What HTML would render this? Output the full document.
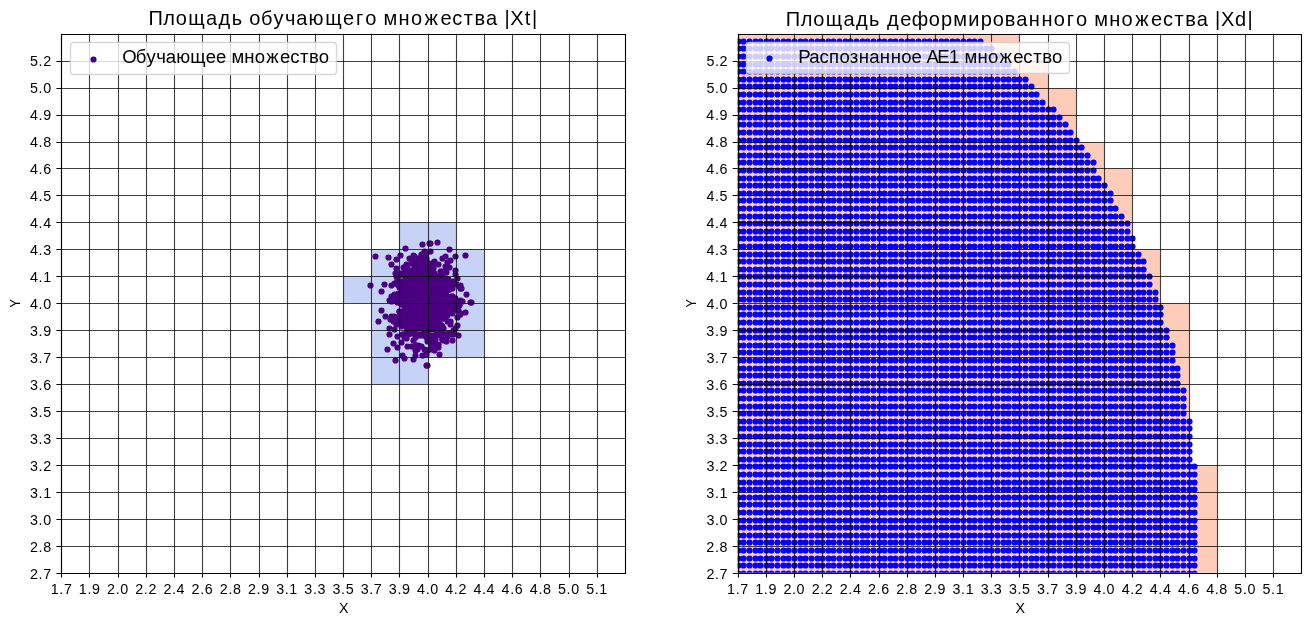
<!DOCTYPE html><html><head><meta charset="utf-8"><style>html,body{margin:0;padding:0;background:#fff;overflow:hidden}svg{display:block;will-change:transform}text{font-family:"Liberation Sans",sans-serif;fill:#000}</style></head><body><svg width="1311" height="626" viewBox="0 0 1311 626"><rect width="1311" height="626" fill="#fff"/><defs><clipPath id="c0"><rect x="61.28" y="33.72" width="563.64" height="539"/></clipPath><clipPath id="c1"><rect x="737.64" y="33.72" width="563.64" height="539"/></clipPath></defs><g clip-path="url(#c0)"><path d="M399 222H428V249H399ZM428 222H456V249H428ZM371 249H399V276H371ZM399 249H428V276H399ZM428 249H456V276H428ZM456 249H484V276H456ZM343 276H371V303H343ZM371 276H399V303H371ZM399 276H428V303H399ZM428 276H456V303H428ZM456 276H484V303H456ZM371 303H399V330H371ZM399 303H428V330H399ZM428 303H456V330H428ZM456 303H484V330H456ZM371 330H399V357H371ZM399 330H428V357H399ZM428 330H456V357H428ZM456 330H484V357H456ZM371 357H399V384H371ZM399 357H428V384H399Z" fill="rgb(198,210,246)"/><g fill="#4b0082"><circle cx="425.5" cy="309.5" r="3.08"/><circle cx="420.5" cy="284.5" r="3.08"/><circle cx="418.5" cy="282.5" r="3.08"/><circle cx="425.5" cy="331.5" r="3.08"/><circle cx="417.5" cy="290.5" r="3.08"/><circle cx="432.5" cy="310.5" r="3.08"/><circle cx="426.5" cy="283.5" r="3.08"/><circle cx="424.5" cy="318.5" r="3.08"/><circle cx="404.5" cy="293.5" r="3.08"/><circle cx="396.5" cy="276.5" r="3.08"/><circle cx="397.5" cy="298.5" r="3.08"/><circle cx="405.5" cy="309.5" r="3.08"/><circle cx="427.5" cy="299.5" r="3.08"/><circle cx="424.5" cy="305.5" r="3.08"/><circle cx="402.5" cy="293.5" r="3.08"/><circle cx="410.5" cy="286.5" r="3.08"/><circle cx="440.5" cy="286.5" r="3.08"/><circle cx="424.5" cy="322.5" r="3.08"/><circle cx="416.5" cy="301.5" r="3.08"/><circle cx="426.5" cy="304.5" r="3.08"/><circle cx="406.5" cy="305.5" r="3.08"/><circle cx="445.5" cy="271.5" r="3.08"/><circle cx="437.5" cy="306.5" r="3.08"/><circle cx="415.5" cy="345.5" r="3.08"/><circle cx="436.5" cy="278.5" r="3.08"/><circle cx="426.5" cy="315.5" r="3.08"/><circle cx="422.5" cy="317.5" r="3.08"/><circle cx="424.5" cy="317.5" r="3.08"/><circle cx="446.5" cy="289.5" r="3.08"/><circle cx="428.5" cy="293.5" r="3.08"/><circle cx="426.5" cy="278.5" r="3.08"/><circle cx="416.5" cy="299.5" r="3.08"/><circle cx="438.5" cy="327.5" r="3.08"/><circle cx="405.5" cy="286.5" r="3.08"/><circle cx="434.5" cy="261.5" r="3.08"/><circle cx="418.5" cy="301.5" r="3.08"/><circle cx="443.5" cy="317.5" r="3.08"/><circle cx="420.5" cy="295.5" r="3.08"/><circle cx="421.5" cy="335.5" r="3.08"/><circle cx="418.5" cy="297.5" r="3.08"/><circle cx="430.5" cy="300.5" r="3.08"/><circle cx="422.5" cy="280.5" r="3.08"/><circle cx="424.5" cy="294.5" r="3.08"/><circle cx="442.5" cy="317.5" r="3.08"/><circle cx="424.5" cy="317.5" r="3.08"/><circle cx="419.5" cy="325.5" r="3.08"/><circle cx="424.5" cy="315.5" r="3.08"/><circle cx="405.5" cy="310.5" r="3.08"/><circle cx="420.5" cy="284.5" r="3.08"/><circle cx="427.5" cy="350.5" r="3.08"/><circle cx="412.5" cy="290.5" r="3.08"/><circle cx="428.5" cy="313.5" r="3.08"/><circle cx="422.5" cy="299.5" r="3.08"/><circle cx="435.5" cy="314.5" r="3.08"/><circle cx="409.5" cy="301.5" r="3.08"/><circle cx="425.5" cy="281.5" r="3.08"/><circle cx="428.5" cy="285.5" r="3.08"/><circle cx="439.5" cy="307.5" r="3.08"/><circle cx="426.5" cy="291.5" r="3.08"/><circle cx="423.5" cy="261.5" r="3.08"/><circle cx="408.5" cy="311.5" r="3.08"/><circle cx="393.5" cy="321.5" r="3.08"/><circle cx="398.5" cy="319.5" r="3.08"/><circle cx="412.5" cy="319.5" r="3.08"/><circle cx="426.5" cy="271.5" r="3.08"/><circle cx="443.5" cy="333.5" r="3.08"/><circle cx="424.5" cy="297.5" r="3.08"/><circle cx="422.5" cy="283.5" r="3.08"/><circle cx="441.5" cy="292.5" r="3.08"/><circle cx="424.5" cy="286.5" r="3.08"/><circle cx="415.5" cy="276.5" r="3.08"/><circle cx="443.5" cy="300.5" r="3.08"/><circle cx="439.5" cy="303.5" r="3.08"/><circle cx="414.5" cy="296.5" r="3.08"/><circle cx="416.5" cy="303.5" r="3.08"/><circle cx="419.5" cy="297.5" r="3.08"/><circle cx="404.5" cy="286.5" r="3.08"/><circle cx="449.5" cy="289.5" r="3.08"/><circle cx="409.5" cy="310.5" r="3.08"/><circle cx="446.5" cy="272.5" r="3.08"/><circle cx="421.5" cy="290.5" r="3.08"/><circle cx="398.5" cy="318.5" r="3.08"/><circle cx="424.5" cy="305.5" r="3.08"/><circle cx="413.5" cy="313.5" r="3.08"/><circle cx="416.5" cy="300.5" r="3.08"/><circle cx="408.5" cy="277.5" r="3.08"/><circle cx="445.5" cy="292.5" r="3.08"/><circle cx="429.5" cy="302.5" r="3.08"/><circle cx="418.5" cy="292.5" r="3.08"/><circle cx="434.5" cy="297.5" r="3.08"/><circle cx="422.5" cy="303.5" r="3.08"/><circle cx="442.5" cy="317.5" r="3.08"/><circle cx="430.5" cy="291.5" r="3.08"/><circle cx="404.5" cy="323.5" r="3.08"/><circle cx="439.5" cy="300.5" r="3.08"/><circle cx="433.5" cy="319.5" r="3.08"/><circle cx="437.5" cy="322.5" r="3.08"/><circle cx="418.5" cy="335.5" r="3.08"/><circle cx="406.5" cy="321.5" r="3.08"/><circle cx="432.5" cy="321.5" r="3.08"/><circle cx="453.5" cy="334.5" r="3.08"/><circle cx="407.5" cy="268.5" r="3.08"/><circle cx="437.5" cy="282.5" r="3.08"/><circle cx="424.5" cy="321.5" r="3.08"/><circle cx="428.5" cy="304.5" r="3.08"/><circle cx="421.5" cy="304.5" r="3.08"/><circle cx="412.5" cy="271.5" r="3.08"/><circle cx="422.5" cy="283.5" r="3.08"/><circle cx="400.5" cy="314.5" r="3.08"/><circle cx="424.5" cy="312.5" r="3.08"/><circle cx="410.5" cy="289.5" r="3.08"/><circle cx="410.5" cy="284.5" r="3.08"/><circle cx="427.5" cy="287.5" r="3.08"/><circle cx="430.5" cy="310.5" r="3.08"/><circle cx="455.5" cy="274.5" r="3.08"/><circle cx="438.5" cy="301.5" r="3.08"/><circle cx="424.5" cy="273.5" r="3.08"/><circle cx="418.5" cy="319.5" r="3.08"/><circle cx="423.5" cy="305.5" r="3.08"/><circle cx="420.5" cy="327.5" r="3.08"/><circle cx="424.5" cy="257.5" r="3.08"/><circle cx="414.5" cy="262.5" r="3.08"/><circle cx="445.5" cy="304.5" r="3.08"/><circle cx="407.5" cy="283.5" r="3.08"/><circle cx="441.5" cy="306.5" r="3.08"/><circle cx="425.5" cy="302.5" r="3.08"/><circle cx="425.5" cy="320.5" r="3.08"/><circle cx="433.5" cy="308.5" r="3.08"/><circle cx="409.5" cy="314.5" r="3.08"/><circle cx="414.5" cy="326.5" r="3.08"/><circle cx="405.5" cy="300.5" r="3.08"/><circle cx="424.5" cy="275.5" r="3.08"/><circle cx="450.5" cy="334.5" r="3.08"/><circle cx="418.5" cy="319.5" r="3.08"/><circle cx="428.5" cy="302.5" r="3.08"/><circle cx="426.5" cy="280.5" r="3.08"/><circle cx="420.5" cy="299.5" r="3.08"/><circle cx="442.5" cy="310.5" r="3.08"/><circle cx="424.5" cy="335.5" r="3.08"/><circle cx="416.5" cy="295.5" r="3.08"/><circle cx="397.5" cy="336.5" r="3.08"/><circle cx="439.5" cy="322.5" r="3.08"/><circle cx="435.5" cy="305.5" r="3.08"/><circle cx="428.5" cy="298.5" r="3.08"/><circle cx="421.5" cy="304.5" r="3.08"/><circle cx="447.5" cy="315.5" r="3.08"/><circle cx="424.5" cy="291.5" r="3.08"/><circle cx="415.5" cy="337.5" r="3.08"/><circle cx="432.5" cy="304.5" r="3.08"/><circle cx="419.5" cy="280.5" r="3.08"/><circle cx="423.5" cy="321.5" r="3.08"/><circle cx="419.5" cy="298.5" r="3.08"/><circle cx="421.5" cy="305.5" r="3.08"/><circle cx="401.5" cy="298.5" r="3.08"/><circle cx="412.5" cy="322.5" r="3.08"/><circle cx="413.5" cy="315.5" r="3.08"/><circle cx="447.5" cy="296.5" r="3.08"/><circle cx="415.5" cy="307.5" r="3.08"/><circle cx="424.5" cy="282.5" r="3.08"/><circle cx="431.5" cy="345.5" r="3.08"/><circle cx="421.5" cy="299.5" r="3.08"/><circle cx="409.5" cy="310.5" r="3.08"/><circle cx="406.5" cy="280.5" r="3.08"/><circle cx="444.5" cy="284.5" r="3.08"/><circle cx="441.5" cy="335.5" r="3.08"/><circle cx="428.5" cy="315.5" r="3.08"/><circle cx="454.5" cy="299.5" r="3.08"/><circle cx="416.5" cy="275.5" r="3.08"/><circle cx="425.5" cy="334.5" r="3.08"/><circle cx="439.5" cy="283.5" r="3.08"/><circle cx="412.5" cy="292.5" r="3.08"/><circle cx="429.5" cy="299.5" r="3.08"/><circle cx="428.5" cy="309.5" r="3.08"/><circle cx="420.5" cy="302.5" r="3.08"/><circle cx="428.5" cy="301.5" r="3.08"/><circle cx="432.5" cy="342.5" r="3.08"/><circle cx="433.5" cy="304.5" r="3.08"/><circle cx="399.5" cy="311.5" r="3.08"/><circle cx="395.5" cy="273.5" r="3.08"/><circle cx="437.5" cy="318.5" r="3.08"/><circle cx="422.5" cy="267.5" r="3.08"/><circle cx="419.5" cy="289.5" r="3.08"/><circle cx="434.5" cy="350.5" r="3.08"/><circle cx="428.5" cy="287.5" r="3.08"/><circle cx="407.5" cy="302.5" r="3.08"/><circle cx="422.5" cy="279.5" r="3.08"/><circle cx="426.5" cy="279.5" r="3.08"/><circle cx="441.5" cy="325.5" r="3.08"/><circle cx="441.5" cy="293.5" r="3.08"/><circle cx="432.5" cy="300.5" r="3.08"/><circle cx="419.5" cy="296.5" r="3.08"/><circle cx="405.5" cy="273.5" r="3.08"/><circle cx="436.5" cy="299.5" r="3.08"/><circle cx="428.5" cy="324.5" r="3.08"/><circle cx="399.5" cy="287.5" r="3.08"/><circle cx="427.5" cy="311.5" r="3.08"/><circle cx="419.5" cy="325.5" r="3.08"/><circle cx="428.5" cy="278.5" r="3.08"/><circle cx="411.5" cy="320.5" r="3.08"/><circle cx="431.5" cy="263.5" r="3.08"/><circle cx="445.5" cy="316.5" r="3.08"/><circle cx="445.5" cy="295.5" r="3.08"/><circle cx="420.5" cy="279.5" r="3.08"/><circle cx="448.5" cy="289.5" r="3.08"/><circle cx="427.5" cy="268.5" r="3.08"/><circle cx="419.5" cy="324.5" r="3.08"/><circle cx="406.5" cy="326.5" r="3.08"/><circle cx="430.5" cy="281.5" r="3.08"/><circle cx="417.5" cy="293.5" r="3.08"/><circle cx="424.5" cy="292.5" r="3.08"/><circle cx="412.5" cy="297.5" r="3.08"/><circle cx="409.5" cy="276.5" r="3.08"/><circle cx="424.5" cy="322.5" r="3.08"/><circle cx="402.5" cy="303.5" r="3.08"/><circle cx="415.5" cy="282.5" r="3.08"/><circle cx="437.5" cy="292.5" r="3.08"/><circle cx="447.5" cy="287.5" r="3.08"/><circle cx="430.5" cy="298.5" r="3.08"/><circle cx="413.5" cy="315.5" r="3.08"/><circle cx="422.5" cy="316.5" r="3.08"/><circle cx="424.5" cy="280.5" r="3.08"/><circle cx="423.5" cy="304.5" r="3.08"/><circle cx="439.5" cy="284.5" r="3.08"/><circle cx="424.5" cy="267.5" r="3.08"/><circle cx="434.5" cy="280.5" r="3.08"/><circle cx="397.5" cy="302.5" r="3.08"/><circle cx="441.5" cy="271.5" r="3.08"/><circle cx="408.5" cy="287.5" r="3.08"/><circle cx="408.5" cy="311.5" r="3.08"/><circle cx="412.5" cy="288.5" r="3.08"/><circle cx="433.5" cy="287.5" r="3.08"/><circle cx="431.5" cy="283.5" r="3.08"/><circle cx="406.5" cy="264.5" r="3.08"/><circle cx="452.5" cy="296.5" r="3.08"/><circle cx="428.5" cy="302.5" r="3.08"/><circle cx="427.5" cy="304.5" r="3.08"/><circle cx="453.5" cy="281.5" r="3.08"/><circle cx="401.5" cy="282.5" r="3.08"/><circle cx="404.5" cy="319.5" r="3.08"/><circle cx="437.5" cy="283.5" r="3.08"/><circle cx="404.5" cy="296.5" r="3.08"/><circle cx="432.5" cy="280.5" r="3.08"/><circle cx="440.5" cy="280.5" r="3.08"/><circle cx="420.5" cy="271.5" r="3.08"/><circle cx="410.5" cy="332.5" r="3.08"/><circle cx="437.5" cy="295.5" r="3.08"/><circle cx="411.5" cy="263.5" r="3.08"/><circle cx="419.5" cy="302.5" r="3.08"/><circle cx="423.5" cy="301.5" r="3.08"/><circle cx="408.5" cy="302.5" r="3.08"/><circle cx="424.5" cy="330.5" r="3.08"/><circle cx="452.5" cy="300.5" r="3.08"/><circle cx="413.5" cy="302.5" r="3.08"/><circle cx="415.5" cy="287.5" r="3.08"/><circle cx="424.5" cy="281.5" r="3.08"/><circle cx="434.5" cy="301.5" r="3.08"/><circle cx="428.5" cy="299.5" r="3.08"/><circle cx="414.5" cy="283.5" r="3.08"/><circle cx="421.5" cy="291.5" r="3.08"/><circle cx="428.5" cy="303.5" r="3.08"/><circle cx="404.5" cy="304.5" r="3.08"/><circle cx="404.5" cy="290.5" r="3.08"/><circle cx="420.5" cy="259.5" r="3.08"/><circle cx="426.5" cy="306.5" r="3.08"/><circle cx="422.5" cy="294.5" r="3.08"/><circle cx="419.5" cy="282.5" r="3.08"/><circle cx="420.5" cy="291.5" r="3.08"/><circle cx="426.5" cy="278.5" r="3.08"/><circle cx="428.5" cy="306.5" r="3.08"/><circle cx="422.5" cy="294.5" r="3.08"/><circle cx="433.5" cy="268.5" r="3.08"/><circle cx="431.5" cy="308.5" r="3.08"/><circle cx="429.5" cy="311.5" r="3.08"/><circle cx="415.5" cy="298.5" r="3.08"/><circle cx="434.5" cy="312.5" r="3.08"/><circle cx="428.5" cy="271.5" r="3.08"/><circle cx="433.5" cy="328.5" r="3.08"/><circle cx="440.5" cy="308.5" r="3.08"/><circle cx="401.5" cy="323.5" r="3.08"/><circle cx="430.5" cy="272.5" r="3.08"/><circle cx="405.5" cy="290.5" r="3.08"/><circle cx="444.5" cy="295.5" r="3.08"/><circle cx="429.5" cy="340.5" r="3.08"/><circle cx="448.5" cy="301.5" r="3.08"/><circle cx="421.5" cy="277.5" r="3.08"/><circle cx="414.5" cy="312.5" r="3.08"/><circle cx="430.5" cy="305.5" r="3.08"/><circle cx="439.5" cy="287.5" r="3.08"/><circle cx="424.5" cy="318.5" r="3.08"/><circle cx="433.5" cy="325.5" r="3.08"/><circle cx="430.5" cy="297.5" r="3.08"/><circle cx="430.5" cy="282.5" r="3.08"/><circle cx="400.5" cy="315.5" r="3.08"/><circle cx="424.5" cy="309.5" r="3.08"/><circle cx="399.5" cy="295.5" r="3.08"/><circle cx="416.5" cy="285.5" r="3.08"/><circle cx="391.5" cy="296.5" r="3.08"/><circle cx="438.5" cy="311.5" r="3.08"/><circle cx="415.5" cy="303.5" r="3.08"/><circle cx="423.5" cy="314.5" r="3.08"/><circle cx="435.5" cy="339.5" r="3.08"/><circle cx="442.5" cy="310.5" r="3.08"/><circle cx="429.5" cy="320.5" r="3.08"/><circle cx="416.5" cy="302.5" r="3.08"/><circle cx="438.5" cy="344.5" r="3.08"/><circle cx="422.5" cy="302.5" r="3.08"/><circle cx="427.5" cy="331.5" r="3.08"/><circle cx="424.5" cy="334.5" r="3.08"/><circle cx="410.5" cy="299.5" r="3.08"/><circle cx="422.5" cy="320.5" r="3.08"/><circle cx="440.5" cy="271.5" r="3.08"/><circle cx="411.5" cy="310.5" r="3.08"/><circle cx="415.5" cy="271.5" r="3.08"/><circle cx="440.5" cy="313.5" r="3.08"/><circle cx="432.5" cy="293.5" r="3.08"/><circle cx="440.5" cy="298.5" r="3.08"/><circle cx="441.5" cy="284.5" r="3.08"/><circle cx="412.5" cy="307.5" r="3.08"/><circle cx="414.5" cy="317.5" r="3.08"/><circle cx="428.5" cy="284.5" r="3.08"/><circle cx="426.5" cy="296.5" r="3.08"/><circle cx="438.5" cy="290.5" r="3.08"/><circle cx="418.5" cy="328.5" r="3.08"/><circle cx="425.5" cy="308.5" r="3.08"/><circle cx="447.5" cy="300.5" r="3.08"/><circle cx="410.5" cy="305.5" r="3.08"/><circle cx="431.5" cy="286.5" r="3.08"/><circle cx="400.5" cy="273.5" r="3.08"/><circle cx="434.5" cy="287.5" r="3.08"/><circle cx="422.5" cy="307.5" r="3.08"/><circle cx="434.5" cy="296.5" r="3.08"/><circle cx="432.5" cy="284.5" r="3.08"/><circle cx="419.5" cy="281.5" r="3.08"/><circle cx="441.5" cy="302.5" r="3.08"/><circle cx="413.5" cy="296.5" r="3.08"/><circle cx="421.5" cy="318.5" r="3.08"/><circle cx="401.5" cy="281.5" r="3.08"/><circle cx="439.5" cy="301.5" r="3.08"/><circle cx="435.5" cy="346.5" r="3.08"/><circle cx="421.5" cy="295.5" r="3.08"/><circle cx="443.5" cy="313.5" r="3.08"/><circle cx="435.5" cy="292.5" r="3.08"/><circle cx="433.5" cy="317.5" r="3.08"/><circle cx="394.5" cy="316.5" r="3.08"/><circle cx="422.5" cy="312.5" r="3.08"/><circle cx="435.5" cy="296.5" r="3.08"/><circle cx="399.5" cy="311.5" r="3.08"/><circle cx="413.5" cy="296.5" r="3.08"/><circle cx="415.5" cy="296.5" r="3.08"/><circle cx="428.5" cy="326.5" r="3.08"/><circle cx="454.5" cy="303.5" r="3.08"/><circle cx="397.5" cy="284.5" r="3.08"/><circle cx="406.5" cy="292.5" r="3.08"/><circle cx="426.5" cy="261.5" r="3.08"/><circle cx="430.5" cy="271.5" r="3.08"/><circle cx="429.5" cy="301.5" r="3.08"/><circle cx="420.5" cy="301.5" r="3.08"/><circle cx="416.5" cy="290.5" r="3.08"/><circle cx="399.5" cy="302.5" r="3.08"/><circle cx="444.5" cy="318.5" r="3.08"/><circle cx="414.5" cy="333.5" r="3.08"/><circle cx="424.5" cy="302.5" r="3.08"/><circle cx="420.5" cy="305.5" r="3.08"/><circle cx="418.5" cy="301.5" r="3.08"/><circle cx="408.5" cy="295.5" r="3.08"/><circle cx="459.5" cy="302.5" r="3.08"/><circle cx="421.5" cy="314.5" r="3.08"/><circle cx="435.5" cy="280.5" r="3.08"/><circle cx="421.5" cy="322.5" r="3.08"/><circle cx="429.5" cy="306.5" r="3.08"/><circle cx="448.5" cy="289.5" r="3.08"/><circle cx="426.5" cy="292.5" r="3.08"/><circle cx="447.5" cy="262.5" r="3.08"/><circle cx="414.5" cy="292.5" r="3.08"/><circle cx="434.5" cy="316.5" r="3.08"/><circle cx="445.5" cy="270.5" r="3.08"/><circle cx="436.5" cy="297.5" r="3.08"/><circle cx="415.5" cy="314.5" r="3.08"/><circle cx="411.5" cy="259.5" r="3.08"/><circle cx="419.5" cy="272.5" r="3.08"/><circle cx="415.5" cy="311.5" r="3.08"/><circle cx="429.5" cy="336.5" r="3.08"/><circle cx="422.5" cy="271.5" r="3.08"/><circle cx="413.5" cy="284.5" r="3.08"/><circle cx="406.5" cy="312.5" r="3.08"/><circle cx="415.5" cy="261.5" r="3.08"/><circle cx="435.5" cy="301.5" r="3.08"/><circle cx="430.5" cy="305.5" r="3.08"/><circle cx="434.5" cy="304.5" r="3.08"/><circle cx="443.5" cy="312.5" r="3.08"/><circle cx="430.5" cy="312.5" r="3.08"/><circle cx="403.5" cy="300.5" r="3.08"/><circle cx="421.5" cy="307.5" r="3.08"/><circle cx="404.5" cy="337.5" r="3.08"/><circle cx="426.5" cy="278.5" r="3.08"/><circle cx="399.5" cy="297.5" r="3.08"/><circle cx="423.5" cy="288.5" r="3.08"/><circle cx="426.5" cy="290.5" r="3.08"/><circle cx="433.5" cy="288.5" r="3.08"/><circle cx="424.5" cy="324.5" r="3.08"/><circle cx="418.5" cy="285.5" r="3.08"/><circle cx="436.5" cy="279.5" r="3.08"/><circle cx="417.5" cy="302.5" r="3.08"/><circle cx="410.5" cy="283.5" r="3.08"/><circle cx="417.5" cy="259.5" r="3.08"/><circle cx="403.5" cy="294.5" r="3.08"/><circle cx="427.5" cy="299.5" r="3.08"/><circle cx="398.5" cy="293.5" r="3.08"/><circle cx="436.5" cy="315.5" r="3.08"/><circle cx="423.5" cy="284.5" r="3.08"/><circle cx="434.5" cy="291.5" r="3.08"/><circle cx="407.5" cy="286.5" r="3.08"/><circle cx="446.5" cy="308.5" r="3.08"/><circle cx="442.5" cy="293.5" r="3.08"/><circle cx="439.5" cy="290.5" r="3.08"/><circle cx="422.5" cy="355.5" r="3.08"/><circle cx="436.5" cy="292.5" r="3.08"/><circle cx="423.5" cy="310.5" r="3.08"/><circle cx="443.5" cy="293.5" r="3.08"/><circle cx="398.5" cy="297.5" r="3.08"/><circle cx="425.5" cy="305.5" r="3.08"/><circle cx="444.5" cy="310.5" r="3.08"/><circle cx="437.5" cy="280.5" r="3.08"/><circle cx="438.5" cy="347.5" r="3.08"/><circle cx="436.5" cy="308.5" r="3.08"/><circle cx="427.5" cy="341.5" r="3.08"/><circle cx="411.5" cy="301.5" r="3.08"/><circle cx="431.5" cy="319.5" r="3.08"/><circle cx="418.5" cy="309.5" r="3.08"/><circle cx="420.5" cy="306.5" r="3.08"/><circle cx="423.5" cy="279.5" r="3.08"/><circle cx="424.5" cy="321.5" r="3.08"/><circle cx="410.5" cy="298.5" r="3.08"/><circle cx="434.5" cy="281.5" r="3.08"/><circle cx="427.5" cy="281.5" r="3.08"/><circle cx="455.5" cy="298.5" r="3.08"/><circle cx="436.5" cy="306.5" r="3.08"/><circle cx="426.5" cy="336.5" r="3.08"/><circle cx="405.5" cy="325.5" r="3.08"/><circle cx="424.5" cy="333.5" r="3.08"/><circle cx="427.5" cy="289.5" r="3.08"/><circle cx="429.5" cy="318.5" r="3.08"/><circle cx="425.5" cy="313.5" r="3.08"/><circle cx="417.5" cy="258.5" r="3.08"/><circle cx="438.5" cy="318.5" r="3.08"/><circle cx="427.5" cy="304.5" r="3.08"/><circle cx="440.5" cy="293.5" r="3.08"/><circle cx="414.5" cy="299.5" r="3.08"/><circle cx="442.5" cy="274.5" r="3.08"/><circle cx="442.5" cy="290.5" r="3.08"/><circle cx="408.5" cy="329.5" r="3.08"/><circle cx="423.5" cy="276.5" r="3.08"/><circle cx="419.5" cy="323.5" r="3.08"/><circle cx="442.5" cy="294.5" r="3.08"/><circle cx="431.5" cy="318.5" r="3.08"/><circle cx="415.5" cy="310.5" r="3.08"/><circle cx="424.5" cy="292.5" r="3.08"/><circle cx="417.5" cy="304.5" r="3.08"/><circle cx="425.5" cy="291.5" r="3.08"/><circle cx="418.5" cy="326.5" r="3.08"/><circle cx="428.5" cy="322.5" r="3.08"/><circle cx="443.5" cy="315.5" r="3.08"/><circle cx="459.5" cy="286.5" r="3.08"/><circle cx="437.5" cy="296.5" r="3.08"/><circle cx="395.5" cy="283.5" r="3.08"/><circle cx="434.5" cy="320.5" r="3.08"/><circle cx="436.5" cy="302.5" r="3.08"/><circle cx="431.5" cy="317.5" r="3.08"/><circle cx="423.5" cy="325.5" r="3.08"/><circle cx="391.5" cy="316.5" r="3.08"/><circle cx="409.5" cy="323.5" r="3.08"/><circle cx="421.5" cy="284.5" r="3.08"/><circle cx="430.5" cy="284.5" r="3.08"/><circle cx="411.5" cy="270.5" r="3.08"/><circle cx="424.5" cy="313.5" r="3.08"/><circle cx="440.5" cy="300.5" r="3.08"/><circle cx="440.5" cy="303.5" r="3.08"/><circle cx="423.5" cy="315.5" r="3.08"/><circle cx="440.5" cy="296.5" r="3.08"/><circle cx="421.5" cy="300.5" r="3.08"/><circle cx="426.5" cy="284.5" r="3.08"/><circle cx="440.5" cy="295.5" r="3.08"/><circle cx="431.5" cy="286.5" r="3.08"/><circle cx="430.5" cy="311.5" r="3.08"/><circle cx="418.5" cy="345.5" r="3.08"/><circle cx="430.5" cy="340.5" r="3.08"/><circle cx="439.5" cy="289.5" r="3.08"/><circle cx="419.5" cy="312.5" r="3.08"/><circle cx="425.5" cy="304.5" r="3.08"/><circle cx="420.5" cy="265.5" r="3.08"/><circle cx="421.5" cy="256.5" r="3.08"/><circle cx="430.5" cy="288.5" r="3.08"/><circle cx="414.5" cy="298.5" r="3.08"/><circle cx="429.5" cy="273.5" r="3.08"/><circle cx="398.5" cy="281.5" r="3.08"/><circle cx="394.5" cy="283.5" r="3.08"/><circle cx="448.5" cy="281.5" r="3.08"/><circle cx="434.5" cy="274.5" r="3.08"/><circle cx="429.5" cy="296.5" r="3.08"/><circle cx="424.5" cy="315.5" r="3.08"/><circle cx="451.5" cy="307.5" r="3.08"/><circle cx="426.5" cy="283.5" r="3.08"/><circle cx="433.5" cy="298.5" r="3.08"/><circle cx="437.5" cy="302.5" r="3.08"/><circle cx="420.5" cy="322.5" r="3.08"/><circle cx="419.5" cy="286.5" r="3.08"/><circle cx="421.5" cy="274.5" r="3.08"/><circle cx="426.5" cy="354.5" r="3.08"/><circle cx="442.5" cy="280.5" r="3.08"/><circle cx="411.5" cy="295.5" r="3.08"/><circle cx="440.5" cy="286.5" r="3.08"/><circle cx="414.5" cy="322.5" r="3.08"/><circle cx="437.5" cy="295.5" r="3.08"/><circle cx="408.5" cy="270.5" r="3.08"/><circle cx="414.5" cy="256.5" r="3.08"/><circle cx="436.5" cy="290.5" r="3.08"/><circle cx="432.5" cy="342.5" r="3.08"/><circle cx="442.5" cy="279.5" r="3.08"/><circle cx="438.5" cy="327.5" r="3.08"/><circle cx="413.5" cy="283.5" r="3.08"/><circle cx="423.5" cy="269.5" r="3.08"/><circle cx="408.5" cy="297.5" r="3.08"/><circle cx="421.5" cy="306.5" r="3.08"/><circle cx="429.5" cy="299.5" r="3.08"/><circle cx="442.5" cy="258.5" r="3.08"/><circle cx="424.5" cy="288.5" r="3.08"/><circle cx="426.5" cy="308.5" r="3.08"/><circle cx="411.5" cy="290.5" r="3.08"/><circle cx="436.5" cy="310.5" r="3.08"/><circle cx="414.5" cy="346.5" r="3.08"/><circle cx="436.5" cy="308.5" r="3.08"/><circle cx="421.5" cy="292.5" r="3.08"/><circle cx="421.5" cy="291.5" r="3.08"/><circle cx="436.5" cy="295.5" r="3.08"/><circle cx="418.5" cy="278.5" r="3.08"/><circle cx="424.5" cy="284.5" r="3.08"/><circle cx="422.5" cy="325.5" r="3.08"/><circle cx="430.5" cy="314.5" r="3.08"/><circle cx="430.5" cy="304.5" r="3.08"/><circle cx="423.5" cy="297.5" r="3.08"/><circle cx="436.5" cy="280.5" r="3.08"/><circle cx="445.5" cy="304.5" r="3.08"/><circle cx="413.5" cy="293.5" r="3.08"/><circle cx="414.5" cy="306.5" r="3.08"/><circle cx="414.5" cy="327.5" r="3.08"/><circle cx="413.5" cy="255.5" r="3.08"/><circle cx="414.5" cy="261.5" r="3.08"/><circle cx="424.5" cy="325.5" r="3.08"/><circle cx="434.5" cy="275.5" r="3.08"/><circle cx="413.5" cy="340.5" r="3.08"/><circle cx="429.5" cy="303.5" r="3.08"/><circle cx="444.5" cy="306.5" r="3.08"/><circle cx="430.5" cy="316.5" r="3.08"/><circle cx="415.5" cy="281.5" r="3.08"/><circle cx="425.5" cy="283.5" r="3.08"/><circle cx="424.5" cy="305.5" r="3.08"/><circle cx="460.5" cy="285.5" r="3.08"/><circle cx="423.5" cy="300.5" r="3.08"/><circle cx="431.5" cy="325.5" r="3.08"/><circle cx="417.5" cy="286.5" r="3.08"/><circle cx="400.5" cy="284.5" r="3.08"/><circle cx="433.5" cy="304.5" r="3.08"/><circle cx="409.5" cy="295.5" r="3.08"/><circle cx="425.5" cy="314.5" r="3.08"/><circle cx="416.5" cy="298.5" r="3.08"/><circle cx="397.5" cy="279.5" r="3.08"/><circle cx="419.5" cy="308.5" r="3.08"/><circle cx="419.5" cy="286.5" r="3.08"/><circle cx="424.5" cy="303.5" r="3.08"/><circle cx="423.5" cy="264.5" r="3.08"/><circle cx="422.5" cy="285.5" r="3.08"/><circle cx="416.5" cy="308.5" r="3.08"/><circle cx="434.5" cy="322.5" r="3.08"/><circle cx="417.5" cy="322.5" r="3.08"/><circle cx="442.5" cy="327.5" r="3.08"/><circle cx="445.5" cy="300.5" r="3.08"/><circle cx="422.5" cy="320.5" r="3.08"/><circle cx="404.5" cy="307.5" r="3.08"/><circle cx="417.5" cy="295.5" r="3.08"/><circle cx="398.5" cy="284.5" r="3.08"/><circle cx="424.5" cy="322.5" r="3.08"/><circle cx="439.5" cy="301.5" r="3.08"/><circle cx="422.5" cy="286.5" r="3.08"/><circle cx="431.5" cy="298.5" r="3.08"/><circle cx="434.5" cy="340.5" r="3.08"/><circle cx="424.5" cy="272.5" r="3.08"/><circle cx="412.5" cy="272.5" r="3.08"/><circle cx="407.5" cy="330.5" r="3.08"/><circle cx="428.5" cy="271.5" r="3.08"/><circle cx="434.5" cy="329.5" r="3.08"/><circle cx="419.5" cy="289.5" r="3.08"/><circle cx="419.5" cy="309.5" r="3.08"/><circle cx="434.5" cy="328.5" r="3.08"/><circle cx="443.5" cy="328.5" r="3.08"/><circle cx="445.5" cy="317.5" r="3.08"/><circle cx="402.5" cy="300.5" r="3.08"/><circle cx="429.5" cy="295.5" r="3.08"/><circle cx="438.5" cy="295.5" r="3.08"/><circle cx="411.5" cy="333.5" r="3.08"/><circle cx="434.5" cy="308.5" r="3.08"/><circle cx="438.5" cy="325.5" r="3.08"/><circle cx="430.5" cy="251.5" r="3.08"/><circle cx="414.5" cy="293.5" r="3.08"/><circle cx="410.5" cy="307.5" r="3.08"/><circle cx="442.5" cy="293.5" r="3.08"/><circle cx="407.5" cy="346.5" r="3.08"/><circle cx="418.5" cy="277.5" r="3.08"/><circle cx="428.5" cy="312.5" r="3.08"/><circle cx="414.5" cy="320.5" r="3.08"/><circle cx="417.5" cy="284.5" r="3.08"/><circle cx="427.5" cy="319.5" r="3.08"/><circle cx="415.5" cy="310.5" r="3.08"/><circle cx="414.5" cy="332.5" r="3.08"/><circle cx="424.5" cy="300.5" r="3.08"/><circle cx="435.5" cy="322.5" r="3.08"/><circle cx="444.5" cy="310.5" r="3.08"/><circle cx="415.5" cy="292.5" r="3.08"/><circle cx="432.5" cy="315.5" r="3.08"/><circle cx="445.5" cy="312.5" r="3.08"/><circle cx="440.5" cy="335.5" r="3.08"/><circle cx="427.5" cy="272.5" r="3.08"/><circle cx="407.5" cy="273.5" r="3.08"/><circle cx="448.5" cy="285.5" r="3.08"/><circle cx="443.5" cy="315.5" r="3.08"/><circle cx="450.5" cy="324.5" r="3.08"/><circle cx="423.5" cy="299.5" r="3.08"/><circle cx="426.5" cy="307.5" r="3.08"/><circle cx="417.5" cy="302.5" r="3.08"/><circle cx="449.5" cy="267.5" r="3.08"/><circle cx="428.5" cy="284.5" r="3.08"/><circle cx="427.5" cy="321.5" r="3.08"/><circle cx="424.5" cy="319.5" r="3.08"/><circle cx="401.5" cy="326.5" r="3.08"/><circle cx="415.5" cy="316.5" r="3.08"/><circle cx="413.5" cy="308.5" r="3.08"/><circle cx="448.5" cy="309.5" r="3.08"/><circle cx="428.5" cy="273.5" r="3.08"/><circle cx="446.5" cy="341.5" r="3.08"/><circle cx="425.5" cy="298.5" r="3.08"/><circle cx="400.5" cy="322.5" r="3.08"/><circle cx="443.5" cy="314.5" r="3.08"/><circle cx="410.5" cy="331.5" r="3.08"/><circle cx="406.5" cy="299.5" r="3.08"/><circle cx="429.5" cy="322.5" r="3.08"/><circle cx="431.5" cy="311.5" r="3.08"/><circle cx="413.5" cy="276.5" r="3.08"/><circle cx="425.5" cy="288.5" r="3.08"/><circle cx="405.5" cy="276.5" r="3.08"/><circle cx="417.5" cy="264.5" r="3.08"/><circle cx="404.5" cy="269.5" r="3.08"/><circle cx="427.5" cy="312.5" r="3.08"/><circle cx="414.5" cy="322.5" r="3.08"/><circle cx="421.5" cy="296.5" r="3.08"/><circle cx="450.5" cy="296.5" r="3.08"/><circle cx="407.5" cy="275.5" r="3.08"/><circle cx="430.5" cy="309.5" r="3.08"/><circle cx="404.5" cy="282.5" r="3.08"/><circle cx="433.5" cy="315.5" r="3.08"/><circle cx="415.5" cy="316.5" r="3.08"/><circle cx="433.5" cy="266.5" r="3.08"/><circle cx="420.5" cy="312.5" r="3.08"/><circle cx="416.5" cy="258.5" r="3.08"/><circle cx="420.5" cy="319.5" r="3.08"/><circle cx="439.5" cy="329.5" r="3.08"/><circle cx="439.5" cy="306.5" r="3.08"/><circle cx="407.5" cy="316.5" r="3.08"/><circle cx="452.5" cy="284.5" r="3.08"/><circle cx="447.5" cy="336.5" r="3.08"/><circle cx="448.5" cy="303.5" r="3.08"/><circle cx="406.5" cy="299.5" r="3.08"/><circle cx="426.5" cy="282.5" r="3.08"/><circle cx="422.5" cy="301.5" r="3.08"/><circle cx="453.5" cy="330.5" r="3.08"/><circle cx="424.5" cy="328.5" r="3.08"/><circle cx="413.5" cy="296.5" r="3.08"/><circle cx="438.5" cy="277.5" r="3.08"/><circle cx="420.5" cy="275.5" r="3.08"/><circle cx="426.5" cy="337.5" r="3.08"/><circle cx="413.5" cy="308.5" r="3.08"/><circle cx="411.5" cy="279.5" r="3.08"/><circle cx="406.5" cy="334.5" r="3.08"/><circle cx="460.5" cy="313.5" r="3.08"/><circle cx="414.5" cy="318.5" r="3.08"/><circle cx="419.5" cy="320.5" r="3.08"/><circle cx="429.5" cy="309.5" r="3.08"/><circle cx="434.5" cy="291.5" r="3.08"/><circle cx="418.5" cy="267.5" r="3.08"/><circle cx="418.5" cy="273.5" r="3.08"/><circle cx="422.5" cy="283.5" r="3.08"/><circle cx="426.5" cy="313.5" r="3.08"/><circle cx="403.5" cy="286.5" r="3.08"/><circle cx="410.5" cy="319.5" r="3.08"/><circle cx="450.5" cy="321.5" r="3.08"/><circle cx="419.5" cy="334.5" r="3.08"/><circle cx="402.5" cy="334.5" r="3.08"/><circle cx="409.5" cy="307.5" r="3.08"/><circle cx="421.5" cy="305.5" r="3.08"/><circle cx="402.5" cy="289.5" r="3.08"/><circle cx="432.5" cy="308.5" r="3.08"/><circle cx="442.5" cy="305.5" r="3.08"/><circle cx="460.5" cy="288.5" r="3.08"/><circle cx="428.5" cy="263.5" r="3.08"/><circle cx="406.5" cy="331.5" r="3.08"/><circle cx="410.5" cy="314.5" r="3.08"/><circle cx="424.5" cy="281.5" r="3.08"/><circle cx="419.5" cy="292.5" r="3.08"/><circle cx="417.5" cy="319.5" r="3.08"/><circle cx="434.5" cy="291.5" r="3.08"/><circle cx="411.5" cy="309.5" r="3.08"/><circle cx="423.5" cy="325.5" r="3.08"/><circle cx="424.5" cy="299.5" r="3.08"/><circle cx="412.5" cy="284.5" r="3.08"/><circle cx="409.5" cy="295.5" r="3.08"/><circle cx="418.5" cy="319.5" r="3.08"/><circle cx="419.5" cy="299.5" r="3.08"/><circle cx="406.5" cy="338.5" r="3.08"/><circle cx="432.5" cy="341.5" r="3.08"/><circle cx="436.5" cy="334.5" r="3.08"/><circle cx="421.5" cy="318.5" r="3.08"/><circle cx="442.5" cy="339.5" r="3.08"/><circle cx="431.5" cy="319.5" r="3.08"/><circle cx="444.5" cy="289.5" r="3.08"/><circle cx="431.5" cy="284.5" r="3.08"/><circle cx="414.5" cy="290.5" r="3.08"/><circle cx="422.5" cy="306.5" r="3.08"/><circle cx="431.5" cy="273.5" r="3.08"/><circle cx="455.5" cy="328.5" r="3.08"/><circle cx="436.5" cy="295.5" r="3.08"/><circle cx="423.5" cy="315.5" r="3.08"/><circle cx="431.5" cy="267.5" r="3.08"/><circle cx="396.5" cy="324.5" r="3.08"/><circle cx="430.5" cy="301.5" r="3.08"/><circle cx="446.5" cy="278.5" r="3.08"/><circle cx="427.5" cy="335.5" r="3.08"/><circle cx="421.5" cy="294.5" r="3.08"/><circle cx="426.5" cy="293.5" r="3.08"/><circle cx="448.5" cy="283.5" r="3.08"/><circle cx="438.5" cy="276.5" r="3.08"/><circle cx="435.5" cy="301.5" r="3.08"/><circle cx="408.5" cy="293.5" r="3.08"/><circle cx="448.5" cy="279.5" r="3.08"/><circle cx="408.5" cy="334.5" r="3.08"/><circle cx="426.5" cy="336.5" r="3.08"/><circle cx="429.5" cy="284.5" r="3.08"/><circle cx="423.5" cy="330.5" r="3.08"/><circle cx="439.5" cy="303.5" r="3.08"/><circle cx="425.5" cy="301.5" r="3.08"/><circle cx="416.5" cy="345.5" r="3.08"/><circle cx="425.5" cy="279.5" r="3.08"/><circle cx="417.5" cy="319.5" r="3.08"/><circle cx="434.5" cy="300.5" r="3.08"/><circle cx="414.5" cy="304.5" r="3.08"/><circle cx="399.5" cy="275.5" r="3.08"/><circle cx="437.5" cy="293.5" r="3.08"/><circle cx="430.5" cy="329.5" r="3.08"/><circle cx="435.5" cy="303.5" r="3.08"/><circle cx="457.5" cy="317.5" r="3.08"/><circle cx="419.5" cy="319.5" r="3.08"/><circle cx="431.5" cy="285.5" r="3.08"/><circle cx="426.5" cy="299.5" r="3.08"/><circle cx="394.5" cy="299.5" r="3.08"/><circle cx="420.5" cy="294.5" r="3.08"/><circle cx="399.5" cy="295.5" r="3.08"/><circle cx="424.5" cy="305.5" r="3.08"/><circle cx="407.5" cy="317.5" r="3.08"/><circle cx="406.5" cy="298.5" r="3.08"/><circle cx="445.5" cy="288.5" r="3.08"/><circle cx="417.5" cy="326.5" r="3.08"/><circle cx="419.5" cy="297.5" r="3.08"/><circle cx="428.5" cy="326.5" r="3.08"/><circle cx="391.5" cy="285.5" r="3.08"/><circle cx="409.5" cy="280.5" r="3.08"/><circle cx="411.5" cy="285.5" r="3.08"/><circle cx="429.5" cy="284.5" r="3.08"/><circle cx="426.5" cy="312.5" r="3.08"/><circle cx="413.5" cy="306.5" r="3.08"/><circle cx="450.5" cy="310.5" r="3.08"/><circle cx="415.5" cy="302.5" r="3.08"/><circle cx="410.5" cy="309.5" r="3.08"/><circle cx="438.5" cy="285.5" r="3.08"/><circle cx="421.5" cy="327.5" r="3.08"/><circle cx="417.5" cy="307.5" r="3.08"/><circle cx="409.5" cy="285.5" r="3.08"/><circle cx="417.5" cy="349.5" r="3.08"/><circle cx="418.5" cy="292.5" r="3.08"/><circle cx="416.5" cy="300.5" r="3.08"/><circle cx="434.5" cy="307.5" r="3.08"/><circle cx="455.5" cy="307.5" r="3.08"/><circle cx="446.5" cy="309.5" r="3.08"/><circle cx="434.5" cy="273.5" r="3.08"/><circle cx="423.5" cy="302.5" r="3.08"/><circle cx="421.5" cy="258.5" r="3.08"/><circle cx="438.5" cy="295.5" r="3.08"/><circle cx="418.5" cy="298.5" r="3.08"/><circle cx="421.5" cy="312.5" r="3.08"/><circle cx="405.5" cy="283.5" r="3.08"/><circle cx="429.5" cy="306.5" r="3.08"/><circle cx="419.5" cy="291.5" r="3.08"/><circle cx="412.5" cy="302.5" r="3.08"/><circle cx="442.5" cy="281.5" r="3.08"/><circle cx="447.5" cy="321.5" r="3.08"/><circle cx="418.5" cy="319.5" r="3.08"/><circle cx="403.5" cy="267.5" r="3.08"/><circle cx="405.5" cy="294.5" r="3.08"/><circle cx="420.5" cy="292.5" r="3.08"/><circle cx="426.5" cy="258.5" r="3.08"/><circle cx="432.5" cy="273.5" r="3.08"/><circle cx="415.5" cy="294.5" r="3.08"/><circle cx="407.5" cy="274.5" r="3.08"/><circle cx="409.5" cy="303.5" r="3.08"/><circle cx="433.5" cy="315.5" r="3.08"/><circle cx="410.5" cy="286.5" r="3.08"/><circle cx="411.5" cy="312.5" r="3.08"/><circle cx="394.5" cy="329.5" r="3.08"/><circle cx="417.5" cy="287.5" r="3.08"/><circle cx="430.5" cy="325.5" r="3.08"/><circle cx="430.5" cy="325.5" r="3.08"/><circle cx="427.5" cy="329.5" r="3.08"/><circle cx="443.5" cy="301.5" r="3.08"/><circle cx="446.5" cy="306.5" r="3.08"/><circle cx="426.5" cy="284.5" r="3.08"/><circle cx="420.5" cy="319.5" r="3.08"/><circle cx="405.5" cy="317.5" r="3.08"/><circle cx="430.5" cy="309.5" r="3.08"/><circle cx="391.5" cy="301.5" r="3.08"/><circle cx="434.5" cy="287.5" r="3.08"/><circle cx="426.5" cy="253.5" r="3.08"/><circle cx="435.5" cy="289.5" r="3.08"/><circle cx="438.5" cy="264.5" r="3.08"/><circle cx="435.5" cy="298.5" r="3.08"/><circle cx="437.5" cy="284.5" r="3.08"/><circle cx="415.5" cy="350.5" r="3.08"/><circle cx="412.5" cy="288.5" r="3.08"/><circle cx="420.5" cy="282.5" r="3.08"/><circle cx="442.5" cy="339.5" r="3.08"/><circle cx="414.5" cy="267.5" r="3.08"/><circle cx="442.5" cy="326.5" r="3.08"/><circle cx="437.5" cy="327.5" r="3.08"/><circle cx="411.5" cy="299.5" r="3.08"/><circle cx="404.5" cy="273.5" r="3.08"/><circle cx="439.5" cy="289.5" r="3.08"/><circle cx="459.5" cy="305.5" r="3.08"/><circle cx="415.5" cy="320.5" r="3.08"/><circle cx="452.5" cy="313.5" r="3.08"/><circle cx="406.5" cy="311.5" r="3.08"/><circle cx="445.5" cy="293.5" r="3.08"/><circle cx="413.5" cy="324.5" r="3.08"/><circle cx="427.5" cy="280.5" r="3.08"/><circle cx="419.5" cy="287.5" r="3.08"/><circle cx="429.5" cy="305.5" r="3.08"/><circle cx="442.5" cy="318.5" r="3.08"/><circle cx="401.5" cy="312.5" r="3.08"/><circle cx="438.5" cy="313.5" r="3.08"/><circle cx="440.5" cy="291.5" r="3.08"/><circle cx="410.5" cy="323.5" r="3.08"/><circle cx="409.5" cy="258.5" r="3.08"/><circle cx="440.5" cy="288.5" r="3.08"/><circle cx="420.5" cy="274.5" r="3.08"/><circle cx="405.5" cy="279.5" r="3.08"/><circle cx="419.5" cy="311.5" r="3.08"/><circle cx="390.5" cy="319.5" r="3.08"/><circle cx="407.5" cy="281.5" r="3.08"/><circle cx="435.5" cy="301.5" r="3.08"/><circle cx="401.5" cy="342.5" r="3.08"/><circle cx="412.5" cy="308.5" r="3.08"/><circle cx="427.5" cy="333.5" r="3.08"/><circle cx="418.5" cy="324.5" r="3.08"/><circle cx="413.5" cy="327.5" r="3.08"/><circle cx="413.5" cy="295.5" r="3.08"/><circle cx="453.5" cy="310.5" r="3.08"/><circle cx="426.5" cy="350.5" r="3.08"/><circle cx="430.5" cy="286.5" r="3.08"/><circle cx="436.5" cy="278.5" r="3.08"/><circle cx="441.5" cy="328.5" r="3.08"/><circle cx="416.5" cy="290.5" r="3.08"/><circle cx="427.5" cy="303.5" r="3.08"/><circle cx="410.5" cy="315.5" r="3.08"/><circle cx="394.5" cy="294.5" r="3.08"/><circle cx="418.5" cy="297.5" r="3.08"/><circle cx="429.5" cy="277.5" r="3.08"/><circle cx="433.5" cy="299.5" r="3.08"/><circle cx="415.5" cy="274.5" r="3.08"/><circle cx="407.5" cy="311.5" r="3.08"/><circle cx="410.5" cy="304.5" r="3.08"/><circle cx="440.5" cy="325.5" r="3.08"/><circle cx="448.5" cy="297.5" r="3.08"/><circle cx="408.5" cy="324.5" r="3.08"/><circle cx="429.5" cy="327.5" r="3.08"/><circle cx="425.5" cy="328.5" r="3.08"/><circle cx="437.5" cy="318.5" r="3.08"/><circle cx="432.5" cy="311.5" r="3.08"/><circle cx="428.5" cy="308.5" r="3.08"/><circle cx="439.5" cy="292.5" r="3.08"/><circle cx="451.5" cy="301.5" r="3.08"/><circle cx="439.5" cy="301.5" r="3.08"/><circle cx="421.5" cy="346.5" r="3.08"/><circle cx="420.5" cy="276.5" r="3.08"/><circle cx="414.5" cy="296.5" r="3.08"/><circle cx="457.5" cy="307.5" r="3.08"/><circle cx="439.5" cy="282.5" r="3.08"/><circle cx="430.5" cy="317.5" r="3.08"/><circle cx="452.5" cy="288.5" r="3.08"/><circle cx="434.5" cy="309.5" r="3.08"/><circle cx="409.5" cy="303.5" r="3.08"/><circle cx="421.5" cy="254.5" r="3.08"/><circle cx="433.5" cy="314.5" r="3.08"/><circle cx="418.5" cy="275.5" r="3.08"/><circle cx="447.5" cy="309.5" r="3.08"/><circle cx="440.5" cy="333.5" r="3.08"/><circle cx="417.5" cy="320.5" r="3.08"/><circle cx="421.5" cy="302.5" r="3.08"/><circle cx="423.5" cy="303.5" r="3.08"/><circle cx="441.5" cy="306.5" r="3.08"/><circle cx="422.5" cy="297.5" r="3.08"/><circle cx="430.5" cy="284.5" r="3.08"/><circle cx="417.5" cy="302.5" r="3.08"/><circle cx="416.5" cy="301.5" r="3.08"/><circle cx="415.5" cy="345.5" r="3.08"/><circle cx="444.5" cy="312.5" r="3.08"/><circle cx="424.5" cy="349.5" r="3.08"/><circle cx="429.5" cy="301.5" r="3.08"/><circle cx="429.5" cy="309.5" r="3.08"/><circle cx="446.5" cy="303.5" r="3.08"/><circle cx="456.5" cy="284.5" r="3.08"/><circle cx="435.5" cy="282.5" r="3.08"/><circle cx="452.5" cy="296.5" r="3.08"/><circle cx="424.5" cy="322.5" r="3.08"/><circle cx="443.5" cy="280.5" r="3.08"/><circle cx="419.5" cy="274.5" r="3.08"/><circle cx="427.5" cy="301.5" r="3.08"/><circle cx="419.5" cy="289.5" r="3.08"/><circle cx="419.5" cy="287.5" r="3.08"/><circle cx="432.5" cy="335.5" r="3.08"/><circle cx="396.5" cy="301.5" r="3.08"/><circle cx="418.5" cy="313.5" r="3.08"/><circle cx="410.5" cy="300.5" r="3.08"/><circle cx="409.5" cy="318.5" r="3.08"/><circle cx="426.5" cy="300.5" r="3.08"/><circle cx="430.5" cy="298.5" r="3.08"/><circle cx="401.5" cy="316.5" r="3.08"/><circle cx="429.5" cy="300.5" r="3.08"/><circle cx="439.5" cy="329.5" r="3.08"/><circle cx="408.5" cy="287.5" r="3.08"/><circle cx="448.5" cy="333.5" r="3.08"/><circle cx="413.5" cy="278.5" r="3.08"/><circle cx="415.5" cy="293.5" r="3.08"/><circle cx="401.5" cy="304.5" r="3.08"/><circle cx="405.5" cy="278.5" r="3.08"/><circle cx="438.5" cy="289.5" r="3.08"/><circle cx="423.5" cy="316.5" r="3.08"/><circle cx="375.5" cy="256.5" r="3.08"/><circle cx="388.5" cy="257.5" r="3.08"/><circle cx="396.5" cy="259.5" r="3.08"/><circle cx="400.5" cy="255.5" r="3.08"/><circle cx="405.5" cy="248.5" r="3.08"/><circle cx="422.5" cy="244.5" r="3.08"/><circle cx="429.5" cy="243.5" r="3.08"/><circle cx="424.5" cy="251.5" r="3.08"/><circle cx="391.5" cy="264.5" r="3.08"/><circle cx="396.5" cy="268.5" r="3.08"/><circle cx="370.5" cy="285.5" r="3.08"/><circle cx="381.5" cy="291.5" r="3.08"/><circle cx="384.5" cy="284.5" r="3.08"/><circle cx="389.5" cy="300.5" r="3.08"/><circle cx="430.5" cy="243.5" r="3.08"/><circle cx="437.5" cy="242.5" r="3.08"/><circle cx="449.5" cy="249.5" r="3.08"/><circle cx="465.5" cy="255.5" r="3.08"/><circle cx="455.5" cy="256.5" r="3.08"/><circle cx="445.5" cy="256.5" r="3.08"/><circle cx="450.5" cy="260.5" r="3.08"/><circle cx="445.5" cy="266.5" r="3.08"/><circle cx="455.5" cy="270.5" r="3.08"/><circle cx="457.5" cy="278.5" r="3.08"/><circle cx="461.5" cy="288.5" r="3.08"/><circle cx="466.5" cy="294.5" r="3.08"/><circle cx="470.5" cy="302.5" r="3.08"/><circle cx="460.5" cy="300.5" r="3.08"/><circle cx="378.5" cy="321.5" r="3.08"/><circle cx="381.5" cy="310.5" r="3.08"/><circle cx="385.5" cy="316.5" r="3.08"/><circle cx="389.5" cy="328.5" r="3.08"/><circle cx="389.5" cy="334.5" r="3.08"/><circle cx="393.5" cy="343.5" r="3.08"/><circle cx="387.5" cy="349.5" r="3.08"/><circle cx="397.5" cy="347.5" r="3.08"/><circle cx="395.5" cy="360.5" r="3.08"/><circle cx="402.5" cy="355.5" r="3.08"/><circle cx="404.5" cy="358.5" r="3.08"/><circle cx="413.5" cy="359.5" r="3.08"/><circle cx="415.5" cy="355.5" r="3.08"/><circle cx="411.5" cy="346.5" r="3.08"/><circle cx="426.5" cy="365.5" r="3.08"/><circle cx="427.5" cy="365.5" r="3.08"/><circle cx="439.5" cy="354.5" r="3.08"/><circle cx="436.5" cy="347.5" r="3.08"/><circle cx="430.5" cy="349.5" r="3.08"/><circle cx="443.5" cy="340.5" r="3.08"/><circle cx="452.5" cy="340.5" r="3.08"/><circle cx="454.5" cy="333.5" r="3.08"/><circle cx="458.5" cy="335.5" r="3.08"/><circle cx="457.5" cy="325.5" r="3.08"/><circle cx="458.5" cy="310.5" r="3.08"/><circle cx="460.5" cy="314.5" r="3.08"/><circle cx="465.5" cy="312.5" r="3.08"/><circle cx="471.5" cy="302.5" r="3.08"/><circle cx="462.5" cy="301.5" r="3.08"/></g></g><path d="M61.5 33.72V572.72M89.5 33.72V572.72M118.5 33.72V572.72M146.5 33.72V572.72M174.5 33.72V572.72M202.5 33.72V572.72M230.5 33.72V572.72M259.5 33.72V572.72M287.5 33.72V572.72M315.5 33.72V572.72M343.5 33.72V572.72M371.5 33.72V572.72M399.5 33.72V572.72M428.5 33.72V572.72M456.5 33.72V572.72M484.5 33.72V572.72M512.5 33.72V572.72M540.5 33.72V572.72M569.5 33.72V572.72M597.5 33.72V572.72" stroke="rgba(0,0,0,0.75)" stroke-width="1.11" fill="none"/><path d="M61.28 573.5H624.91M61.28 546.5H624.91M61.28 519.5H624.91M61.28 492.5H624.91M61.28 465.5H624.91M61.28 438.5H624.91M61.28 411.5H624.91M61.28 384.5H624.91M61.28 357.5H624.91M61.28 330.5H624.91M61.28 303.5H624.91M61.28 276.5H624.91M61.28 249.5H624.91M61.28 222.5H624.91M61.28 195.5H624.91M61.28 168.5H624.91M61.28 142.5H624.91M61.28 115.5H624.91M61.28 88.5H624.91M61.28 61.5H624.91" stroke="rgba(0,0,0,0.75)" stroke-width="1.11" fill="none"/><path d="M61.5 573.5V34.5M625.5 573.5V34.5M61.5 34.5H625.5M61.5 573.5H625.5" stroke="#000" stroke-width="1.11" fill="none" stroke-linecap="square"/><path d="M61.5 572.72V577.58M61.28 573.5H56.42M89.5 572.72V577.58M61.28 546.5H56.42M118.5 572.72V577.58M61.28 519.5H56.42M146.5 572.72V577.58M61.28 492.5H56.42M174.5 572.72V577.58M61.28 465.5H56.42M202.5 572.72V577.58M61.28 438.5H56.42M230.5 572.72V577.58M61.28 411.5H56.42M259.5 572.72V577.58M61.28 384.5H56.42M287.5 572.72V577.58M61.28 357.5H56.42M315.5 572.72V577.58M61.28 330.5H56.42M343.5 572.72V577.58M61.28 303.5H56.42M371.5 572.72V577.58M61.28 276.5H56.42M399.5 572.72V577.58M61.28 249.5H56.42M428.5 572.72V577.58M61.28 222.5H56.42M456.5 572.72V577.58M61.28 195.5H56.42M484.5 572.72V577.58M61.28 168.5H56.42M512.5 572.72V577.58M61.28 142.5H56.42M540.5 572.72V577.58M61.28 115.5H56.42M569.5 572.72V577.58M61.28 88.5H56.42M597.5 572.72V577.58M61.28 61.5H56.42" stroke="#000" stroke-width="1.11" fill="none"/><g clip-path="url(#c1)"><path d="M738 34H766V61H738ZM766 34H794V61H766ZM794 34H822V61H794ZM822 34H850V61H822ZM850 34H879V61H850ZM879 34H907V61H879ZM907 34H935V61H907ZM935 34H963V61H935ZM963 34H991V61H963ZM991 34H1019V61H991ZM738 61H766V88H738ZM766 61H794V88H766ZM794 61H822V88H794ZM822 61H850V88H822ZM850 61H879V88H850ZM879 61H907V88H879ZM907 61H935V88H907ZM935 61H963V88H935ZM963 61H991V88H963ZM991 61H1019V88H991ZM1019 61H1048V88H1019ZM738 88H766V115H738ZM766 88H794V115H766ZM794 88H822V115H794ZM822 88H850V115H822ZM850 88H879V115H850ZM879 88H907V115H879ZM907 88H935V115H907ZM935 88H963V115H935ZM963 88H991V115H963ZM991 88H1019V115H991ZM1019 88H1048V115H1019ZM1048 88H1076V115H1048ZM738 115H766V142H738ZM766 115H794V142H766ZM794 115H822V142H794ZM822 115H850V142H822ZM850 115H879V142H850ZM879 115H907V142H879ZM907 115H935V142H907ZM935 115H963V142H935ZM963 115H991V142H963ZM991 115H1019V142H991ZM1019 115H1048V142H1019ZM1048 115H1076V142H1048ZM738 142H766V168H738ZM766 142H794V168H766ZM794 142H822V168H794ZM822 142H850V168H822ZM850 142H879V168H850ZM879 142H907V168H879ZM907 142H935V168H907ZM935 142H963V168H935ZM963 142H991V168H963ZM991 142H1019V168H991ZM1019 142H1048V168H1019ZM1048 142H1076V168H1048ZM1076 142H1104V168H1076ZM738 168H766V195H738ZM766 168H794V195H766ZM794 168H822V195H794ZM822 168H850V195H822ZM850 168H879V195H850ZM879 168H907V195H879ZM907 168H935V195H907ZM935 168H963V195H935ZM963 168H991V195H963ZM991 168H1019V195H991ZM1019 168H1048V195H1019ZM1048 168H1076V195H1048ZM1076 168H1104V195H1076ZM1104 168H1132V195H1104ZM738 195H766V222H738ZM766 195H794V222H766ZM794 195H822V222H794ZM822 195H850V222H822ZM850 195H879V222H850ZM879 195H907V222H879ZM907 195H935V222H907ZM935 195H963V222H935ZM963 195H991V222H963ZM991 195H1019V222H991ZM1019 195H1048V222H1019ZM1048 195H1076V222H1048ZM1076 195H1104V222H1076ZM1104 195H1132V222H1104ZM738 222H766V249H738ZM766 222H794V249H766ZM794 222H822V249H794ZM822 222H850V249H822ZM850 222H879V249H850ZM879 222H907V249H879ZM907 222H935V249H907ZM935 222H963V249H935ZM963 222H991V249H963ZM991 222H1019V249H991ZM1019 222H1048V249H1019ZM1048 222H1076V249H1048ZM1076 222H1104V249H1076ZM1104 222H1132V249H1104ZM738 249H766V276H738ZM766 249H794V276H766ZM794 249H822V276H794ZM822 249H850V276H822ZM850 249H879V276H850ZM879 249H907V276H879ZM907 249H935V276H907ZM935 249H963V276H935ZM963 249H991V276H963ZM991 249H1019V276H991ZM1019 249H1048V276H1019ZM1048 249H1076V276H1048ZM1076 249H1104V276H1076ZM1104 249H1132V276H1104ZM1132 249H1160V276H1132ZM738 276H766V303H738ZM766 276H794V303H766ZM794 276H822V303H794ZM822 276H850V303H822ZM850 276H879V303H850ZM879 276H907V303H879ZM907 276H935V303H907ZM935 276H963V303H935ZM963 276H991V303H963ZM991 276H1019V303H991ZM1019 276H1048V303H1019ZM1048 276H1076V303H1048ZM1076 276H1104V303H1076ZM1104 276H1132V303H1104ZM1132 276H1160V303H1132ZM738 303H766V330H738ZM766 303H794V330H766ZM794 303H822V330H794ZM822 303H850V330H822ZM850 303H879V330H850ZM879 303H907V330H879ZM907 303H935V330H907ZM935 303H963V330H935ZM963 303H991V330H963ZM991 303H1019V330H991ZM1019 303H1048V330H1019ZM1048 303H1076V330H1048ZM1076 303H1104V330H1076ZM1104 303H1132V330H1104ZM1132 303H1160V330H1132ZM1160 303H1189V330H1160ZM738 330H766V357H738ZM766 330H794V357H766ZM794 330H822V357H794ZM822 330H850V357H822ZM850 330H879V357H850ZM879 330H907V357H879ZM907 330H935V357H907ZM935 330H963V357H935ZM963 330H991V357H963ZM991 330H1019V357H991ZM1019 330H1048V357H1019ZM1048 330H1076V357H1048ZM1076 330H1104V357H1076ZM1104 330H1132V357H1104ZM1132 330H1160V357H1132ZM1160 330H1189V357H1160ZM738 357H766V384H738ZM766 357H794V384H766ZM794 357H822V384H794ZM822 357H850V384H822ZM850 357H879V384H850ZM879 357H907V384H879ZM907 357H935V384H907ZM935 357H963V384H935ZM963 357H991V384H963ZM991 357H1019V384H991ZM1019 357H1048V384H1019ZM1048 357H1076V384H1048ZM1076 357H1104V384H1076ZM1104 357H1132V384H1104ZM1132 357H1160V384H1132ZM1160 357H1189V384H1160ZM738 384H766V411H738ZM766 384H794V411H766ZM794 384H822V411H794ZM822 384H850V411H822ZM850 384H879V411H850ZM879 384H907V411H879ZM907 384H935V411H907ZM935 384H963V411H935ZM963 384H991V411H963ZM991 384H1019V411H991ZM1019 384H1048V411H1019ZM1048 384H1076V411H1048ZM1076 384H1104V411H1076ZM1104 384H1132V411H1104ZM1132 384H1160V411H1132ZM1160 384H1189V411H1160ZM738 411H766V438H738ZM766 411H794V438H766ZM794 411H822V438H794ZM822 411H850V438H822ZM850 411H879V438H850ZM879 411H907V438H879ZM907 411H935V438H907ZM935 411H963V438H935ZM963 411H991V438H963ZM991 411H1019V438H991ZM1019 411H1048V438H1019ZM1048 411H1076V438H1048ZM1076 411H1104V438H1076ZM1104 411H1132V438H1104ZM1132 411H1160V438H1132ZM1160 411H1189V438H1160ZM738 438H766V465H738ZM766 438H794V465H766ZM794 438H822V465H794ZM822 438H850V465H822ZM850 438H879V465H850ZM879 438H907V465H879ZM907 438H935V465H907ZM935 438H963V465H935ZM963 438H991V465H963ZM991 438H1019V465H991ZM1019 438H1048V465H1019ZM1048 438H1076V465H1048ZM1076 438H1104V465H1076ZM1104 438H1132V465H1104ZM1132 438H1160V465H1132ZM1160 438H1189V465H1160ZM738 465H766V492H738ZM766 465H794V492H766ZM794 465H822V492H794ZM822 465H850V492H822ZM850 465H879V492H850ZM879 465H907V492H879ZM907 465H935V492H907ZM935 465H963V492H935ZM963 465H991V492H963ZM991 465H1019V492H991ZM1019 465H1048V492H1019ZM1048 465H1076V492H1048ZM1076 465H1104V492H1076ZM1104 465H1132V492H1104ZM1132 465H1160V492H1132ZM1160 465H1189V492H1160ZM1189 465H1217V492H1189ZM738 492H766V519H738ZM766 492H794V519H766ZM794 492H822V519H794ZM822 492H850V519H822ZM850 492H879V519H850ZM879 492H907V519H879ZM907 492H935V519H907ZM935 492H963V519H935ZM963 492H991V519H963ZM991 492H1019V519H991ZM1019 492H1048V519H1019ZM1048 492H1076V519H1048ZM1076 492H1104V519H1076ZM1104 492H1132V519H1104ZM1132 492H1160V519H1132ZM1160 492H1189V519H1160ZM1189 492H1217V519H1189ZM738 519H766V546H738ZM766 519H794V546H766ZM794 519H822V546H794ZM822 519H850V546H822ZM850 519H879V546H850ZM879 519H907V546H879ZM907 519H935V546H907ZM935 519H963V546H935ZM963 519H991V546H963ZM991 519H1019V546H991ZM1019 519H1048V546H1019ZM1048 519H1076V546H1048ZM1076 519H1104V546H1076ZM1104 519H1132V546H1104ZM1132 519H1160V546H1132ZM1160 519H1189V546H1160ZM1189 519H1217V546H1189ZM738 546H766V573H738ZM766 546H794V573H766ZM794 546H822V573H794ZM822 546H850V573H822ZM850 546H879V573H850ZM879 546H907V573H879ZM907 546H935V573H907ZM935 546H963V573H935ZM963 546H991V573H963ZM991 546H1019V573H991ZM1019 546H1048V573H1019ZM1048 546H1076V573H1048ZM1076 546H1104V573H1076ZM1104 546H1132V573H1104ZM1132 546H1160V573H1132ZM1160 546H1189V573H1160ZM1189 546H1217V573H1189Z" fill="rgb(255,204,185)"/><g fill="#0000ff"><circle cx="738.5" cy="573.5" r="3.08"/><circle cx="743.5" cy="573.5" r="3.08"/><circle cx="749.5" cy="573.5" r="3.08"/><circle cx="755.5" cy="573.5" r="3.08"/><circle cx="760.5" cy="573.5" r="3.08"/><circle cx="766.5" cy="573.5" r="3.08"/><circle cx="771.5" cy="573.5" r="3.08"/><circle cx="777.5" cy="573.5" r="3.08"/><circle cx="783.5" cy="573.5" r="3.08"/><circle cx="788.5" cy="573.5" r="3.08"/><circle cx="794.5" cy="573.5" r="3.08"/><circle cx="800.5" cy="573.5" r="3.08"/><circle cx="805.5" cy="573.5" r="3.08"/><circle cx="811.5" cy="573.5" r="3.08"/><circle cx="817.5" cy="573.5" r="3.08"/><circle cx="822.5" cy="573.5" r="3.08"/><circle cx="828.5" cy="573.5" r="3.08"/><circle cx="833.5" cy="573.5" r="3.08"/><circle cx="839.5" cy="573.5" r="3.08"/><circle cx="845.5" cy="573.5" r="3.08"/><circle cx="850.5" cy="573.5" r="3.08"/><circle cx="856.5" cy="573.5" r="3.08"/><circle cx="862.5" cy="573.5" r="3.08"/><circle cx="867.5" cy="573.5" r="3.08"/><circle cx="873.5" cy="573.5" r="3.08"/><circle cx="879.5" cy="573.5" r="3.08"/><circle cx="884.5" cy="573.5" r="3.08"/><circle cx="890.5" cy="573.5" r="3.08"/><circle cx="895.5" cy="573.5" r="3.08"/><circle cx="901.5" cy="573.5" r="3.08"/><circle cx="907.5" cy="573.5" r="3.08"/><circle cx="912.5" cy="573.5" r="3.08"/><circle cx="918.5" cy="573.5" r="3.08"/><circle cx="924.5" cy="573.5" r="3.08"/><circle cx="929.5" cy="573.5" r="3.08"/><circle cx="935.5" cy="573.5" r="3.08"/><circle cx="941.5" cy="573.5" r="3.08"/><circle cx="946.5" cy="573.5" r="3.08"/><circle cx="952.5" cy="573.5" r="3.08"/><circle cx="957.5" cy="573.5" r="3.08"/><circle cx="963.5" cy="573.5" r="3.08"/><circle cx="969.5" cy="573.5" r="3.08"/><circle cx="974.5" cy="573.5" r="3.08"/><circle cx="980.5" cy="573.5" r="3.08"/><circle cx="986.5" cy="573.5" r="3.08"/><circle cx="991.5" cy="573.5" r="3.08"/><circle cx="997.5" cy="573.5" r="3.08"/><circle cx="1003.5" cy="573.5" r="3.08"/><circle cx="1008.5" cy="573.5" r="3.08"/><circle cx="1014.5" cy="573.5" r="3.08"/><circle cx="1019.5" cy="573.5" r="3.08"/><circle cx="1025.5" cy="573.5" r="3.08"/><circle cx="1031.5" cy="573.5" r="3.08"/><circle cx="1036.5" cy="573.5" r="3.08"/><circle cx="1042.5" cy="573.5" r="3.08"/><circle cx="1048.5" cy="573.5" r="3.08"/><circle cx="1053.5" cy="573.5" r="3.08"/><circle cx="1059.5" cy="573.5" r="3.08"/><circle cx="1065.5" cy="573.5" r="3.08"/><circle cx="1070.5" cy="573.5" r="3.08"/><circle cx="1076.5" cy="573.5" r="3.08"/><circle cx="1081.5" cy="573.5" r="3.08"/><circle cx="1087.5" cy="573.5" r="3.08"/><circle cx="1093.5" cy="573.5" r="3.08"/><circle cx="1098.5" cy="573.5" r="3.08"/><circle cx="1104.5" cy="573.5" r="3.08"/><circle cx="1110.5" cy="573.5" r="3.08"/><circle cx="1115.5" cy="573.5" r="3.08"/><circle cx="1121.5" cy="573.5" r="3.08"/><circle cx="1127.5" cy="573.5" r="3.08"/><circle cx="1132.5" cy="573.5" r="3.08"/><circle cx="1138.5" cy="573.5" r="3.08"/><circle cx="1143.5" cy="573.5" r="3.08"/><circle cx="1149.5" cy="573.5" r="3.08"/><circle cx="1155.5" cy="573.5" r="3.08"/><circle cx="1160.5" cy="573.5" r="3.08"/><circle cx="1166.5" cy="573.5" r="3.08"/><circle cx="1172.5" cy="573.5" r="3.08"/><circle cx="1177.5" cy="573.5" r="3.08"/><circle cx="1183.5" cy="573.5" r="3.08"/><circle cx="1189.5" cy="573.5" r="3.08"/><circle cx="1194.5" cy="573.5" r="3.08"/><circle cx="738.5" cy="565.5" r="3.08"/><circle cx="743.5" cy="565.5" r="3.08"/><circle cx="749.5" cy="565.5" r="3.08"/><circle cx="755.5" cy="565.5" r="3.08"/><circle cx="760.5" cy="565.5" r="3.08"/><circle cx="766.5" cy="565.5" r="3.08"/><circle cx="771.5" cy="565.5" r="3.08"/><circle cx="777.5" cy="565.5" r="3.08"/><circle cx="783.5" cy="565.5" r="3.08"/><circle cx="788.5" cy="565.5" r="3.08"/><circle cx="794.5" cy="565.5" r="3.08"/><circle cx="800.5" cy="565.5" r="3.08"/><circle cx="805.5" cy="565.5" r="3.08"/><circle cx="811.5" cy="565.5" r="3.08"/><circle cx="817.5" cy="565.5" r="3.08"/><circle cx="822.5" cy="565.5" r="3.08"/><circle cx="828.5" cy="565.5" r="3.08"/><circle cx="833.5" cy="565.5" r="3.08"/><circle cx="839.5" cy="565.5" r="3.08"/><circle cx="845.5" cy="565.5" r="3.08"/><circle cx="850.5" cy="565.5" r="3.08"/><circle cx="856.5" cy="565.5" r="3.08"/><circle cx="862.5" cy="565.5" r="3.08"/><circle cx="867.5" cy="565.5" r="3.08"/><circle cx="873.5" cy="565.5" r="3.08"/><circle cx="879.5" cy="565.5" r="3.08"/><circle cx="884.5" cy="565.5" r="3.08"/><circle cx="890.5" cy="565.5" r="3.08"/><circle cx="895.5" cy="565.5" r="3.08"/><circle cx="901.5" cy="565.5" r="3.08"/><circle cx="907.5" cy="565.5" r="3.08"/><circle cx="912.5" cy="565.5" r="3.08"/><circle cx="918.5" cy="565.5" r="3.08"/><circle cx="924.5" cy="565.5" r="3.08"/><circle cx="929.5" cy="565.5" r="3.08"/><circle cx="935.5" cy="565.5" r="3.08"/><circle cx="941.5" cy="565.5" r="3.08"/><circle cx="946.5" cy="565.5" r="3.08"/><circle cx="952.5" cy="565.5" r="3.08"/><circle cx="957.5" cy="565.5" r="3.08"/><circle cx="963.5" cy="565.5" r="3.08"/><circle cx="969.5" cy="565.5" r="3.08"/><circle cx="974.5" cy="565.5" r="3.08"/><circle cx="980.5" cy="565.5" r="3.08"/><circle cx="986.5" cy="565.5" r="3.08"/><circle cx="991.5" cy="565.5" r="3.08"/><circle cx="997.5" cy="565.5" r="3.08"/><circle cx="1003.5" cy="565.5" r="3.08"/><circle cx="1008.5" cy="565.5" r="3.08"/><circle cx="1014.5" cy="565.5" r="3.08"/><circle cx="1019.5" cy="565.5" r="3.08"/><circle cx="1025.5" cy="565.5" r="3.08"/><circle cx="1031.5" cy="565.5" r="3.08"/><circle cx="1036.5" cy="565.5" r="3.08"/><circle cx="1042.5" cy="565.5" r="3.08"/><circle cx="1048.5" cy="565.5" r="3.08"/><circle cx="1053.5" cy="565.5" r="3.08"/><circle cx="1059.5" cy="565.5" r="3.08"/><circle cx="1065.5" cy="565.5" r="3.08"/><circle cx="1070.5" cy="565.5" r="3.08"/><circle cx="1076.5" cy="565.5" r="3.08"/><circle cx="1081.5" cy="565.5" r="3.08"/><circle cx="1087.5" cy="565.5" r="3.08"/><circle cx="1093.5" cy="565.5" r="3.08"/><circle cx="1098.5" cy="565.5" r="3.08"/><circle cx="1104.5" cy="565.5" r="3.08"/><circle cx="1110.5" cy="565.5" r="3.08"/><circle cx="1115.5" cy="565.5" r="3.08"/><circle cx="1121.5" cy="565.5" r="3.08"/><circle cx="1127.5" cy="565.5" r="3.08"/><circle cx="1132.5" cy="565.5" r="3.08"/><circle cx="1138.5" cy="565.5" r="3.08"/><circle cx="1143.5" cy="565.5" r="3.08"/><circle cx="1149.5" cy="565.5" r="3.08"/><circle cx="1155.5" cy="565.5" r="3.08"/><circle cx="1160.5" cy="565.5" r="3.08"/><circle cx="1166.5" cy="565.5" r="3.08"/><circle cx="1172.5" cy="565.5" r="3.08"/><circle cx="1177.5" cy="565.5" r="3.08"/><circle cx="1183.5" cy="565.5" r="3.08"/><circle cx="1189.5" cy="565.5" r="3.08"/><circle cx="1194.5" cy="565.5" r="3.08"/><circle cx="738.5" cy="558.5" r="3.08"/><circle cx="743.5" cy="558.5" r="3.08"/><circle cx="749.5" cy="558.5" r="3.08"/><circle cx="755.5" cy="558.5" r="3.08"/><circle cx="760.5" cy="558.5" r="3.08"/><circle cx="766.5" cy="558.5" r="3.08"/><circle cx="771.5" cy="558.5" r="3.08"/><circle cx="777.5" cy="558.5" r="3.08"/><circle cx="783.5" cy="558.5" r="3.08"/><circle cx="788.5" cy="558.5" r="3.08"/><circle cx="794.5" cy="558.5" r="3.08"/><circle cx="800.5" cy="558.5" r="3.08"/><circle cx="805.5" cy="558.5" r="3.08"/><circle cx="811.5" cy="558.5" r="3.08"/><circle cx="817.5" cy="558.5" r="3.08"/><circle cx="822.5" cy="558.5" r="3.08"/><circle cx="828.5" cy="558.5" r="3.08"/><circle cx="833.5" cy="558.5" r="3.08"/><circle cx="839.5" cy="558.5" r="3.08"/><circle cx="845.5" cy="558.5" r="3.08"/><circle cx="850.5" cy="558.5" r="3.08"/><circle cx="856.5" cy="558.5" r="3.08"/><circle cx="862.5" cy="558.5" r="3.08"/><circle cx="867.5" cy="558.5" r="3.08"/><circle cx="873.5" cy="558.5" r="3.08"/><circle cx="879.5" cy="558.5" r="3.08"/><circle cx="884.5" cy="558.5" r="3.08"/><circle cx="890.5" cy="558.5" r="3.08"/><circle cx="895.5" cy="558.5" r="3.08"/><circle cx="901.5" cy="558.5" r="3.08"/><circle cx="907.5" cy="558.5" r="3.08"/><circle cx="912.5" cy="558.5" r="3.08"/><circle cx="918.5" cy="558.5" r="3.08"/><circle cx="924.5" cy="558.5" r="3.08"/><circle cx="929.5" cy="558.5" r="3.08"/><circle cx="935.5" cy="558.5" r="3.08"/><circle cx="941.5" cy="558.5" r="3.08"/><circle cx="946.5" cy="558.5" r="3.08"/><circle cx="952.5" cy="558.5" r="3.08"/><circle cx="957.5" cy="558.5" r="3.08"/><circle cx="963.5" cy="558.5" r="3.08"/><circle cx="969.5" cy="558.5" r="3.08"/><circle cx="974.5" cy="558.5" r="3.08"/><circle cx="980.5" cy="558.5" r="3.08"/><circle cx="986.5" cy="558.5" r="3.08"/><circle cx="991.5" cy="558.5" r="3.08"/><circle cx="997.5" cy="558.5" r="3.08"/><circle cx="1003.5" cy="558.5" r="3.08"/><circle cx="1008.5" cy="558.5" r="3.08"/><circle cx="1014.5" cy="558.5" r="3.08"/><circle cx="1019.5" cy="558.5" r="3.08"/><circle cx="1025.5" cy="558.5" r="3.08"/><circle cx="1031.5" cy="558.5" r="3.08"/><circle cx="1036.5" cy="558.5" r="3.08"/><circle cx="1042.5" cy="558.5" r="3.08"/><circle cx="1048.5" cy="558.5" r="3.08"/><circle cx="1053.5" cy="558.5" r="3.08"/><circle cx="1059.5" cy="558.5" r="3.08"/><circle cx="1065.5" cy="558.5" r="3.08"/><circle cx="1070.5" cy="558.5" r="3.08"/><circle cx="1076.5" cy="558.5" r="3.08"/><circle cx="1081.5" cy="558.5" r="3.08"/><circle cx="1087.5" cy="558.5" r="3.08"/><circle cx="1093.5" cy="558.5" r="3.08"/><circle cx="1098.5" cy="558.5" r="3.08"/><circle cx="1104.5" cy="558.5" r="3.08"/><circle cx="1110.5" cy="558.5" r="3.08"/><circle cx="1115.5" cy="558.5" r="3.08"/><circle cx="1121.5" cy="558.5" r="3.08"/><circle cx="1127.5" cy="558.5" r="3.08"/><circle cx="1132.5" cy="558.5" r="3.08"/><circle cx="1138.5" cy="558.5" r="3.08"/><circle cx="1143.5" cy="558.5" r="3.08"/><circle cx="1149.5" cy="558.5" r="3.08"/><circle cx="1155.5" cy="558.5" r="3.08"/><circle cx="1160.5" cy="558.5" r="3.08"/><circle cx="1166.5" cy="558.5" r="3.08"/><circle cx="1172.5" cy="558.5" r="3.08"/><circle cx="1177.5" cy="558.5" r="3.08"/><circle cx="1183.5" cy="558.5" r="3.08"/><circle cx="1189.5" cy="558.5" r="3.08"/><circle cx="1194.5" cy="558.5" r="3.08"/><circle cx="738.5" cy="550.5" r="3.08"/><circle cx="743.5" cy="550.5" r="3.08"/><circle cx="749.5" cy="550.5" r="3.08"/><circle cx="755.5" cy="550.5" r="3.08"/><circle cx="760.5" cy="550.5" r="3.08"/><circle cx="766.5" cy="550.5" r="3.08"/><circle cx="771.5" cy="550.5" r="3.08"/><circle cx="777.5" cy="550.5" r="3.08"/><circle cx="783.5" cy="550.5" r="3.08"/><circle cx="788.5" cy="550.5" r="3.08"/><circle cx="794.5" cy="550.5" r="3.08"/><circle cx="800.5" cy="550.5" r="3.08"/><circle cx="805.5" cy="550.5" r="3.08"/><circle cx="811.5" cy="550.5" r="3.08"/><circle cx="817.5" cy="550.5" r="3.08"/><circle cx="822.5" cy="550.5" r="3.08"/><circle cx="828.5" cy="550.5" r="3.08"/><circle cx="833.5" cy="550.5" r="3.08"/><circle cx="839.5" cy="550.5" r="3.08"/><circle cx="845.5" cy="550.5" r="3.08"/><circle cx="850.5" cy="550.5" r="3.08"/><circle cx="856.5" cy="550.5" r="3.08"/><circle cx="862.5" cy="550.5" r="3.08"/><circle cx="867.5" cy="550.5" r="3.08"/><circle cx="873.5" cy="550.5" r="3.08"/><circle cx="879.5" cy="550.5" r="3.08"/><circle cx="884.5" cy="550.5" r="3.08"/><circle cx="890.5" cy="550.5" r="3.08"/><circle cx="895.5" cy="550.5" r="3.08"/><circle cx="901.5" cy="550.5" r="3.08"/><circle cx="907.5" cy="550.5" r="3.08"/><circle cx="912.5" cy="550.5" r="3.08"/><circle cx="918.5" cy="550.5" r="3.08"/><circle cx="924.5" cy="550.5" r="3.08"/><circle cx="929.5" cy="550.5" r="3.08"/><circle cx="935.5" cy="550.5" r="3.08"/><circle cx="941.5" cy="550.5" r="3.08"/><circle cx="946.5" cy="550.5" r="3.08"/><circle cx="952.5" cy="550.5" r="3.08"/><circle cx="957.5" cy="550.5" r="3.08"/><circle cx="963.5" cy="550.5" r="3.08"/><circle cx="969.5" cy="550.5" r="3.08"/><circle cx="974.5" cy="550.5" r="3.08"/><circle cx="980.5" cy="550.5" r="3.08"/><circle cx="986.5" cy="550.5" r="3.08"/><circle cx="991.5" cy="550.5" r="3.08"/><circle cx="997.5" cy="550.5" r="3.08"/><circle cx="1003.5" cy="550.5" r="3.08"/><circle cx="1008.5" cy="550.5" r="3.08"/><circle cx="1014.5" cy="550.5" r="3.08"/><circle cx="1019.5" cy="550.5" r="3.08"/><circle cx="1025.5" cy="550.5" r="3.08"/><circle cx="1031.5" cy="550.5" r="3.08"/><circle cx="1036.5" cy="550.5" r="3.08"/><circle cx="1042.5" cy="550.5" r="3.08"/><circle cx="1048.5" cy="550.5" r="3.08"/><circle cx="1053.5" cy="550.5" r="3.08"/><circle cx="1059.5" cy="550.5" r="3.08"/><circle cx="1065.5" cy="550.5" r="3.08"/><circle cx="1070.5" cy="550.5" r="3.08"/><circle cx="1076.5" cy="550.5" r="3.08"/><circle cx="1081.5" cy="550.5" r="3.08"/><circle cx="1087.5" cy="550.5" r="3.08"/><circle cx="1093.5" cy="550.5" r="3.08"/><circle cx="1098.5" cy="550.5" r="3.08"/><circle cx="1104.5" cy="550.5" r="3.08"/><circle cx="1110.5" cy="550.5" r="3.08"/><circle cx="1115.5" cy="550.5" r="3.08"/><circle cx="1121.5" cy="550.5" r="3.08"/><circle cx="1127.5" cy="550.5" r="3.08"/><circle cx="1132.5" cy="550.5" r="3.08"/><circle cx="1138.5" cy="550.5" r="3.08"/><circle cx="1143.5" cy="550.5" r="3.08"/><circle cx="1149.5" cy="550.5" r="3.08"/><circle cx="1155.5" cy="550.5" r="3.08"/><circle cx="1160.5" cy="550.5" r="3.08"/><circle cx="1166.5" cy="550.5" r="3.08"/><circle cx="1172.5" cy="550.5" r="3.08"/><circle cx="1177.5" cy="550.5" r="3.08"/><circle cx="1183.5" cy="550.5" r="3.08"/><circle cx="1189.5" cy="550.5" r="3.08"/><circle cx="1194.5" cy="550.5" r="3.08"/><circle cx="738.5" cy="542.5" r="3.08"/><circle cx="743.5" cy="542.5" r="3.08"/><circle cx="749.5" cy="542.5" r="3.08"/><circle cx="755.5" cy="542.5" r="3.08"/><circle cx="760.5" cy="542.5" r="3.08"/><circle cx="766.5" cy="542.5" r="3.08"/><circle cx="771.5" cy="542.5" r="3.08"/><circle cx="777.5" cy="542.5" r="3.08"/><circle cx="783.5" cy="542.5" r="3.08"/><circle cx="788.5" cy="542.5" r="3.08"/><circle cx="794.5" cy="542.5" r="3.08"/><circle cx="800.5" cy="542.5" r="3.08"/><circle cx="805.5" cy="542.5" r="3.08"/><circle cx="811.5" cy="542.5" r="3.08"/><circle cx="817.5" cy="542.5" r="3.08"/><circle cx="822.5" cy="542.5" r="3.08"/><circle cx="828.5" cy="542.5" r="3.08"/><circle cx="833.5" cy="542.5" r="3.08"/><circle cx="839.5" cy="542.5" r="3.08"/><circle cx="845.5" cy="542.5" r="3.08"/><circle cx="850.5" cy="542.5" r="3.08"/><circle cx="856.5" cy="542.5" r="3.08"/><circle cx="862.5" cy="542.5" r="3.08"/><circle cx="867.5" cy="542.5" r="3.08"/><circle cx="873.5" cy="542.5" r="3.08"/><circle cx="879.5" cy="542.5" r="3.08"/><circle cx="884.5" cy="542.5" r="3.08"/><circle cx="890.5" cy="542.5" r="3.08"/><circle cx="895.5" cy="542.5" r="3.08"/><circle cx="901.5" cy="542.5" r="3.08"/><circle cx="907.5" cy="542.5" r="3.08"/><circle cx="912.5" cy="542.5" r="3.08"/><circle cx="918.5" cy="542.5" r="3.08"/><circle cx="924.5" cy="542.5" r="3.08"/><circle cx="929.5" cy="542.5" r="3.08"/><circle cx="935.5" cy="542.5" r="3.08"/><circle cx="941.5" cy="542.5" r="3.08"/><circle cx="946.5" cy="542.5" r="3.08"/><circle cx="952.5" cy="542.5" r="3.08"/><circle cx="957.5" cy="542.5" r="3.08"/><circle cx="963.5" cy="542.5" r="3.08"/><circle cx="969.5" cy="542.5" r="3.08"/><circle cx="974.5" cy="542.5" r="3.08"/><circle cx="980.5" cy="542.5" r="3.08"/><circle cx="986.5" cy="542.5" r="3.08"/><circle cx="991.5" cy="542.5" r="3.08"/><circle cx="997.5" cy="542.5" r="3.08"/><circle cx="1003.5" cy="542.5" r="3.08"/><circle cx="1008.5" cy="542.5" r="3.08"/><circle cx="1014.5" cy="542.5" r="3.08"/><circle cx="1019.5" cy="542.5" r="3.08"/><circle cx="1025.5" cy="542.5" r="3.08"/><circle cx="1031.5" cy="542.5" r="3.08"/><circle cx="1036.5" cy="542.5" r="3.08"/><circle cx="1042.5" cy="542.5" r="3.08"/><circle cx="1048.5" cy="542.5" r="3.08"/><circle cx="1053.5" cy="542.5" r="3.08"/><circle cx="1059.5" cy="542.5" r="3.08"/><circle cx="1065.5" cy="542.5" r="3.08"/><circle cx="1070.5" cy="542.5" r="3.08"/><circle cx="1076.5" cy="542.5" r="3.08"/><circle cx="1081.5" cy="542.5" r="3.08"/><circle cx="1087.5" cy="542.5" r="3.08"/><circle cx="1093.5" cy="542.5" r="3.08"/><circle cx="1098.5" cy="542.5" r="3.08"/><circle cx="1104.5" cy="542.5" r="3.08"/><circle cx="1110.5" cy="542.5" r="3.08"/><circle cx="1115.5" cy="542.5" r="3.08"/><circle cx="1121.5" cy="542.5" r="3.08"/><circle cx="1127.5" cy="542.5" r="3.08"/><circle cx="1132.5" cy="542.5" r="3.08"/><circle cx="1138.5" cy="542.5" r="3.08"/><circle cx="1143.5" cy="542.5" r="3.08"/><circle cx="1149.5" cy="542.5" r="3.08"/><circle cx="1155.5" cy="542.5" r="3.08"/><circle cx="1160.5" cy="542.5" r="3.08"/><circle cx="1166.5" cy="542.5" r="3.08"/><circle cx="1172.5" cy="542.5" r="3.08"/><circle cx="1177.5" cy="542.5" r="3.08"/><circle cx="1183.5" cy="542.5" r="3.08"/><circle cx="1189.5" cy="542.5" r="3.08"/><circle cx="1194.5" cy="542.5" r="3.08"/><circle cx="738.5" cy="535.5" r="3.08"/><circle cx="743.5" cy="535.5" r="3.08"/><circle cx="749.5" cy="535.5" r="3.08"/><circle cx="755.5" cy="535.5" r="3.08"/><circle cx="760.5" cy="535.5" r="3.08"/><circle cx="766.5" cy="535.5" r="3.08"/><circle cx="771.5" cy="535.5" r="3.08"/><circle cx="777.5" cy="535.5" r="3.08"/><circle cx="783.5" cy="535.5" r="3.08"/><circle cx="788.5" cy="535.5" r="3.08"/><circle cx="794.5" cy="535.5" r="3.08"/><circle cx="800.5" cy="535.5" r="3.08"/><circle cx="805.5" cy="535.5" r="3.08"/><circle cx="811.5" cy="535.5" r="3.08"/><circle cx="817.5" cy="535.5" r="3.08"/><circle cx="822.5" cy="535.5" r="3.08"/><circle cx="828.5" cy="535.5" r="3.08"/><circle cx="833.5" cy="535.5" r="3.08"/><circle cx="839.5" cy="535.5" r="3.08"/><circle cx="845.5" cy="535.5" r="3.08"/><circle cx="850.5" cy="535.5" r="3.08"/><circle cx="856.5" cy="535.5" r="3.08"/><circle cx="862.5" cy="535.5" r="3.08"/><circle cx="867.5" cy="535.5" r="3.08"/><circle cx="873.5" cy="535.5" r="3.08"/><circle cx="879.5" cy="535.5" r="3.08"/><circle cx="884.5" cy="535.5" r="3.08"/><circle cx="890.5" cy="535.5" r="3.08"/><circle cx="895.5" cy="535.5" r="3.08"/><circle cx="901.5" cy="535.5" r="3.08"/><circle cx="907.5" cy="535.5" r="3.08"/><circle cx="912.5" cy="535.5" r="3.08"/><circle cx="918.5" cy="535.5" r="3.08"/><circle cx="924.5" cy="535.5" r="3.08"/><circle cx="929.5" cy="535.5" r="3.08"/><circle cx="935.5" cy="535.5" r="3.08"/><circle cx="941.5" cy="535.5" r="3.08"/><circle cx="946.5" cy="535.5" r="3.08"/><circle cx="952.5" cy="535.5" r="3.08"/><circle cx="957.5" cy="535.5" r="3.08"/><circle cx="963.5" cy="535.5" r="3.08"/><circle cx="969.5" cy="535.5" r="3.08"/><circle cx="974.5" cy="535.5" r="3.08"/><circle cx="980.5" cy="535.5" r="3.08"/><circle cx="986.5" cy="535.5" r="3.08"/><circle cx="991.5" cy="535.5" r="3.08"/><circle cx="997.5" cy="535.5" r="3.08"/><circle cx="1003.5" cy="535.5" r="3.08"/><circle cx="1008.5" cy="535.5" r="3.08"/><circle cx="1014.5" cy="535.5" r="3.08"/><circle cx="1019.5" cy="535.5" r="3.08"/><circle cx="1025.5" cy="535.5" r="3.08"/><circle cx="1031.5" cy="535.5" r="3.08"/><circle cx="1036.5" cy="535.5" r="3.08"/><circle cx="1042.5" cy="535.5" r="3.08"/><circle cx="1048.5" cy="535.5" r="3.08"/><circle cx="1053.5" cy="535.5" r="3.08"/><circle cx="1059.5" cy="535.5" r="3.08"/><circle cx="1065.5" cy="535.5" r="3.08"/><circle cx="1070.5" cy="535.5" r="3.08"/><circle cx="1076.5" cy="535.5" r="3.08"/><circle cx="1081.5" cy="535.5" r="3.08"/><circle cx="1087.5" cy="535.5" r="3.08"/><circle cx="1093.5" cy="535.5" r="3.08"/><circle cx="1098.5" cy="535.5" r="3.08"/><circle cx="1104.5" cy="535.5" r="3.08"/><circle cx="1110.5" cy="535.5" r="3.08"/><circle cx="1115.5" cy="535.5" r="3.08"/><circle cx="1121.5" cy="535.5" r="3.08"/><circle cx="1127.5" cy="535.5" r="3.08"/><circle cx="1132.5" cy="535.5" r="3.08"/><circle cx="1138.5" cy="535.5" r="3.08"/><circle cx="1143.5" cy="535.5" r="3.08"/><circle cx="1149.5" cy="535.5" r="3.08"/><circle cx="1155.5" cy="535.5" r="3.08"/><circle cx="1160.5" cy="535.5" r="3.08"/><circle cx="1166.5" cy="535.5" r="3.08"/><circle cx="1172.5" cy="535.5" r="3.08"/><circle cx="1177.5" cy="535.5" r="3.08"/><circle cx="1183.5" cy="535.5" r="3.08"/><circle cx="1189.5" cy="535.5" r="3.08"/><circle cx="1194.5" cy="535.5" r="3.08"/><circle cx="738.5" cy="527.5" r="3.08"/><circle cx="743.5" cy="527.5" r="3.08"/><circle cx="749.5" cy="527.5" r="3.08"/><circle cx="755.5" cy="527.5" r="3.08"/><circle cx="760.5" cy="527.5" r="3.08"/><circle cx="766.5" cy="527.5" r="3.08"/><circle cx="771.5" cy="527.5" r="3.08"/><circle cx="777.5" cy="527.5" r="3.08"/><circle cx="783.5" cy="527.5" r="3.08"/><circle cx="788.5" cy="527.5" r="3.08"/><circle cx="794.5" cy="527.5" r="3.08"/><circle cx="800.5" cy="527.5" r="3.08"/><circle cx="805.5" cy="527.5" r="3.08"/><circle cx="811.5" cy="527.5" r="3.08"/><circle cx="817.5" cy="527.5" r="3.08"/><circle cx="822.5" cy="527.5" r="3.08"/><circle cx="828.5" cy="527.5" r="3.08"/><circle cx="833.5" cy="527.5" r="3.08"/><circle cx="839.5" cy="527.5" r="3.08"/><circle cx="845.5" cy="527.5" r="3.08"/><circle cx="850.5" cy="527.5" r="3.08"/><circle cx="856.5" cy="527.5" r="3.08"/><circle cx="862.5" cy="527.5" r="3.08"/><circle cx="867.5" cy="527.5" r="3.08"/><circle cx="873.5" cy="527.5" r="3.08"/><circle cx="879.5" cy="527.5" r="3.08"/><circle cx="884.5" cy="527.5" r="3.08"/><circle cx="890.5" cy="527.5" r="3.08"/><circle cx="895.5" cy="527.5" r="3.08"/><circle cx="901.5" cy="527.5" r="3.08"/><circle cx="907.5" cy="527.5" r="3.08"/><circle cx="912.5" cy="527.5" r="3.08"/><circle cx="918.5" cy="527.5" r="3.08"/><circle cx="924.5" cy="527.5" r="3.08"/><circle cx="929.5" cy="527.5" r="3.08"/><circle cx="935.5" cy="527.5" r="3.08"/><circle cx="941.5" cy="527.5" r="3.08"/><circle cx="946.5" cy="527.5" r="3.08"/><circle cx="952.5" cy="527.5" r="3.08"/><circle cx="957.5" cy="527.5" r="3.08"/><circle cx="963.5" cy="527.5" r="3.08"/><circle cx="969.5" cy="527.5" r="3.08"/><circle cx="974.5" cy="527.5" r="3.08"/><circle cx="980.5" cy="527.5" r="3.08"/><circle cx="986.5" cy="527.5" r="3.08"/><circle cx="991.5" cy="527.5" r="3.08"/><circle cx="997.5" cy="527.5" r="3.08"/><circle cx="1003.5" cy="527.5" r="3.08"/><circle cx="1008.5" cy="527.5" r="3.08"/><circle cx="1014.5" cy="527.5" r="3.08"/><circle cx="1019.5" cy="527.5" r="3.08"/><circle cx="1025.5" cy="527.5" r="3.08"/><circle cx="1031.5" cy="527.5" r="3.08"/><circle cx="1036.5" cy="527.5" r="3.08"/><circle cx="1042.5" cy="527.5" r="3.08"/><circle cx="1048.5" cy="527.5" r="3.08"/><circle cx="1053.5" cy="527.5" r="3.08"/><circle cx="1059.5" cy="527.5" r="3.08"/><circle cx="1065.5" cy="527.5" r="3.08"/><circle cx="1070.5" cy="527.5" r="3.08"/><circle cx="1076.5" cy="527.5" r="3.08"/><circle cx="1081.5" cy="527.5" r="3.08"/><circle cx="1087.5" cy="527.5" r="3.08"/><circle cx="1093.5" cy="527.5" r="3.08"/><circle cx="1098.5" cy="527.5" r="3.08"/><circle cx="1104.5" cy="527.5" r="3.08"/><circle cx="1110.5" cy="527.5" r="3.08"/><circle cx="1115.5" cy="527.5" r="3.08"/><circle cx="1121.5" cy="527.5" r="3.08"/><circle cx="1127.5" cy="527.5" r="3.08"/><circle cx="1132.5" cy="527.5" r="3.08"/><circle cx="1138.5" cy="527.5" r="3.08"/><circle cx="1143.5" cy="527.5" r="3.08"/><circle cx="1149.5" cy="527.5" r="3.08"/><circle cx="1155.5" cy="527.5" r="3.08"/><circle cx="1160.5" cy="527.5" r="3.08"/><circle cx="1166.5" cy="527.5" r="3.08"/><circle cx="1172.5" cy="527.5" r="3.08"/><circle cx="1177.5" cy="527.5" r="3.08"/><circle cx="1183.5" cy="527.5" r="3.08"/><circle cx="1189.5" cy="527.5" r="3.08"/><circle cx="1194.5" cy="527.5" r="3.08"/><circle cx="738.5" cy="520.5" r="3.08"/><circle cx="743.5" cy="520.5" r="3.08"/><circle cx="749.5" cy="520.5" r="3.08"/><circle cx="755.5" cy="520.5" r="3.08"/><circle cx="760.5" cy="520.5" r="3.08"/><circle cx="766.5" cy="520.5" r="3.08"/><circle cx="771.5" cy="520.5" r="3.08"/><circle cx="777.5" cy="520.5" r="3.08"/><circle cx="783.5" cy="520.5" r="3.08"/><circle cx="788.5" cy="520.5" r="3.08"/><circle cx="794.5" cy="520.5" r="3.08"/><circle cx="800.5" cy="520.5" r="3.08"/><circle cx="805.5" cy="520.5" r="3.08"/><circle cx="811.5" cy="520.5" r="3.08"/><circle cx="817.5" cy="520.5" r="3.08"/><circle cx="822.5" cy="520.5" r="3.08"/><circle cx="828.5" cy="520.5" r="3.08"/><circle cx="833.5" cy="520.5" r="3.08"/><circle cx="839.5" cy="520.5" r="3.08"/><circle cx="845.5" cy="520.5" r="3.08"/><circle cx="850.5" cy="520.5" r="3.08"/><circle cx="856.5" cy="520.5" r="3.08"/><circle cx="862.5" cy="520.5" r="3.08"/><circle cx="867.5" cy="520.5" r="3.08"/><circle cx="873.5" cy="520.5" r="3.08"/><circle cx="879.5" cy="520.5" r="3.08"/><circle cx="884.5" cy="520.5" r="3.08"/><circle cx="890.5" cy="520.5" r="3.08"/><circle cx="895.5" cy="520.5" r="3.08"/><circle cx="901.5" cy="520.5" r="3.08"/><circle cx="907.5" cy="520.5" r="3.08"/><circle cx="912.5" cy="520.5" r="3.08"/><circle cx="918.5" cy="520.5" r="3.08"/><circle cx="924.5" cy="520.5" r="3.08"/><circle cx="929.5" cy="520.5" r="3.08"/><circle cx="935.5" cy="520.5" r="3.08"/><circle cx="941.5" cy="520.5" r="3.08"/><circle cx="946.5" cy="520.5" r="3.08"/><circle cx="952.5" cy="520.5" r="3.08"/><circle cx="957.5" cy="520.5" r="3.08"/><circle cx="963.5" cy="520.5" r="3.08"/><circle cx="969.5" cy="520.5" r="3.08"/><circle cx="974.5" cy="520.5" r="3.08"/><circle cx="980.5" cy="520.5" r="3.08"/><circle cx="986.5" cy="520.5" r="3.08"/><circle cx="991.5" cy="520.5" r="3.08"/><circle cx="997.5" cy="520.5" r="3.08"/><circle cx="1003.5" cy="520.5" r="3.08"/><circle cx="1008.5" cy="520.5" r="3.08"/><circle cx="1014.5" cy="520.5" r="3.08"/><circle cx="1019.5" cy="520.5" r="3.08"/><circle cx="1025.5" cy="520.5" r="3.08"/><circle cx="1031.5" cy="520.5" r="3.08"/><circle cx="1036.5" cy="520.5" r="3.08"/><circle cx="1042.5" cy="520.5" r="3.08"/><circle cx="1048.5" cy="520.5" r="3.08"/><circle cx="1053.5" cy="520.5" r="3.08"/><circle cx="1059.5" cy="520.5" r="3.08"/><circle cx="1065.5" cy="520.5" r="3.08"/><circle cx="1070.5" cy="520.5" r="3.08"/><circle cx="1076.5" cy="520.5" r="3.08"/><circle cx="1081.5" cy="520.5" r="3.08"/><circle cx="1087.5" cy="520.5" r="3.08"/><circle cx="1093.5" cy="520.5" r="3.08"/><circle cx="1098.5" cy="520.5" r="3.08"/><circle cx="1104.5" cy="520.5" r="3.08"/><circle cx="1110.5" cy="520.5" r="3.08"/><circle cx="1115.5" cy="520.5" r="3.08"/><circle cx="1121.5" cy="520.5" r="3.08"/><circle cx="1127.5" cy="520.5" r="3.08"/><circle cx="1132.5" cy="520.5" r="3.08"/><circle cx="1138.5" cy="520.5" r="3.08"/><circle cx="1143.5" cy="520.5" r="3.08"/><circle cx="1149.5" cy="520.5" r="3.08"/><circle cx="1155.5" cy="520.5" r="3.08"/><circle cx="1160.5" cy="520.5" r="3.08"/><circle cx="1166.5" cy="520.5" r="3.08"/><circle cx="1172.5" cy="520.5" r="3.08"/><circle cx="1177.5" cy="520.5" r="3.08"/><circle cx="1183.5" cy="520.5" r="3.08"/><circle cx="1189.5" cy="520.5" r="3.08"/><circle cx="1194.5" cy="520.5" r="3.08"/><circle cx="738.5" cy="512.5" r="3.08"/><circle cx="743.5" cy="512.5" r="3.08"/><circle cx="749.5" cy="512.5" r="3.08"/><circle cx="755.5" cy="512.5" r="3.08"/><circle cx="760.5" cy="512.5" r="3.08"/><circle cx="766.5" cy="512.5" r="3.08"/><circle cx="771.5" cy="512.5" r="3.08"/><circle cx="777.5" cy="512.5" r="3.08"/><circle cx="783.5" cy="512.5" r="3.08"/><circle cx="788.5" cy="512.5" r="3.08"/><circle cx="794.5" cy="512.5" r="3.08"/><circle cx="800.5" cy="512.5" r="3.08"/><circle cx="805.5" cy="512.5" r="3.08"/><circle cx="811.5" cy="512.5" r="3.08"/><circle cx="817.5" cy="512.5" r="3.08"/><circle cx="822.5" cy="512.5" r="3.08"/><circle cx="828.5" cy="512.5" r="3.08"/><circle cx="833.5" cy="512.5" r="3.08"/><circle cx="839.5" cy="512.5" r="3.08"/><circle cx="845.5" cy="512.5" r="3.08"/><circle cx="850.5" cy="512.5" r="3.08"/><circle cx="856.5" cy="512.5" r="3.08"/><circle cx="862.5" cy="512.5" r="3.08"/><circle cx="867.5" cy="512.5" r="3.08"/><circle cx="873.5" cy="512.5" r="3.08"/><circle cx="879.5" cy="512.5" r="3.08"/><circle cx="884.5" cy="512.5" r="3.08"/><circle cx="890.5" cy="512.5" r="3.08"/><circle cx="895.5" cy="512.5" r="3.08"/><circle cx="901.5" cy="512.5" r="3.08"/><circle cx="907.5" cy="512.5" r="3.08"/><circle cx="912.5" cy="512.5" r="3.08"/><circle cx="918.5" cy="512.5" r="3.08"/><circle cx="924.5" cy="512.5" r="3.08"/><circle cx="929.5" cy="512.5" r="3.08"/><circle cx="935.5" cy="512.5" r="3.08"/><circle cx="941.5" cy="512.5" r="3.08"/><circle cx="946.5" cy="512.5" r="3.08"/><circle cx="952.5" cy="512.5" r="3.08"/><circle cx="957.5" cy="512.5" r="3.08"/><circle cx="963.5" cy="512.5" r="3.08"/><circle cx="969.5" cy="512.5" r="3.08"/><circle cx="974.5" cy="512.5" r="3.08"/><circle cx="980.5" cy="512.5" r="3.08"/><circle cx="986.5" cy="512.5" r="3.08"/><circle cx="991.5" cy="512.5" r="3.08"/><circle cx="997.5" cy="512.5" r="3.08"/><circle cx="1003.5" cy="512.5" r="3.08"/><circle cx="1008.5" cy="512.5" r="3.08"/><circle cx="1014.5" cy="512.5" r="3.08"/><circle cx="1019.5" cy="512.5" r="3.08"/><circle cx="1025.5" cy="512.5" r="3.08"/><circle cx="1031.5" cy="512.5" r="3.08"/><circle cx="1036.5" cy="512.5" r="3.08"/><circle cx="1042.5" cy="512.5" r="3.08"/><circle cx="1048.5" cy="512.5" r="3.08"/><circle cx="1053.5" cy="512.5" r="3.08"/><circle cx="1059.5" cy="512.5" r="3.08"/><circle cx="1065.5" cy="512.5" r="3.08"/><circle cx="1070.5" cy="512.5" r="3.08"/><circle cx="1076.5" cy="512.5" r="3.08"/><circle cx="1081.5" cy="512.5" r="3.08"/><circle cx="1087.5" cy="512.5" r="3.08"/><circle cx="1093.5" cy="512.5" r="3.08"/><circle cx="1098.5" cy="512.5" r="3.08"/><circle cx="1104.5" cy="512.5" r="3.08"/><circle cx="1110.5" cy="512.5" r="3.08"/><circle cx="1115.5" cy="512.5" r="3.08"/><circle cx="1121.5" cy="512.5" r="3.08"/><circle cx="1127.5" cy="512.5" r="3.08"/><circle cx="1132.5" cy="512.5" r="3.08"/><circle cx="1138.5" cy="512.5" r="3.08"/><circle cx="1143.5" cy="512.5" r="3.08"/><circle cx="1149.5" cy="512.5" r="3.08"/><circle cx="1155.5" cy="512.5" r="3.08"/><circle cx="1160.5" cy="512.5" r="3.08"/><circle cx="1166.5" cy="512.5" r="3.08"/><circle cx="1172.5" cy="512.5" r="3.08"/><circle cx="1177.5" cy="512.5" r="3.08"/><circle cx="1183.5" cy="512.5" r="3.08"/><circle cx="1189.5" cy="512.5" r="3.08"/><circle cx="1194.5" cy="512.5" r="3.08"/><circle cx="738.5" cy="504.5" r="3.08"/><circle cx="743.5" cy="504.5" r="3.08"/><circle cx="749.5" cy="504.5" r="3.08"/><circle cx="755.5" cy="504.5" r="3.08"/><circle cx="760.5" cy="504.5" r="3.08"/><circle cx="766.5" cy="504.5" r="3.08"/><circle cx="771.5" cy="504.5" r="3.08"/><circle cx="777.5" cy="504.5" r="3.08"/><circle cx="783.5" cy="504.5" r="3.08"/><circle cx="788.5" cy="504.5" r="3.08"/><circle cx="794.5" cy="504.5" r="3.08"/><circle cx="800.5" cy="504.5" r="3.08"/><circle cx="805.5" cy="504.5" r="3.08"/><circle cx="811.5" cy="504.5" r="3.08"/><circle cx="817.5" cy="504.5" r="3.08"/><circle cx="822.5" cy="504.5" r="3.08"/><circle cx="828.5" cy="504.5" r="3.08"/><circle cx="833.5" cy="504.5" r="3.08"/><circle cx="839.5" cy="504.5" r="3.08"/><circle cx="845.5" cy="504.5" r="3.08"/><circle cx="850.5" cy="504.5" r="3.08"/><circle cx="856.5" cy="504.5" r="3.08"/><circle cx="862.5" cy="504.5" r="3.08"/><circle cx="867.5" cy="504.5" r="3.08"/><circle cx="873.5" cy="504.5" r="3.08"/><circle cx="879.5" cy="504.5" r="3.08"/><circle cx="884.5" cy="504.5" r="3.08"/><circle cx="890.5" cy="504.5" r="3.08"/><circle cx="895.5" cy="504.5" r="3.08"/><circle cx="901.5" cy="504.5" r="3.08"/><circle cx="907.5" cy="504.5" r="3.08"/><circle cx="912.5" cy="504.5" r="3.08"/><circle cx="918.5" cy="504.5" r="3.08"/><circle cx="924.5" cy="504.5" r="3.08"/><circle cx="929.5" cy="504.5" r="3.08"/><circle cx="935.5" cy="504.5" r="3.08"/><circle cx="941.5" cy="504.5" r="3.08"/><circle cx="946.5" cy="504.5" r="3.08"/><circle cx="952.5" cy="504.5" r="3.08"/><circle cx="957.5" cy="504.5" r="3.08"/><circle cx="963.5" cy="504.5" r="3.08"/><circle cx="969.5" cy="504.5" r="3.08"/><circle cx="974.5" cy="504.5" r="3.08"/><circle cx="980.5" cy="504.5" r="3.08"/><circle cx="986.5" cy="504.5" r="3.08"/><circle cx="991.5" cy="504.5" r="3.08"/><circle cx="997.5" cy="504.5" r="3.08"/><circle cx="1003.5" cy="504.5" r="3.08"/><circle cx="1008.5" cy="504.5" r="3.08"/><circle cx="1014.5" cy="504.5" r="3.08"/><circle cx="1019.5" cy="504.5" r="3.08"/><circle cx="1025.5" cy="504.5" r="3.08"/><circle cx="1031.5" cy="504.5" r="3.08"/><circle cx="1036.5" cy="504.5" r="3.08"/><circle cx="1042.5" cy="504.5" r="3.08"/><circle cx="1048.5" cy="504.5" r="3.08"/><circle cx="1053.5" cy="504.5" r="3.08"/><circle cx="1059.5" cy="504.5" r="3.08"/><circle cx="1065.5" cy="504.5" r="3.08"/><circle cx="1070.5" cy="504.5" r="3.08"/><circle cx="1076.5" cy="504.5" r="3.08"/><circle cx="1081.5" cy="504.5" r="3.08"/><circle cx="1087.5" cy="504.5" r="3.08"/><circle cx="1093.5" cy="504.5" r="3.08"/><circle cx="1098.5" cy="504.5" r="3.08"/><circle cx="1104.5" cy="504.5" r="3.08"/><circle cx="1110.5" cy="504.5" r="3.08"/><circle cx="1115.5" cy="504.5" r="3.08"/><circle cx="1121.5" cy="504.5" r="3.08"/><circle cx="1127.5" cy="504.5" r="3.08"/><circle cx="1132.5" cy="504.5" r="3.08"/><circle cx="1138.5" cy="504.5" r="3.08"/><circle cx="1143.5" cy="504.5" r="3.08"/><circle cx="1149.5" cy="504.5" r="3.08"/><circle cx="1155.5" cy="504.5" r="3.08"/><circle cx="1160.5" cy="504.5" r="3.08"/><circle cx="1166.5" cy="504.5" r="3.08"/><circle cx="1172.5" cy="504.5" r="3.08"/><circle cx="1177.5" cy="504.5" r="3.08"/><circle cx="1183.5" cy="504.5" r="3.08"/><circle cx="1189.5" cy="504.5" r="3.08"/><circle cx="1194.5" cy="504.5" r="3.08"/><circle cx="738.5" cy="497.5" r="3.08"/><circle cx="743.5" cy="497.5" r="3.08"/><circle cx="749.5" cy="497.5" r="3.08"/><circle cx="755.5" cy="497.5" r="3.08"/><circle cx="760.5" cy="497.5" r="3.08"/><circle cx="766.5" cy="497.5" r="3.08"/><circle cx="771.5" cy="497.5" r="3.08"/><circle cx="777.5" cy="497.5" r="3.08"/><circle cx="783.5" cy="497.5" r="3.08"/><circle cx="788.5" cy="497.5" r="3.08"/><circle cx="794.5" cy="497.5" r="3.08"/><circle cx="800.5" cy="497.5" r="3.08"/><circle cx="805.5" cy="497.5" r="3.08"/><circle cx="811.5" cy="497.5" r="3.08"/><circle cx="817.5" cy="497.5" r="3.08"/><circle cx="822.5" cy="497.5" r="3.08"/><circle cx="828.5" cy="497.5" r="3.08"/><circle cx="833.5" cy="497.5" r="3.08"/><circle cx="839.5" cy="497.5" r="3.08"/><circle cx="845.5" cy="497.5" r="3.08"/><circle cx="850.5" cy="497.5" r="3.08"/><circle cx="856.5" cy="497.5" r="3.08"/><circle cx="862.5" cy="497.5" r="3.08"/><circle cx="867.5" cy="497.5" r="3.08"/><circle cx="873.5" cy="497.5" r="3.08"/><circle cx="879.5" cy="497.5" r="3.08"/><circle cx="884.5" cy="497.5" r="3.08"/><circle cx="890.5" cy="497.5" r="3.08"/><circle cx="895.5" cy="497.5" r="3.08"/><circle cx="901.5" cy="497.5" r="3.08"/><circle cx="907.5" cy="497.5" r="3.08"/><circle cx="912.5" cy="497.5" r="3.08"/><circle cx="918.5" cy="497.5" r="3.08"/><circle cx="924.5" cy="497.5" r="3.08"/><circle cx="929.5" cy="497.5" r="3.08"/><circle cx="935.5" cy="497.5" r="3.08"/><circle cx="941.5" cy="497.5" r="3.08"/><circle cx="946.5" cy="497.5" r="3.08"/><circle cx="952.5" cy="497.5" r="3.08"/><circle cx="957.5" cy="497.5" r="3.08"/><circle cx="963.5" cy="497.5" r="3.08"/><circle cx="969.5" cy="497.5" r="3.08"/><circle cx="974.5" cy="497.5" r="3.08"/><circle cx="980.5" cy="497.5" r="3.08"/><circle cx="986.5" cy="497.5" r="3.08"/><circle cx="991.5" cy="497.5" r="3.08"/><circle cx="997.5" cy="497.5" r="3.08"/><circle cx="1003.5" cy="497.5" r="3.08"/><circle cx="1008.5" cy="497.5" r="3.08"/><circle cx="1014.5" cy="497.5" r="3.08"/><circle cx="1019.5" cy="497.5" r="3.08"/><circle cx="1025.5" cy="497.5" r="3.08"/><circle cx="1031.5" cy="497.5" r="3.08"/><circle cx="1036.5" cy="497.5" r="3.08"/><circle cx="1042.5" cy="497.5" r="3.08"/><circle cx="1048.5" cy="497.5" r="3.08"/><circle cx="1053.5" cy="497.5" r="3.08"/><circle cx="1059.5" cy="497.5" r="3.08"/><circle cx="1065.5" cy="497.5" r="3.08"/><circle cx="1070.5" cy="497.5" r="3.08"/><circle cx="1076.5" cy="497.5" r="3.08"/><circle cx="1081.5" cy="497.5" r="3.08"/><circle cx="1087.5" cy="497.5" r="3.08"/><circle cx="1093.5" cy="497.5" r="3.08"/><circle cx="1098.5" cy="497.5" r="3.08"/><circle cx="1104.5" cy="497.5" r="3.08"/><circle cx="1110.5" cy="497.5" r="3.08"/><circle cx="1115.5" cy="497.5" r="3.08"/><circle cx="1121.5" cy="497.5" r="3.08"/><circle cx="1127.5" cy="497.5" r="3.08"/><circle cx="1132.5" cy="497.5" r="3.08"/><circle cx="1138.5" cy="497.5" r="3.08"/><circle cx="1143.5" cy="497.5" r="3.08"/><circle cx="1149.5" cy="497.5" r="3.08"/><circle cx="1155.5" cy="497.5" r="3.08"/><circle cx="1160.5" cy="497.5" r="3.08"/><circle cx="1166.5" cy="497.5" r="3.08"/><circle cx="1172.5" cy="497.5" r="3.08"/><circle cx="1177.5" cy="497.5" r="3.08"/><circle cx="1183.5" cy="497.5" r="3.08"/><circle cx="1189.5" cy="497.5" r="3.08"/><circle cx="1194.5" cy="497.5" r="3.08"/><circle cx="738.5" cy="489.5" r="3.08"/><circle cx="743.5" cy="489.5" r="3.08"/><circle cx="749.5" cy="489.5" r="3.08"/><circle cx="755.5" cy="489.5" r="3.08"/><circle cx="760.5" cy="489.5" r="3.08"/><circle cx="766.5" cy="489.5" r="3.08"/><circle cx="771.5" cy="489.5" r="3.08"/><circle cx="777.5" cy="489.5" r="3.08"/><circle cx="783.5" cy="489.5" r="3.08"/><circle cx="788.5" cy="489.5" r="3.08"/><circle cx="794.5" cy="489.5" r="3.08"/><circle cx="800.5" cy="489.5" r="3.08"/><circle cx="805.5" cy="489.5" r="3.08"/><circle cx="811.5" cy="489.5" r="3.08"/><circle cx="817.5" cy="489.5" r="3.08"/><circle cx="822.5" cy="489.5" r="3.08"/><circle cx="828.5" cy="489.5" r="3.08"/><circle cx="833.5" cy="489.5" r="3.08"/><circle cx="839.5" cy="489.5" r="3.08"/><circle cx="845.5" cy="489.5" r="3.08"/><circle cx="850.5" cy="489.5" r="3.08"/><circle cx="856.5" cy="489.5" r="3.08"/><circle cx="862.5" cy="489.5" r="3.08"/><circle cx="867.5" cy="489.5" r="3.08"/><circle cx="873.5" cy="489.5" r="3.08"/><circle cx="879.5" cy="489.5" r="3.08"/><circle cx="884.5" cy="489.5" r="3.08"/><circle cx="890.5" cy="489.5" r="3.08"/><circle cx="895.5" cy="489.5" r="3.08"/><circle cx="901.5" cy="489.5" r="3.08"/><circle cx="907.5" cy="489.5" r="3.08"/><circle cx="912.5" cy="489.5" r="3.08"/><circle cx="918.5" cy="489.5" r="3.08"/><circle cx="924.5" cy="489.5" r="3.08"/><circle cx="929.5" cy="489.5" r="3.08"/><circle cx="935.5" cy="489.5" r="3.08"/><circle cx="941.5" cy="489.5" r="3.08"/><circle cx="946.5" cy="489.5" r="3.08"/><circle cx="952.5" cy="489.5" r="3.08"/><circle cx="957.5" cy="489.5" r="3.08"/><circle cx="963.5" cy="489.5" r="3.08"/><circle cx="969.5" cy="489.5" r="3.08"/><circle cx="974.5" cy="489.5" r="3.08"/><circle cx="980.5" cy="489.5" r="3.08"/><circle cx="986.5" cy="489.5" r="3.08"/><circle cx="991.5" cy="489.5" r="3.08"/><circle cx="997.5" cy="489.5" r="3.08"/><circle cx="1003.5" cy="489.5" r="3.08"/><circle cx="1008.5" cy="489.5" r="3.08"/><circle cx="1014.5" cy="489.5" r="3.08"/><circle cx="1019.5" cy="489.5" r="3.08"/><circle cx="1025.5" cy="489.5" r="3.08"/><circle cx="1031.5" cy="489.5" r="3.08"/><circle cx="1036.5" cy="489.5" r="3.08"/><circle cx="1042.5" cy="489.5" r="3.08"/><circle cx="1048.5" cy="489.5" r="3.08"/><circle cx="1053.5" cy="489.5" r="3.08"/><circle cx="1059.5" cy="489.5" r="3.08"/><circle cx="1065.5" cy="489.5" r="3.08"/><circle cx="1070.5" cy="489.5" r="3.08"/><circle cx="1076.5" cy="489.5" r="3.08"/><circle cx="1081.5" cy="489.5" r="3.08"/><circle cx="1087.5" cy="489.5" r="3.08"/><circle cx="1093.5" cy="489.5" r="3.08"/><circle cx="1098.5" cy="489.5" r="3.08"/><circle cx="1104.5" cy="489.5" r="3.08"/><circle cx="1110.5" cy="489.5" r="3.08"/><circle cx="1115.5" cy="489.5" r="3.08"/><circle cx="1121.5" cy="489.5" r="3.08"/><circle cx="1127.5" cy="489.5" r="3.08"/><circle cx="1132.5" cy="489.5" r="3.08"/><circle cx="1138.5" cy="489.5" r="3.08"/><circle cx="1143.5" cy="489.5" r="3.08"/><circle cx="1149.5" cy="489.5" r="3.08"/><circle cx="1155.5" cy="489.5" r="3.08"/><circle cx="1160.5" cy="489.5" r="3.08"/><circle cx="1166.5" cy="489.5" r="3.08"/><circle cx="1172.5" cy="489.5" r="3.08"/><circle cx="1177.5" cy="489.5" r="3.08"/><circle cx="1183.5" cy="489.5" r="3.08"/><circle cx="1189.5" cy="489.5" r="3.08"/><circle cx="1194.5" cy="489.5" r="3.08"/><circle cx="738.5" cy="482.5" r="3.08"/><circle cx="743.5" cy="482.5" r="3.08"/><circle cx="749.5" cy="482.5" r="3.08"/><circle cx="755.5" cy="482.5" r="3.08"/><circle cx="760.5" cy="482.5" r="3.08"/><circle cx="766.5" cy="482.5" r="3.08"/><circle cx="771.5" cy="482.5" r="3.08"/><circle cx="777.5" cy="482.5" r="3.08"/><circle cx="783.5" cy="482.5" r="3.08"/><circle cx="788.5" cy="482.5" r="3.08"/><circle cx="794.5" cy="482.5" r="3.08"/><circle cx="800.5" cy="482.5" r="3.08"/><circle cx="805.5" cy="482.5" r="3.08"/><circle cx="811.5" cy="482.5" r="3.08"/><circle cx="817.5" cy="482.5" r="3.08"/><circle cx="822.5" cy="482.5" r="3.08"/><circle cx="828.5" cy="482.5" r="3.08"/><circle cx="833.5" cy="482.5" r="3.08"/><circle cx="839.5" cy="482.5" r="3.08"/><circle cx="845.5" cy="482.5" r="3.08"/><circle cx="850.5" cy="482.5" r="3.08"/><circle cx="856.5" cy="482.5" r="3.08"/><circle cx="862.5" cy="482.5" r="3.08"/><circle cx="867.5" cy="482.5" r="3.08"/><circle cx="873.5" cy="482.5" r="3.08"/><circle cx="879.5" cy="482.5" r="3.08"/><circle cx="884.5" cy="482.5" r="3.08"/><circle cx="890.5" cy="482.5" r="3.08"/><circle cx="895.5" cy="482.5" r="3.08"/><circle cx="901.5" cy="482.5" r="3.08"/><circle cx="907.5" cy="482.5" r="3.08"/><circle cx="912.5" cy="482.5" r="3.08"/><circle cx="918.5" cy="482.5" r="3.08"/><circle cx="924.5" cy="482.5" r="3.08"/><circle cx="929.5" cy="482.5" r="3.08"/><circle cx="935.5" cy="482.5" r="3.08"/><circle cx="941.5" cy="482.5" r="3.08"/><circle cx="946.5" cy="482.5" r="3.08"/><circle cx="952.5" cy="482.5" r="3.08"/><circle cx="957.5" cy="482.5" r="3.08"/><circle cx="963.5" cy="482.5" r="3.08"/><circle cx="969.5" cy="482.5" r="3.08"/><circle cx="974.5" cy="482.5" r="3.08"/><circle cx="980.5" cy="482.5" r="3.08"/><circle cx="986.5" cy="482.5" r="3.08"/><circle cx="991.5" cy="482.5" r="3.08"/><circle cx="997.5" cy="482.5" r="3.08"/><circle cx="1003.5" cy="482.5" r="3.08"/><circle cx="1008.5" cy="482.5" r="3.08"/><circle cx="1014.5" cy="482.5" r="3.08"/><circle cx="1019.5" cy="482.5" r="3.08"/><circle cx="1025.5" cy="482.5" r="3.08"/><circle cx="1031.5" cy="482.5" r="3.08"/><circle cx="1036.5" cy="482.5" r="3.08"/><circle cx="1042.5" cy="482.5" r="3.08"/><circle cx="1048.5" cy="482.5" r="3.08"/><circle cx="1053.5" cy="482.5" r="3.08"/><circle cx="1059.5" cy="482.5" r="3.08"/><circle cx="1065.5" cy="482.5" r="3.08"/><circle cx="1070.5" cy="482.5" r="3.08"/><circle cx="1076.5" cy="482.5" r="3.08"/><circle cx="1081.5" cy="482.5" r="3.08"/><circle cx="1087.5" cy="482.5" r="3.08"/><circle cx="1093.5" cy="482.5" r="3.08"/><circle cx="1098.5" cy="482.5" r="3.08"/><circle cx="1104.5" cy="482.5" r="3.08"/><circle cx="1110.5" cy="482.5" r="3.08"/><circle cx="1115.5" cy="482.5" r="3.08"/><circle cx="1121.5" cy="482.5" r="3.08"/><circle cx="1127.5" cy="482.5" r="3.08"/><circle cx="1132.5" cy="482.5" r="3.08"/><circle cx="1138.5" cy="482.5" r="3.08"/><circle cx="1143.5" cy="482.5" r="3.08"/><circle cx="1149.5" cy="482.5" r="3.08"/><circle cx="1155.5" cy="482.5" r="3.08"/><circle cx="1160.5" cy="482.5" r="3.08"/><circle cx="1166.5" cy="482.5" r="3.08"/><circle cx="1172.5" cy="482.5" r="3.08"/><circle cx="1177.5" cy="482.5" r="3.08"/><circle cx="1183.5" cy="482.5" r="3.08"/><circle cx="1189.5" cy="482.5" r="3.08"/><circle cx="1194.5" cy="482.5" r="3.08"/><circle cx="738.5" cy="474.5" r="3.08"/><circle cx="743.5" cy="474.5" r="3.08"/><circle cx="749.5" cy="474.5" r="3.08"/><circle cx="755.5" cy="474.5" r="3.08"/><circle cx="760.5" cy="474.5" r="3.08"/><circle cx="766.5" cy="474.5" r="3.08"/><circle cx="771.5" cy="474.5" r="3.08"/><circle cx="777.5" cy="474.5" r="3.08"/><circle cx="783.5" cy="474.5" r="3.08"/><circle cx="788.5" cy="474.5" r="3.08"/><circle cx="794.5" cy="474.5" r="3.08"/><circle cx="800.5" cy="474.5" r="3.08"/><circle cx="805.5" cy="474.5" r="3.08"/><circle cx="811.5" cy="474.5" r="3.08"/><circle cx="817.5" cy="474.5" r="3.08"/><circle cx="822.5" cy="474.5" r="3.08"/><circle cx="828.5" cy="474.5" r="3.08"/><circle cx="833.5" cy="474.5" r="3.08"/><circle cx="839.5" cy="474.5" r="3.08"/><circle cx="845.5" cy="474.5" r="3.08"/><circle cx="850.5" cy="474.5" r="3.08"/><circle cx="856.5" cy="474.5" r="3.08"/><circle cx="862.5" cy="474.5" r="3.08"/><circle cx="867.5" cy="474.5" r="3.08"/><circle cx="873.5" cy="474.5" r="3.08"/><circle cx="879.5" cy="474.5" r="3.08"/><circle cx="884.5" cy="474.5" r="3.08"/><circle cx="890.5" cy="474.5" r="3.08"/><circle cx="895.5" cy="474.5" r="3.08"/><circle cx="901.5" cy="474.5" r="3.08"/><circle cx="907.5" cy="474.5" r="3.08"/><circle cx="912.5" cy="474.5" r="3.08"/><circle cx="918.5" cy="474.5" r="3.08"/><circle cx="924.5" cy="474.5" r="3.08"/><circle cx="929.5" cy="474.5" r="3.08"/><circle cx="935.5" cy="474.5" r="3.08"/><circle cx="941.5" cy="474.5" r="3.08"/><circle cx="946.5" cy="474.5" r="3.08"/><circle cx="952.5" cy="474.5" r="3.08"/><circle cx="957.5" cy="474.5" r="3.08"/><circle cx="963.5" cy="474.5" r="3.08"/><circle cx="969.5" cy="474.5" r="3.08"/><circle cx="974.5" cy="474.5" r="3.08"/><circle cx="980.5" cy="474.5" r="3.08"/><circle cx="986.5" cy="474.5" r="3.08"/><circle cx="991.5" cy="474.5" r="3.08"/><circle cx="997.5" cy="474.5" r="3.08"/><circle cx="1003.5" cy="474.5" r="3.08"/><circle cx="1008.5" cy="474.5" r="3.08"/><circle cx="1014.5" cy="474.5" r="3.08"/><circle cx="1019.5" cy="474.5" r="3.08"/><circle cx="1025.5" cy="474.5" r="3.08"/><circle cx="1031.5" cy="474.5" r="3.08"/><circle cx="1036.5" cy="474.5" r="3.08"/><circle cx="1042.5" cy="474.5" r="3.08"/><circle cx="1048.5" cy="474.5" r="3.08"/><circle cx="1053.5" cy="474.5" r="3.08"/><circle cx="1059.5" cy="474.5" r="3.08"/><circle cx="1065.5" cy="474.5" r="3.08"/><circle cx="1070.5" cy="474.5" r="3.08"/><circle cx="1076.5" cy="474.5" r="3.08"/><circle cx="1081.5" cy="474.5" r="3.08"/><circle cx="1087.5" cy="474.5" r="3.08"/><circle cx="1093.5" cy="474.5" r="3.08"/><circle cx="1098.5" cy="474.5" r="3.08"/><circle cx="1104.5" cy="474.5" r="3.08"/><circle cx="1110.5" cy="474.5" r="3.08"/><circle cx="1115.5" cy="474.5" r="3.08"/><circle cx="1121.5" cy="474.5" r="3.08"/><circle cx="1127.5" cy="474.5" r="3.08"/><circle cx="1132.5" cy="474.5" r="3.08"/><circle cx="1138.5" cy="474.5" r="3.08"/><circle cx="1143.5" cy="474.5" r="3.08"/><circle cx="1149.5" cy="474.5" r="3.08"/><circle cx="1155.5" cy="474.5" r="3.08"/><circle cx="1160.5" cy="474.5" r="3.08"/><circle cx="1166.5" cy="474.5" r="3.08"/><circle cx="1172.5" cy="474.5" r="3.08"/><circle cx="1177.5" cy="474.5" r="3.08"/><circle cx="1183.5" cy="474.5" r="3.08"/><circle cx="1189.5" cy="474.5" r="3.08"/><circle cx="1194.5" cy="474.5" r="3.08"/><circle cx="738.5" cy="466.5" r="3.08"/><circle cx="743.5" cy="466.5" r="3.08"/><circle cx="749.5" cy="466.5" r="3.08"/><circle cx="755.5" cy="466.5" r="3.08"/><circle cx="760.5" cy="466.5" r="3.08"/><circle cx="766.5" cy="466.5" r="3.08"/><circle cx="771.5" cy="466.5" r="3.08"/><circle cx="777.5" cy="466.5" r="3.08"/><circle cx="783.5" cy="466.5" r="3.08"/><circle cx="788.5" cy="466.5" r="3.08"/><circle cx="794.5" cy="466.5" r="3.08"/><circle cx="800.5" cy="466.5" r="3.08"/><circle cx="805.5" cy="466.5" r="3.08"/><circle cx="811.5" cy="466.5" r="3.08"/><circle cx="817.5" cy="466.5" r="3.08"/><circle cx="822.5" cy="466.5" r="3.08"/><circle cx="828.5" cy="466.5" r="3.08"/><circle cx="833.5" cy="466.5" r="3.08"/><circle cx="839.5" cy="466.5" r="3.08"/><circle cx="845.5" cy="466.5" r="3.08"/><circle cx="850.5" cy="466.5" r="3.08"/><circle cx="856.5" cy="466.5" r="3.08"/><circle cx="862.5" cy="466.5" r="3.08"/><circle cx="867.5" cy="466.5" r="3.08"/><circle cx="873.5" cy="466.5" r="3.08"/><circle cx="879.5" cy="466.5" r="3.08"/><circle cx="884.5" cy="466.5" r="3.08"/><circle cx="890.5" cy="466.5" r="3.08"/><circle cx="895.5" cy="466.5" r="3.08"/><circle cx="901.5" cy="466.5" r="3.08"/><circle cx="907.5" cy="466.5" r="3.08"/><circle cx="912.5" cy="466.5" r="3.08"/><circle cx="918.5" cy="466.5" r="3.08"/><circle cx="924.5" cy="466.5" r="3.08"/><circle cx="929.5" cy="466.5" r="3.08"/><circle cx="935.5" cy="466.5" r="3.08"/><circle cx="941.5" cy="466.5" r="3.08"/><circle cx="946.5" cy="466.5" r="3.08"/><circle cx="952.5" cy="466.5" r="3.08"/><circle cx="957.5" cy="466.5" r="3.08"/><circle cx="963.5" cy="466.5" r="3.08"/><circle cx="969.5" cy="466.5" r="3.08"/><circle cx="974.5" cy="466.5" r="3.08"/><circle cx="980.5" cy="466.5" r="3.08"/><circle cx="986.5" cy="466.5" r="3.08"/><circle cx="991.5" cy="466.5" r="3.08"/><circle cx="997.5" cy="466.5" r="3.08"/><circle cx="1003.5" cy="466.5" r="3.08"/><circle cx="1008.5" cy="466.5" r="3.08"/><circle cx="1014.5" cy="466.5" r="3.08"/><circle cx="1019.5" cy="466.5" r="3.08"/><circle cx="1025.5" cy="466.5" r="3.08"/><circle cx="1031.5" cy="466.5" r="3.08"/><circle cx="1036.5" cy="466.5" r="3.08"/><circle cx="1042.5" cy="466.5" r="3.08"/><circle cx="1048.5" cy="466.5" r="3.08"/><circle cx="1053.5" cy="466.5" r="3.08"/><circle cx="1059.5" cy="466.5" r="3.08"/><circle cx="1065.5" cy="466.5" r="3.08"/><circle cx="1070.5" cy="466.5" r="3.08"/><circle cx="1076.5" cy="466.5" r="3.08"/><circle cx="1081.5" cy="466.5" r="3.08"/><circle cx="1087.5" cy="466.5" r="3.08"/><circle cx="1093.5" cy="466.5" r="3.08"/><circle cx="1098.5" cy="466.5" r="3.08"/><circle cx="1104.5" cy="466.5" r="3.08"/><circle cx="1110.5" cy="466.5" r="3.08"/><circle cx="1115.5" cy="466.5" r="3.08"/><circle cx="1121.5" cy="466.5" r="3.08"/><circle cx="1127.5" cy="466.5" r="3.08"/><circle cx="1132.5" cy="466.5" r="3.08"/><circle cx="1138.5" cy="466.5" r="3.08"/><circle cx="1143.5" cy="466.5" r="3.08"/><circle cx="1149.5" cy="466.5" r="3.08"/><circle cx="1155.5" cy="466.5" r="3.08"/><circle cx="1160.5" cy="466.5" r="3.08"/><circle cx="1166.5" cy="466.5" r="3.08"/><circle cx="1172.5" cy="466.5" r="3.08"/><circle cx="1177.5" cy="466.5" r="3.08"/><circle cx="1183.5" cy="466.5" r="3.08"/><circle cx="1189.5" cy="466.5" r="3.08"/><circle cx="1194.5" cy="466.5" r="3.08"/><circle cx="738.5" cy="459.5" r="3.08"/><circle cx="743.5" cy="459.5" r="3.08"/><circle cx="749.5" cy="459.5" r="3.08"/><circle cx="755.5" cy="459.5" r="3.08"/><circle cx="760.5" cy="459.5" r="3.08"/><circle cx="766.5" cy="459.5" r="3.08"/><circle cx="771.5" cy="459.5" r="3.08"/><circle cx="777.5" cy="459.5" r="3.08"/><circle cx="783.5" cy="459.5" r="3.08"/><circle cx="788.5" cy="459.5" r="3.08"/><circle cx="794.5" cy="459.5" r="3.08"/><circle cx="800.5" cy="459.5" r="3.08"/><circle cx="805.5" cy="459.5" r="3.08"/><circle cx="811.5" cy="459.5" r="3.08"/><circle cx="817.5" cy="459.5" r="3.08"/><circle cx="822.5" cy="459.5" r="3.08"/><circle cx="828.5" cy="459.5" r="3.08"/><circle cx="833.5" cy="459.5" r="3.08"/><circle cx="839.5" cy="459.5" r="3.08"/><circle cx="845.5" cy="459.5" r="3.08"/><circle cx="850.5" cy="459.5" r="3.08"/><circle cx="856.5" cy="459.5" r="3.08"/><circle cx="862.5" cy="459.5" r="3.08"/><circle cx="867.5" cy="459.5" r="3.08"/><circle cx="873.5" cy="459.5" r="3.08"/><circle cx="879.5" cy="459.5" r="3.08"/><circle cx="884.5" cy="459.5" r="3.08"/><circle cx="890.5" cy="459.5" r="3.08"/><circle cx="895.5" cy="459.5" r="3.08"/><circle cx="901.5" cy="459.5" r="3.08"/><circle cx="907.5" cy="459.5" r="3.08"/><circle cx="912.5" cy="459.5" r="3.08"/><circle cx="918.5" cy="459.5" r="3.08"/><circle cx="924.5" cy="459.5" r="3.08"/><circle cx="929.5" cy="459.5" r="3.08"/><circle cx="935.5" cy="459.5" r="3.08"/><circle cx="941.5" cy="459.5" r="3.08"/><circle cx="946.5" cy="459.5" r="3.08"/><circle cx="952.5" cy="459.5" r="3.08"/><circle cx="957.5" cy="459.5" r="3.08"/><circle cx="963.5" cy="459.5" r="3.08"/><circle cx="969.5" cy="459.5" r="3.08"/><circle cx="974.5" cy="459.5" r="3.08"/><circle cx="980.5" cy="459.5" r="3.08"/><circle cx="986.5" cy="459.5" r="3.08"/><circle cx="991.5" cy="459.5" r="3.08"/><circle cx="997.5" cy="459.5" r="3.08"/><circle cx="1003.5" cy="459.5" r="3.08"/><circle cx="1008.5" cy="459.5" r="3.08"/><circle cx="1014.5" cy="459.5" r="3.08"/><circle cx="1019.5" cy="459.5" r="3.08"/><circle cx="1025.5" cy="459.5" r="3.08"/><circle cx="1031.5" cy="459.5" r="3.08"/><circle cx="1036.5" cy="459.5" r="3.08"/><circle cx="1042.5" cy="459.5" r="3.08"/><circle cx="1048.5" cy="459.5" r="3.08"/><circle cx="1053.5" cy="459.5" r="3.08"/><circle cx="1059.5" cy="459.5" r="3.08"/><circle cx="1065.5" cy="459.5" r="3.08"/><circle cx="1070.5" cy="459.5" r="3.08"/><circle cx="1076.5" cy="459.5" r="3.08"/><circle cx="1081.5" cy="459.5" r="3.08"/><circle cx="1087.5" cy="459.5" r="3.08"/><circle cx="1093.5" cy="459.5" r="3.08"/><circle cx="1098.5" cy="459.5" r="3.08"/><circle cx="1104.5" cy="459.5" r="3.08"/><circle cx="1110.5" cy="459.5" r="3.08"/><circle cx="1115.5" cy="459.5" r="3.08"/><circle cx="1121.5" cy="459.5" r="3.08"/><circle cx="1127.5" cy="459.5" r="3.08"/><circle cx="1132.5" cy="459.5" r="3.08"/><circle cx="1138.5" cy="459.5" r="3.08"/><circle cx="1143.5" cy="459.5" r="3.08"/><circle cx="1149.5" cy="459.5" r="3.08"/><circle cx="1155.5" cy="459.5" r="3.08"/><circle cx="1160.5" cy="459.5" r="3.08"/><circle cx="1166.5" cy="459.5" r="3.08"/><circle cx="1172.5" cy="459.5" r="3.08"/><circle cx="1177.5" cy="459.5" r="3.08"/><circle cx="1183.5" cy="459.5" r="3.08"/><circle cx="1189.5" cy="459.5" r="3.08"/><circle cx="738.5" cy="451.5" r="3.08"/><circle cx="743.5" cy="451.5" r="3.08"/><circle cx="749.5" cy="451.5" r="3.08"/><circle cx="755.5" cy="451.5" r="3.08"/><circle cx="760.5" cy="451.5" r="3.08"/><circle cx="766.5" cy="451.5" r="3.08"/><circle cx="771.5" cy="451.5" r="3.08"/><circle cx="777.5" cy="451.5" r="3.08"/><circle cx="783.5" cy="451.5" r="3.08"/><circle cx="788.5" cy="451.5" r="3.08"/><circle cx="794.5" cy="451.5" r="3.08"/><circle cx="800.5" cy="451.5" r="3.08"/><circle cx="805.5" cy="451.5" r="3.08"/><circle cx="811.5" cy="451.5" r="3.08"/><circle cx="817.5" cy="451.5" r="3.08"/><circle cx="822.5" cy="451.5" r="3.08"/><circle cx="828.5" cy="451.5" r="3.08"/><circle cx="833.5" cy="451.5" r="3.08"/><circle cx="839.5" cy="451.5" r="3.08"/><circle cx="845.5" cy="451.5" r="3.08"/><circle cx="850.5" cy="451.5" r="3.08"/><circle cx="856.5" cy="451.5" r="3.08"/><circle cx="862.5" cy="451.5" r="3.08"/><circle cx="867.5" cy="451.5" r="3.08"/><circle cx="873.5" cy="451.5" r="3.08"/><circle cx="879.5" cy="451.5" r="3.08"/><circle cx="884.5" cy="451.5" r="3.08"/><circle cx="890.5" cy="451.5" r="3.08"/><circle cx="895.5" cy="451.5" r="3.08"/><circle cx="901.5" cy="451.5" r="3.08"/><circle cx="907.5" cy="451.5" r="3.08"/><circle cx="912.5" cy="451.5" r="3.08"/><circle cx="918.5" cy="451.5" r="3.08"/><circle cx="924.5" cy="451.5" r="3.08"/><circle cx="929.5" cy="451.5" r="3.08"/><circle cx="935.5" cy="451.5" r="3.08"/><circle cx="941.5" cy="451.5" r="3.08"/><circle cx="946.5" cy="451.5" r="3.08"/><circle cx="952.5" cy="451.5" r="3.08"/><circle cx="957.5" cy="451.5" r="3.08"/><circle cx="963.5" cy="451.5" r="3.08"/><circle cx="969.5" cy="451.5" r="3.08"/><circle cx="974.5" cy="451.5" r="3.08"/><circle cx="980.5" cy="451.5" r="3.08"/><circle cx="986.5" cy="451.5" r="3.08"/><circle cx="991.5" cy="451.5" r="3.08"/><circle cx="997.5" cy="451.5" r="3.08"/><circle cx="1003.5" cy="451.5" r="3.08"/><circle cx="1008.5" cy="451.5" r="3.08"/><circle cx="1014.5" cy="451.5" r="3.08"/><circle cx="1019.5" cy="451.5" r="3.08"/><circle cx="1025.5" cy="451.5" r="3.08"/><circle cx="1031.5" cy="451.5" r="3.08"/><circle cx="1036.5" cy="451.5" r="3.08"/><circle cx="1042.5" cy="451.5" r="3.08"/><circle cx="1048.5" cy="451.5" r="3.08"/><circle cx="1053.5" cy="451.5" r="3.08"/><circle cx="1059.5" cy="451.5" r="3.08"/><circle cx="1065.5" cy="451.5" r="3.08"/><circle cx="1070.5" cy="451.5" r="3.08"/><circle cx="1076.5" cy="451.5" r="3.08"/><circle cx="1081.5" cy="451.5" r="3.08"/><circle cx="1087.5" cy="451.5" r="3.08"/><circle cx="1093.5" cy="451.5" r="3.08"/><circle cx="1098.5" cy="451.5" r="3.08"/><circle cx="1104.5" cy="451.5" r="3.08"/><circle cx="1110.5" cy="451.5" r="3.08"/><circle cx="1115.5" cy="451.5" r="3.08"/><circle cx="1121.5" cy="451.5" r="3.08"/><circle cx="1127.5" cy="451.5" r="3.08"/><circle cx="1132.5" cy="451.5" r="3.08"/><circle cx="1138.5" cy="451.5" r="3.08"/><circle cx="1143.5" cy="451.5" r="3.08"/><circle cx="1149.5" cy="451.5" r="3.08"/><circle cx="1155.5" cy="451.5" r="3.08"/><circle cx="1160.5" cy="451.5" r="3.08"/><circle cx="1166.5" cy="451.5" r="3.08"/><circle cx="1172.5" cy="451.5" r="3.08"/><circle cx="1177.5" cy="451.5" r="3.08"/><circle cx="1183.5" cy="451.5" r="3.08"/><circle cx="1189.5" cy="451.5" r="3.08"/><circle cx="738.5" cy="444.5" r="3.08"/><circle cx="743.5" cy="444.5" r="3.08"/><circle cx="749.5" cy="444.5" r="3.08"/><circle cx="755.5" cy="444.5" r="3.08"/><circle cx="760.5" cy="444.5" r="3.08"/><circle cx="766.5" cy="444.5" r="3.08"/><circle cx="771.5" cy="444.5" r="3.08"/><circle cx="777.5" cy="444.5" r="3.08"/><circle cx="783.5" cy="444.5" r="3.08"/><circle cx="788.5" cy="444.5" r="3.08"/><circle cx="794.5" cy="444.5" r="3.08"/><circle cx="800.5" cy="444.5" r="3.08"/><circle cx="805.5" cy="444.5" r="3.08"/><circle cx="811.5" cy="444.5" r="3.08"/><circle cx="817.5" cy="444.5" r="3.08"/><circle cx="822.5" cy="444.5" r="3.08"/><circle cx="828.5" cy="444.5" r="3.08"/><circle cx="833.5" cy="444.5" r="3.08"/><circle cx="839.5" cy="444.5" r="3.08"/><circle cx="845.5" cy="444.5" r="3.08"/><circle cx="850.5" cy="444.5" r="3.08"/><circle cx="856.5" cy="444.5" r="3.08"/><circle cx="862.5" cy="444.5" r="3.08"/><circle cx="867.5" cy="444.5" r="3.08"/><circle cx="873.5" cy="444.5" r="3.08"/><circle cx="879.5" cy="444.5" r="3.08"/><circle cx="884.5" cy="444.5" r="3.08"/><circle cx="890.5" cy="444.5" r="3.08"/><circle cx="895.5" cy="444.5" r="3.08"/><circle cx="901.5" cy="444.5" r="3.08"/><circle cx="907.5" cy="444.5" r="3.08"/><circle cx="912.5" cy="444.5" r="3.08"/><circle cx="918.5" cy="444.5" r="3.08"/><circle cx="924.5" cy="444.5" r="3.08"/><circle cx="929.5" cy="444.5" r="3.08"/><circle cx="935.5" cy="444.5" r="3.08"/><circle cx="941.5" cy="444.5" r="3.08"/><circle cx="946.5" cy="444.5" r="3.08"/><circle cx="952.5" cy="444.5" r="3.08"/><circle cx="957.5" cy="444.5" r="3.08"/><circle cx="963.5" cy="444.5" r="3.08"/><circle cx="969.5" cy="444.5" r="3.08"/><circle cx="974.5" cy="444.5" r="3.08"/><circle cx="980.5" cy="444.5" r="3.08"/><circle cx="986.5" cy="444.5" r="3.08"/><circle cx="991.5" cy="444.5" r="3.08"/><circle cx="997.5" cy="444.5" r="3.08"/><circle cx="1003.5" cy="444.5" r="3.08"/><circle cx="1008.5" cy="444.5" r="3.08"/><circle cx="1014.5" cy="444.5" r="3.08"/><circle cx="1019.5" cy="444.5" r="3.08"/><circle cx="1025.5" cy="444.5" r="3.08"/><circle cx="1031.5" cy="444.5" r="3.08"/><circle cx="1036.5" cy="444.5" r="3.08"/><circle cx="1042.5" cy="444.5" r="3.08"/><circle cx="1048.5" cy="444.5" r="3.08"/><circle cx="1053.5" cy="444.5" r="3.08"/><circle cx="1059.5" cy="444.5" r="3.08"/><circle cx="1065.5" cy="444.5" r="3.08"/><circle cx="1070.5" cy="444.5" r="3.08"/><circle cx="1076.5" cy="444.5" r="3.08"/><circle cx="1081.5" cy="444.5" r="3.08"/><circle cx="1087.5" cy="444.5" r="3.08"/><circle cx="1093.5" cy="444.5" r="3.08"/><circle cx="1098.5" cy="444.5" r="3.08"/><circle cx="1104.5" cy="444.5" r="3.08"/><circle cx="1110.5" cy="444.5" r="3.08"/><circle cx="1115.5" cy="444.5" r="3.08"/><circle cx="1121.5" cy="444.5" r="3.08"/><circle cx="1127.5" cy="444.5" r="3.08"/><circle cx="1132.5" cy="444.5" r="3.08"/><circle cx="1138.5" cy="444.5" r="3.08"/><circle cx="1143.5" cy="444.5" r="3.08"/><circle cx="1149.5" cy="444.5" r="3.08"/><circle cx="1155.5" cy="444.5" r="3.08"/><circle cx="1160.5" cy="444.5" r="3.08"/><circle cx="1166.5" cy="444.5" r="3.08"/><circle cx="1172.5" cy="444.5" r="3.08"/><circle cx="1177.5" cy="444.5" r="3.08"/><circle cx="1183.5" cy="444.5" r="3.08"/><circle cx="1189.5" cy="444.5" r="3.08"/><circle cx="738.5" cy="436.5" r="3.08"/><circle cx="743.5" cy="436.5" r="3.08"/><circle cx="749.5" cy="436.5" r="3.08"/><circle cx="755.5" cy="436.5" r="3.08"/><circle cx="760.5" cy="436.5" r="3.08"/><circle cx="766.5" cy="436.5" r="3.08"/><circle cx="771.5" cy="436.5" r="3.08"/><circle cx="777.5" cy="436.5" r="3.08"/><circle cx="783.5" cy="436.5" r="3.08"/><circle cx="788.5" cy="436.5" r="3.08"/><circle cx="794.5" cy="436.5" r="3.08"/><circle cx="800.5" cy="436.5" r="3.08"/><circle cx="805.5" cy="436.5" r="3.08"/><circle cx="811.5" cy="436.5" r="3.08"/><circle cx="817.5" cy="436.5" r="3.08"/><circle cx="822.5" cy="436.5" r="3.08"/><circle cx="828.5" cy="436.5" r="3.08"/><circle cx="833.5" cy="436.5" r="3.08"/><circle cx="839.5" cy="436.5" r="3.08"/><circle cx="845.5" cy="436.5" r="3.08"/><circle cx="850.5" cy="436.5" r="3.08"/><circle cx="856.5" cy="436.5" r="3.08"/><circle cx="862.5" cy="436.5" r="3.08"/><circle cx="867.5" cy="436.5" r="3.08"/><circle cx="873.5" cy="436.5" r="3.08"/><circle cx="879.5" cy="436.5" r="3.08"/><circle cx="884.5" cy="436.5" r="3.08"/><circle cx="890.5" cy="436.5" r="3.08"/><circle cx="895.5" cy="436.5" r="3.08"/><circle cx="901.5" cy="436.5" r="3.08"/><circle cx="907.5" cy="436.5" r="3.08"/><circle cx="912.5" cy="436.5" r="3.08"/><circle cx="918.5" cy="436.5" r="3.08"/><circle cx="924.5" cy="436.5" r="3.08"/><circle cx="929.5" cy="436.5" r="3.08"/><circle cx="935.5" cy="436.5" r="3.08"/><circle cx="941.5" cy="436.5" r="3.08"/><circle cx="946.5" cy="436.5" r="3.08"/><circle cx="952.5" cy="436.5" r="3.08"/><circle cx="957.5" cy="436.5" r="3.08"/><circle cx="963.5" cy="436.5" r="3.08"/><circle cx="969.5" cy="436.5" r="3.08"/><circle cx="974.5" cy="436.5" r="3.08"/><circle cx="980.5" cy="436.5" r="3.08"/><circle cx="986.5" cy="436.5" r="3.08"/><circle cx="991.5" cy="436.5" r="3.08"/><circle cx="997.5" cy="436.5" r="3.08"/><circle cx="1003.5" cy="436.5" r="3.08"/><circle cx="1008.5" cy="436.5" r="3.08"/><circle cx="1014.5" cy="436.5" r="3.08"/><circle cx="1019.5" cy="436.5" r="3.08"/><circle cx="1025.5" cy="436.5" r="3.08"/><circle cx="1031.5" cy="436.5" r="3.08"/><circle cx="1036.5" cy="436.5" r="3.08"/><circle cx="1042.5" cy="436.5" r="3.08"/><circle cx="1048.5" cy="436.5" r="3.08"/><circle cx="1053.5" cy="436.5" r="3.08"/><circle cx="1059.5" cy="436.5" r="3.08"/><circle cx="1065.5" cy="436.5" r="3.08"/><circle cx="1070.5" cy="436.5" r="3.08"/><circle cx="1076.5" cy="436.5" r="3.08"/><circle cx="1081.5" cy="436.5" r="3.08"/><circle cx="1087.5" cy="436.5" r="3.08"/><circle cx="1093.5" cy="436.5" r="3.08"/><circle cx="1098.5" cy="436.5" r="3.08"/><circle cx="1104.5" cy="436.5" r="3.08"/><circle cx="1110.5" cy="436.5" r="3.08"/><circle cx="1115.5" cy="436.5" r="3.08"/><circle cx="1121.5" cy="436.5" r="3.08"/><circle cx="1127.5" cy="436.5" r="3.08"/><circle cx="1132.5" cy="436.5" r="3.08"/><circle cx="1138.5" cy="436.5" r="3.08"/><circle cx="1143.5" cy="436.5" r="3.08"/><circle cx="1149.5" cy="436.5" r="3.08"/><circle cx="1155.5" cy="436.5" r="3.08"/><circle cx="1160.5" cy="436.5" r="3.08"/><circle cx="1166.5" cy="436.5" r="3.08"/><circle cx="1172.5" cy="436.5" r="3.08"/><circle cx="1177.5" cy="436.5" r="3.08"/><circle cx="1183.5" cy="436.5" r="3.08"/><circle cx="1189.5" cy="436.5" r="3.08"/><circle cx="738.5" cy="428.5" r="3.08"/><circle cx="743.5" cy="428.5" r="3.08"/><circle cx="749.5" cy="428.5" r="3.08"/><circle cx="755.5" cy="428.5" r="3.08"/><circle cx="760.5" cy="428.5" r="3.08"/><circle cx="766.5" cy="428.5" r="3.08"/><circle cx="771.5" cy="428.5" r="3.08"/><circle cx="777.5" cy="428.5" r="3.08"/><circle cx="783.5" cy="428.5" r="3.08"/><circle cx="788.5" cy="428.5" r="3.08"/><circle cx="794.5" cy="428.5" r="3.08"/><circle cx="800.5" cy="428.5" r="3.08"/><circle cx="805.5" cy="428.5" r="3.08"/><circle cx="811.5" cy="428.5" r="3.08"/><circle cx="817.5" cy="428.5" r="3.08"/><circle cx="822.5" cy="428.5" r="3.08"/><circle cx="828.5" cy="428.5" r="3.08"/><circle cx="833.5" cy="428.5" r="3.08"/><circle cx="839.5" cy="428.5" r="3.08"/><circle cx="845.5" cy="428.5" r="3.08"/><circle cx="850.5" cy="428.5" r="3.08"/><circle cx="856.5" cy="428.5" r="3.08"/><circle cx="862.5" cy="428.5" r="3.08"/><circle cx="867.5" cy="428.5" r="3.08"/><circle cx="873.5" cy="428.5" r="3.08"/><circle cx="879.5" cy="428.5" r="3.08"/><circle cx="884.5" cy="428.5" r="3.08"/><circle cx="890.5" cy="428.5" r="3.08"/><circle cx="895.5" cy="428.5" r="3.08"/><circle cx="901.5" cy="428.5" r="3.08"/><circle cx="907.5" cy="428.5" r="3.08"/><circle cx="912.5" cy="428.5" r="3.08"/><circle cx="918.5" cy="428.5" r="3.08"/><circle cx="924.5" cy="428.5" r="3.08"/><circle cx="929.5" cy="428.5" r="3.08"/><circle cx="935.5" cy="428.5" r="3.08"/><circle cx="941.5" cy="428.5" r="3.08"/><circle cx="946.5" cy="428.5" r="3.08"/><circle cx="952.5" cy="428.5" r="3.08"/><circle cx="957.5" cy="428.5" r="3.08"/><circle cx="963.5" cy="428.5" r="3.08"/><circle cx="969.5" cy="428.5" r="3.08"/><circle cx="974.5" cy="428.5" r="3.08"/><circle cx="980.5" cy="428.5" r="3.08"/><circle cx="986.5" cy="428.5" r="3.08"/><circle cx="991.5" cy="428.5" r="3.08"/><circle cx="997.5" cy="428.5" r="3.08"/><circle cx="1003.5" cy="428.5" r="3.08"/><circle cx="1008.5" cy="428.5" r="3.08"/><circle cx="1014.5" cy="428.5" r="3.08"/><circle cx="1019.5" cy="428.5" r="3.08"/><circle cx="1025.5" cy="428.5" r="3.08"/><circle cx="1031.5" cy="428.5" r="3.08"/><circle cx="1036.5" cy="428.5" r="3.08"/><circle cx="1042.5" cy="428.5" r="3.08"/><circle cx="1048.5" cy="428.5" r="3.08"/><circle cx="1053.5" cy="428.5" r="3.08"/><circle cx="1059.5" cy="428.5" r="3.08"/><circle cx="1065.5" cy="428.5" r="3.08"/><circle cx="1070.5" cy="428.5" r="3.08"/><circle cx="1076.5" cy="428.5" r="3.08"/><circle cx="1081.5" cy="428.5" r="3.08"/><circle cx="1087.5" cy="428.5" r="3.08"/><circle cx="1093.5" cy="428.5" r="3.08"/><circle cx="1098.5" cy="428.5" r="3.08"/><circle cx="1104.5" cy="428.5" r="3.08"/><circle cx="1110.5" cy="428.5" r="3.08"/><circle cx="1115.5" cy="428.5" r="3.08"/><circle cx="1121.5" cy="428.5" r="3.08"/><circle cx="1127.5" cy="428.5" r="3.08"/><circle cx="1132.5" cy="428.5" r="3.08"/><circle cx="1138.5" cy="428.5" r="3.08"/><circle cx="1143.5" cy="428.5" r="3.08"/><circle cx="1149.5" cy="428.5" r="3.08"/><circle cx="1155.5" cy="428.5" r="3.08"/><circle cx="1160.5" cy="428.5" r="3.08"/><circle cx="1166.5" cy="428.5" r="3.08"/><circle cx="1172.5" cy="428.5" r="3.08"/><circle cx="1177.5" cy="428.5" r="3.08"/><circle cx="1183.5" cy="428.5" r="3.08"/><circle cx="1189.5" cy="428.5" r="3.08"/><circle cx="738.5" cy="421.5" r="3.08"/><circle cx="743.5" cy="421.5" r="3.08"/><circle cx="749.5" cy="421.5" r="3.08"/><circle cx="755.5" cy="421.5" r="3.08"/><circle cx="760.5" cy="421.5" r="3.08"/><circle cx="766.5" cy="421.5" r="3.08"/><circle cx="771.5" cy="421.5" r="3.08"/><circle cx="777.5" cy="421.5" r="3.08"/><circle cx="783.5" cy="421.5" r="3.08"/><circle cx="788.5" cy="421.5" r="3.08"/><circle cx="794.5" cy="421.5" r="3.08"/><circle cx="800.5" cy="421.5" r="3.08"/><circle cx="805.5" cy="421.5" r="3.08"/><circle cx="811.5" cy="421.5" r="3.08"/><circle cx="817.5" cy="421.5" r="3.08"/><circle cx="822.5" cy="421.5" r="3.08"/><circle cx="828.5" cy="421.5" r="3.08"/><circle cx="833.5" cy="421.5" r="3.08"/><circle cx="839.5" cy="421.5" r="3.08"/><circle cx="845.5" cy="421.5" r="3.08"/><circle cx="850.5" cy="421.5" r="3.08"/><circle cx="856.5" cy="421.5" r="3.08"/><circle cx="862.5" cy="421.5" r="3.08"/><circle cx="867.5" cy="421.5" r="3.08"/><circle cx="873.5" cy="421.5" r="3.08"/><circle cx="879.5" cy="421.5" r="3.08"/><circle cx="884.5" cy="421.5" r="3.08"/><circle cx="890.5" cy="421.5" r="3.08"/><circle cx="895.5" cy="421.5" r="3.08"/><circle cx="901.5" cy="421.5" r="3.08"/><circle cx="907.5" cy="421.5" r="3.08"/><circle cx="912.5" cy="421.5" r="3.08"/><circle cx="918.5" cy="421.5" r="3.08"/><circle cx="924.5" cy="421.5" r="3.08"/><circle cx="929.5" cy="421.5" r="3.08"/><circle cx="935.5" cy="421.5" r="3.08"/><circle cx="941.5" cy="421.5" r="3.08"/><circle cx="946.5" cy="421.5" r="3.08"/><circle cx="952.5" cy="421.5" r="3.08"/><circle cx="957.5" cy="421.5" r="3.08"/><circle cx="963.5" cy="421.5" r="3.08"/><circle cx="969.5" cy="421.5" r="3.08"/><circle cx="974.5" cy="421.5" r="3.08"/><circle cx="980.5" cy="421.5" r="3.08"/><circle cx="986.5" cy="421.5" r="3.08"/><circle cx="991.5" cy="421.5" r="3.08"/><circle cx="997.5" cy="421.5" r="3.08"/><circle cx="1003.5" cy="421.5" r="3.08"/><circle cx="1008.5" cy="421.5" r="3.08"/><circle cx="1014.5" cy="421.5" r="3.08"/><circle cx="1019.5" cy="421.5" r="3.08"/><circle cx="1025.5" cy="421.5" r="3.08"/><circle cx="1031.5" cy="421.5" r="3.08"/><circle cx="1036.5" cy="421.5" r="3.08"/><circle cx="1042.5" cy="421.5" r="3.08"/><circle cx="1048.5" cy="421.5" r="3.08"/><circle cx="1053.5" cy="421.5" r="3.08"/><circle cx="1059.5" cy="421.5" r="3.08"/><circle cx="1065.5" cy="421.5" r="3.08"/><circle cx="1070.5" cy="421.5" r="3.08"/><circle cx="1076.5" cy="421.5" r="3.08"/><circle cx="1081.5" cy="421.5" r="3.08"/><circle cx="1087.5" cy="421.5" r="3.08"/><circle cx="1093.5" cy="421.5" r="3.08"/><circle cx="1098.5" cy="421.5" r="3.08"/><circle cx="1104.5" cy="421.5" r="3.08"/><circle cx="1110.5" cy="421.5" r="3.08"/><circle cx="1115.5" cy="421.5" r="3.08"/><circle cx="1121.5" cy="421.5" r="3.08"/><circle cx="1127.5" cy="421.5" r="3.08"/><circle cx="1132.5" cy="421.5" r="3.08"/><circle cx="1138.5" cy="421.5" r="3.08"/><circle cx="1143.5" cy="421.5" r="3.08"/><circle cx="1149.5" cy="421.5" r="3.08"/><circle cx="1155.5" cy="421.5" r="3.08"/><circle cx="1160.5" cy="421.5" r="3.08"/><circle cx="1166.5" cy="421.5" r="3.08"/><circle cx="1172.5" cy="421.5" r="3.08"/><circle cx="1177.5" cy="421.5" r="3.08"/><circle cx="1183.5" cy="421.5" r="3.08"/><circle cx="1189.5" cy="421.5" r="3.08"/><circle cx="738.5" cy="413.5" r="3.08"/><circle cx="743.5" cy="413.5" r="3.08"/><circle cx="749.5" cy="413.5" r="3.08"/><circle cx="755.5" cy="413.5" r="3.08"/><circle cx="760.5" cy="413.5" r="3.08"/><circle cx="766.5" cy="413.5" r="3.08"/><circle cx="771.5" cy="413.5" r="3.08"/><circle cx="777.5" cy="413.5" r="3.08"/><circle cx="783.5" cy="413.5" r="3.08"/><circle cx="788.5" cy="413.5" r="3.08"/><circle cx="794.5" cy="413.5" r="3.08"/><circle cx="800.5" cy="413.5" r="3.08"/><circle cx="805.5" cy="413.5" r="3.08"/><circle cx="811.5" cy="413.5" r="3.08"/><circle cx="817.5" cy="413.5" r="3.08"/><circle cx="822.5" cy="413.5" r="3.08"/><circle cx="828.5" cy="413.5" r="3.08"/><circle cx="833.5" cy="413.5" r="3.08"/><circle cx="839.5" cy="413.5" r="3.08"/><circle cx="845.5" cy="413.5" r="3.08"/><circle cx="850.5" cy="413.5" r="3.08"/><circle cx="856.5" cy="413.5" r="3.08"/><circle cx="862.5" cy="413.5" r="3.08"/><circle cx="867.5" cy="413.5" r="3.08"/><circle cx="873.5" cy="413.5" r="3.08"/><circle cx="879.5" cy="413.5" r="3.08"/><circle cx="884.5" cy="413.5" r="3.08"/><circle cx="890.5" cy="413.5" r="3.08"/><circle cx="895.5" cy="413.5" r="3.08"/><circle cx="901.5" cy="413.5" r="3.08"/><circle cx="907.5" cy="413.5" r="3.08"/><circle cx="912.5" cy="413.5" r="3.08"/><circle cx="918.5" cy="413.5" r="3.08"/><circle cx="924.5" cy="413.5" r="3.08"/><circle cx="929.5" cy="413.5" r="3.08"/><circle cx="935.5" cy="413.5" r="3.08"/><circle cx="941.5" cy="413.5" r="3.08"/><circle cx="946.5" cy="413.5" r="3.08"/><circle cx="952.5" cy="413.5" r="3.08"/><circle cx="957.5" cy="413.5" r="3.08"/><circle cx="963.5" cy="413.5" r="3.08"/><circle cx="969.5" cy="413.5" r="3.08"/><circle cx="974.5" cy="413.5" r="3.08"/><circle cx="980.5" cy="413.5" r="3.08"/><circle cx="986.5" cy="413.5" r="3.08"/><circle cx="991.5" cy="413.5" r="3.08"/><circle cx="997.5" cy="413.5" r="3.08"/><circle cx="1003.5" cy="413.5" r="3.08"/><circle cx="1008.5" cy="413.5" r="3.08"/><circle cx="1014.5" cy="413.5" r="3.08"/><circle cx="1019.5" cy="413.5" r="3.08"/><circle cx="1025.5" cy="413.5" r="3.08"/><circle cx="1031.5" cy="413.5" r="3.08"/><circle cx="1036.5" cy="413.5" r="3.08"/><circle cx="1042.5" cy="413.5" r="3.08"/><circle cx="1048.5" cy="413.5" r="3.08"/><circle cx="1053.5" cy="413.5" r="3.08"/><circle cx="1059.5" cy="413.5" r="3.08"/><circle cx="1065.5" cy="413.5" r="3.08"/><circle cx="1070.5" cy="413.5" r="3.08"/><circle cx="1076.5" cy="413.5" r="3.08"/><circle cx="1081.5" cy="413.5" r="3.08"/><circle cx="1087.5" cy="413.5" r="3.08"/><circle cx="1093.5" cy="413.5" r="3.08"/><circle cx="1098.5" cy="413.5" r="3.08"/><circle cx="1104.5" cy="413.5" r="3.08"/><circle cx="1110.5" cy="413.5" r="3.08"/><circle cx="1115.5" cy="413.5" r="3.08"/><circle cx="1121.5" cy="413.5" r="3.08"/><circle cx="1127.5" cy="413.5" r="3.08"/><circle cx="1132.5" cy="413.5" r="3.08"/><circle cx="1138.5" cy="413.5" r="3.08"/><circle cx="1143.5" cy="413.5" r="3.08"/><circle cx="1149.5" cy="413.5" r="3.08"/><circle cx="1155.5" cy="413.5" r="3.08"/><circle cx="1160.5" cy="413.5" r="3.08"/><circle cx="1166.5" cy="413.5" r="3.08"/><circle cx="1172.5" cy="413.5" r="3.08"/><circle cx="1177.5" cy="413.5" r="3.08"/><circle cx="1183.5" cy="413.5" r="3.08"/><circle cx="738.5" cy="406.5" r="3.08"/><circle cx="743.5" cy="406.5" r="3.08"/><circle cx="749.5" cy="406.5" r="3.08"/><circle cx="755.5" cy="406.5" r="3.08"/><circle cx="760.5" cy="406.5" r="3.08"/><circle cx="766.5" cy="406.5" r="3.08"/><circle cx="771.5" cy="406.5" r="3.08"/><circle cx="777.5" cy="406.5" r="3.08"/><circle cx="783.5" cy="406.5" r="3.08"/><circle cx="788.5" cy="406.5" r="3.08"/><circle cx="794.5" cy="406.5" r="3.08"/><circle cx="800.5" cy="406.5" r="3.08"/><circle cx="805.5" cy="406.5" r="3.08"/><circle cx="811.5" cy="406.5" r="3.08"/><circle cx="817.5" cy="406.5" r="3.08"/><circle cx="822.5" cy="406.5" r="3.08"/><circle cx="828.5" cy="406.5" r="3.08"/><circle cx="833.5" cy="406.5" r="3.08"/><circle cx="839.5" cy="406.5" r="3.08"/><circle cx="845.5" cy="406.5" r="3.08"/><circle cx="850.5" cy="406.5" r="3.08"/><circle cx="856.5" cy="406.5" r="3.08"/><circle cx="862.5" cy="406.5" r="3.08"/><circle cx="867.5" cy="406.5" r="3.08"/><circle cx="873.5" cy="406.5" r="3.08"/><circle cx="879.5" cy="406.5" r="3.08"/><circle cx="884.5" cy="406.5" r="3.08"/><circle cx="890.5" cy="406.5" r="3.08"/><circle cx="895.5" cy="406.5" r="3.08"/><circle cx="901.5" cy="406.5" r="3.08"/><circle cx="907.5" cy="406.5" r="3.08"/><circle cx="912.5" cy="406.5" r="3.08"/><circle cx="918.5" cy="406.5" r="3.08"/><circle cx="924.5" cy="406.5" r="3.08"/><circle cx="929.5" cy="406.5" r="3.08"/><circle cx="935.5" cy="406.5" r="3.08"/><circle cx="941.5" cy="406.5" r="3.08"/><circle cx="946.5" cy="406.5" r="3.08"/><circle cx="952.5" cy="406.5" r="3.08"/><circle cx="957.5" cy="406.5" r="3.08"/><circle cx="963.5" cy="406.5" r="3.08"/><circle cx="969.5" cy="406.5" r="3.08"/><circle cx="974.5" cy="406.5" r="3.08"/><circle cx="980.5" cy="406.5" r="3.08"/><circle cx="986.5" cy="406.5" r="3.08"/><circle cx="991.5" cy="406.5" r="3.08"/><circle cx="997.5" cy="406.5" r="3.08"/><circle cx="1003.5" cy="406.5" r="3.08"/><circle cx="1008.5" cy="406.5" r="3.08"/><circle cx="1014.5" cy="406.5" r="3.08"/><circle cx="1019.5" cy="406.5" r="3.08"/><circle cx="1025.5" cy="406.5" r="3.08"/><circle cx="1031.5" cy="406.5" r="3.08"/><circle cx="1036.5" cy="406.5" r="3.08"/><circle cx="1042.5" cy="406.5" r="3.08"/><circle cx="1048.5" cy="406.5" r="3.08"/><circle cx="1053.5" cy="406.5" r="3.08"/><circle cx="1059.5" cy="406.5" r="3.08"/><circle cx="1065.5" cy="406.5" r="3.08"/><circle cx="1070.5" cy="406.5" r="3.08"/><circle cx="1076.5" cy="406.5" r="3.08"/><circle cx="1081.5" cy="406.5" r="3.08"/><circle cx="1087.5" cy="406.5" r="3.08"/><circle cx="1093.5" cy="406.5" r="3.08"/><circle cx="1098.5" cy="406.5" r="3.08"/><circle cx="1104.5" cy="406.5" r="3.08"/><circle cx="1110.5" cy="406.5" r="3.08"/><circle cx="1115.5" cy="406.5" r="3.08"/><circle cx="1121.5" cy="406.5" r="3.08"/><circle cx="1127.5" cy="406.5" r="3.08"/><circle cx="1132.5" cy="406.5" r="3.08"/><circle cx="1138.5" cy="406.5" r="3.08"/><circle cx="1143.5" cy="406.5" r="3.08"/><circle cx="1149.5" cy="406.5" r="3.08"/><circle cx="1155.5" cy="406.5" r="3.08"/><circle cx="1160.5" cy="406.5" r="3.08"/><circle cx="1166.5" cy="406.5" r="3.08"/><circle cx="1172.5" cy="406.5" r="3.08"/><circle cx="1177.5" cy="406.5" r="3.08"/><circle cx="1183.5" cy="406.5" r="3.08"/><circle cx="738.5" cy="398.5" r="3.08"/><circle cx="743.5" cy="398.5" r="3.08"/><circle cx="749.5" cy="398.5" r="3.08"/><circle cx="755.5" cy="398.5" r="3.08"/><circle cx="760.5" cy="398.5" r="3.08"/><circle cx="766.5" cy="398.5" r="3.08"/><circle cx="771.5" cy="398.5" r="3.08"/><circle cx="777.5" cy="398.5" r="3.08"/><circle cx="783.5" cy="398.5" r="3.08"/><circle cx="788.5" cy="398.5" r="3.08"/><circle cx="794.5" cy="398.5" r="3.08"/><circle cx="800.5" cy="398.5" r="3.08"/><circle cx="805.5" cy="398.5" r="3.08"/><circle cx="811.5" cy="398.5" r="3.08"/><circle cx="817.5" cy="398.5" r="3.08"/><circle cx="822.5" cy="398.5" r="3.08"/><circle cx="828.5" cy="398.5" r="3.08"/><circle cx="833.5" cy="398.5" r="3.08"/><circle cx="839.5" cy="398.5" r="3.08"/><circle cx="845.5" cy="398.5" r="3.08"/><circle cx="850.5" cy="398.5" r="3.08"/><circle cx="856.5" cy="398.5" r="3.08"/><circle cx="862.5" cy="398.5" r="3.08"/><circle cx="867.5" cy="398.5" r="3.08"/><circle cx="873.5" cy="398.5" r="3.08"/><circle cx="879.5" cy="398.5" r="3.08"/><circle cx="884.5" cy="398.5" r="3.08"/><circle cx="890.5" cy="398.5" r="3.08"/><circle cx="895.5" cy="398.5" r="3.08"/><circle cx="901.5" cy="398.5" r="3.08"/><circle cx="907.5" cy="398.5" r="3.08"/><circle cx="912.5" cy="398.5" r="3.08"/><circle cx="918.5" cy="398.5" r="3.08"/><circle cx="924.5" cy="398.5" r="3.08"/><circle cx="929.5" cy="398.5" r="3.08"/><circle cx="935.5" cy="398.5" r="3.08"/><circle cx="941.5" cy="398.5" r="3.08"/><circle cx="946.5" cy="398.5" r="3.08"/><circle cx="952.5" cy="398.5" r="3.08"/><circle cx="957.5" cy="398.5" r="3.08"/><circle cx="963.5" cy="398.5" r="3.08"/><circle cx="969.5" cy="398.5" r="3.08"/><circle cx="974.5" cy="398.5" r="3.08"/><circle cx="980.5" cy="398.5" r="3.08"/><circle cx="986.5" cy="398.5" r="3.08"/><circle cx="991.5" cy="398.5" r="3.08"/><circle cx="997.5" cy="398.5" r="3.08"/><circle cx="1003.5" cy="398.5" r="3.08"/><circle cx="1008.5" cy="398.5" r="3.08"/><circle cx="1014.5" cy="398.5" r="3.08"/><circle cx="1019.5" cy="398.5" r="3.08"/><circle cx="1025.5" cy="398.5" r="3.08"/><circle cx="1031.5" cy="398.5" r="3.08"/><circle cx="1036.5" cy="398.5" r="3.08"/><circle cx="1042.5" cy="398.5" r="3.08"/><circle cx="1048.5" cy="398.5" r="3.08"/><circle cx="1053.5" cy="398.5" r="3.08"/><circle cx="1059.5" cy="398.5" r="3.08"/><circle cx="1065.5" cy="398.5" r="3.08"/><circle cx="1070.5" cy="398.5" r="3.08"/><circle cx="1076.5" cy="398.5" r="3.08"/><circle cx="1081.5" cy="398.5" r="3.08"/><circle cx="1087.5" cy="398.5" r="3.08"/><circle cx="1093.5" cy="398.5" r="3.08"/><circle cx="1098.5" cy="398.5" r="3.08"/><circle cx="1104.5" cy="398.5" r="3.08"/><circle cx="1110.5" cy="398.5" r="3.08"/><circle cx="1115.5" cy="398.5" r="3.08"/><circle cx="1121.5" cy="398.5" r="3.08"/><circle cx="1127.5" cy="398.5" r="3.08"/><circle cx="1132.5" cy="398.5" r="3.08"/><circle cx="1138.5" cy="398.5" r="3.08"/><circle cx="1143.5" cy="398.5" r="3.08"/><circle cx="1149.5" cy="398.5" r="3.08"/><circle cx="1155.5" cy="398.5" r="3.08"/><circle cx="1160.5" cy="398.5" r="3.08"/><circle cx="1166.5" cy="398.5" r="3.08"/><circle cx="1172.5" cy="398.5" r="3.08"/><circle cx="1177.5" cy="398.5" r="3.08"/><circle cx="1183.5" cy="398.5" r="3.08"/><circle cx="738.5" cy="390.5" r="3.08"/><circle cx="743.5" cy="390.5" r="3.08"/><circle cx="749.5" cy="390.5" r="3.08"/><circle cx="755.5" cy="390.5" r="3.08"/><circle cx="760.5" cy="390.5" r="3.08"/><circle cx="766.5" cy="390.5" r="3.08"/><circle cx="771.5" cy="390.5" r="3.08"/><circle cx="777.5" cy="390.5" r="3.08"/><circle cx="783.5" cy="390.5" r="3.08"/><circle cx="788.5" cy="390.5" r="3.08"/><circle cx="794.5" cy="390.5" r="3.08"/><circle cx="800.5" cy="390.5" r="3.08"/><circle cx="805.5" cy="390.5" r="3.08"/><circle cx="811.5" cy="390.5" r="3.08"/><circle cx="817.5" cy="390.5" r="3.08"/><circle cx="822.5" cy="390.5" r="3.08"/><circle cx="828.5" cy="390.5" r="3.08"/><circle cx="833.5" cy="390.5" r="3.08"/><circle cx="839.5" cy="390.5" r="3.08"/><circle cx="845.5" cy="390.5" r="3.08"/><circle cx="850.5" cy="390.5" r="3.08"/><circle cx="856.5" cy="390.5" r="3.08"/><circle cx="862.5" cy="390.5" r="3.08"/><circle cx="867.5" cy="390.5" r="3.08"/><circle cx="873.5" cy="390.5" r="3.08"/><circle cx="879.5" cy="390.5" r="3.08"/><circle cx="884.5" cy="390.5" r="3.08"/><circle cx="890.5" cy="390.5" r="3.08"/><circle cx="895.5" cy="390.5" r="3.08"/><circle cx="901.5" cy="390.5" r="3.08"/><circle cx="907.5" cy="390.5" r="3.08"/><circle cx="912.5" cy="390.5" r="3.08"/><circle cx="918.5" cy="390.5" r="3.08"/><circle cx="924.5" cy="390.5" r="3.08"/><circle cx="929.5" cy="390.5" r="3.08"/><circle cx="935.5" cy="390.5" r="3.08"/><circle cx="941.5" cy="390.5" r="3.08"/><circle cx="946.5" cy="390.5" r="3.08"/><circle cx="952.5" cy="390.5" r="3.08"/><circle cx="957.5" cy="390.5" r="3.08"/><circle cx="963.5" cy="390.5" r="3.08"/><circle cx="969.5" cy="390.5" r="3.08"/><circle cx="974.5" cy="390.5" r="3.08"/><circle cx="980.5" cy="390.5" r="3.08"/><circle cx="986.5" cy="390.5" r="3.08"/><circle cx="991.5" cy="390.5" r="3.08"/><circle cx="997.5" cy="390.5" r="3.08"/><circle cx="1003.5" cy="390.5" r="3.08"/><circle cx="1008.5" cy="390.5" r="3.08"/><circle cx="1014.5" cy="390.5" r="3.08"/><circle cx="1019.5" cy="390.5" r="3.08"/><circle cx="1025.5" cy="390.5" r="3.08"/><circle cx="1031.5" cy="390.5" r="3.08"/><circle cx="1036.5" cy="390.5" r="3.08"/><circle cx="1042.5" cy="390.5" r="3.08"/><circle cx="1048.5" cy="390.5" r="3.08"/><circle cx="1053.5" cy="390.5" r="3.08"/><circle cx="1059.5" cy="390.5" r="3.08"/><circle cx="1065.5" cy="390.5" r="3.08"/><circle cx="1070.5" cy="390.5" r="3.08"/><circle cx="1076.5" cy="390.5" r="3.08"/><circle cx="1081.5" cy="390.5" r="3.08"/><circle cx="1087.5" cy="390.5" r="3.08"/><circle cx="1093.5" cy="390.5" r="3.08"/><circle cx="1098.5" cy="390.5" r="3.08"/><circle cx="1104.5" cy="390.5" r="3.08"/><circle cx="1110.5" cy="390.5" r="3.08"/><circle cx="1115.5" cy="390.5" r="3.08"/><circle cx="1121.5" cy="390.5" r="3.08"/><circle cx="1127.5" cy="390.5" r="3.08"/><circle cx="1132.5" cy="390.5" r="3.08"/><circle cx="1138.5" cy="390.5" r="3.08"/><circle cx="1143.5" cy="390.5" r="3.08"/><circle cx="1149.5" cy="390.5" r="3.08"/><circle cx="1155.5" cy="390.5" r="3.08"/><circle cx="1160.5" cy="390.5" r="3.08"/><circle cx="1166.5" cy="390.5" r="3.08"/><circle cx="1172.5" cy="390.5" r="3.08"/><circle cx="1177.5" cy="390.5" r="3.08"/><circle cx="1183.5" cy="390.5" r="3.08"/><circle cx="738.5" cy="383.5" r="3.08"/><circle cx="743.5" cy="383.5" r="3.08"/><circle cx="749.5" cy="383.5" r="3.08"/><circle cx="755.5" cy="383.5" r="3.08"/><circle cx="760.5" cy="383.5" r="3.08"/><circle cx="766.5" cy="383.5" r="3.08"/><circle cx="771.5" cy="383.5" r="3.08"/><circle cx="777.5" cy="383.5" r="3.08"/><circle cx="783.5" cy="383.5" r="3.08"/><circle cx="788.5" cy="383.5" r="3.08"/><circle cx="794.5" cy="383.5" r="3.08"/><circle cx="800.5" cy="383.5" r="3.08"/><circle cx="805.5" cy="383.5" r="3.08"/><circle cx="811.5" cy="383.5" r="3.08"/><circle cx="817.5" cy="383.5" r="3.08"/><circle cx="822.5" cy="383.5" r="3.08"/><circle cx="828.5" cy="383.5" r="3.08"/><circle cx="833.5" cy="383.5" r="3.08"/><circle cx="839.5" cy="383.5" r="3.08"/><circle cx="845.5" cy="383.5" r="3.08"/><circle cx="850.5" cy="383.5" r="3.08"/><circle cx="856.5" cy="383.5" r="3.08"/><circle cx="862.5" cy="383.5" r="3.08"/><circle cx="867.5" cy="383.5" r="3.08"/><circle cx="873.5" cy="383.5" r="3.08"/><circle cx="879.5" cy="383.5" r="3.08"/><circle cx="884.5" cy="383.5" r="3.08"/><circle cx="890.5" cy="383.5" r="3.08"/><circle cx="895.5" cy="383.5" r="3.08"/><circle cx="901.5" cy="383.5" r="3.08"/><circle cx="907.5" cy="383.5" r="3.08"/><circle cx="912.5" cy="383.5" r="3.08"/><circle cx="918.5" cy="383.5" r="3.08"/><circle cx="924.5" cy="383.5" r="3.08"/><circle cx="929.5" cy="383.5" r="3.08"/><circle cx="935.5" cy="383.5" r="3.08"/><circle cx="941.5" cy="383.5" r="3.08"/><circle cx="946.5" cy="383.5" r="3.08"/><circle cx="952.5" cy="383.5" r="3.08"/><circle cx="957.5" cy="383.5" r="3.08"/><circle cx="963.5" cy="383.5" r="3.08"/><circle cx="969.5" cy="383.5" r="3.08"/><circle cx="974.5" cy="383.5" r="3.08"/><circle cx="980.5" cy="383.5" r="3.08"/><circle cx="986.5" cy="383.5" r="3.08"/><circle cx="991.5" cy="383.5" r="3.08"/><circle cx="997.5" cy="383.5" r="3.08"/><circle cx="1003.5" cy="383.5" r="3.08"/><circle cx="1008.5" cy="383.5" r="3.08"/><circle cx="1014.5" cy="383.5" r="3.08"/><circle cx="1019.5" cy="383.5" r="3.08"/><circle cx="1025.5" cy="383.5" r="3.08"/><circle cx="1031.5" cy="383.5" r="3.08"/><circle cx="1036.5" cy="383.5" r="3.08"/><circle cx="1042.5" cy="383.5" r="3.08"/><circle cx="1048.5" cy="383.5" r="3.08"/><circle cx="1053.5" cy="383.5" r="3.08"/><circle cx="1059.5" cy="383.5" r="3.08"/><circle cx="1065.5" cy="383.5" r="3.08"/><circle cx="1070.5" cy="383.5" r="3.08"/><circle cx="1076.5" cy="383.5" r="3.08"/><circle cx="1081.5" cy="383.5" r="3.08"/><circle cx="1087.5" cy="383.5" r="3.08"/><circle cx="1093.5" cy="383.5" r="3.08"/><circle cx="1098.5" cy="383.5" r="3.08"/><circle cx="1104.5" cy="383.5" r="3.08"/><circle cx="1110.5" cy="383.5" r="3.08"/><circle cx="1115.5" cy="383.5" r="3.08"/><circle cx="1121.5" cy="383.5" r="3.08"/><circle cx="1127.5" cy="383.5" r="3.08"/><circle cx="1132.5" cy="383.5" r="3.08"/><circle cx="1138.5" cy="383.5" r="3.08"/><circle cx="1143.5" cy="383.5" r="3.08"/><circle cx="1149.5" cy="383.5" r="3.08"/><circle cx="1155.5" cy="383.5" r="3.08"/><circle cx="1160.5" cy="383.5" r="3.08"/><circle cx="1166.5" cy="383.5" r="3.08"/><circle cx="1172.5" cy="383.5" r="3.08"/><circle cx="1177.5" cy="383.5" r="3.08"/><circle cx="738.5" cy="375.5" r="3.08"/><circle cx="743.5" cy="375.5" r="3.08"/><circle cx="749.5" cy="375.5" r="3.08"/><circle cx="755.5" cy="375.5" r="3.08"/><circle cx="760.5" cy="375.5" r="3.08"/><circle cx="766.5" cy="375.5" r="3.08"/><circle cx="771.5" cy="375.5" r="3.08"/><circle cx="777.5" cy="375.5" r="3.08"/><circle cx="783.5" cy="375.5" r="3.08"/><circle cx="788.5" cy="375.5" r="3.08"/><circle cx="794.5" cy="375.5" r="3.08"/><circle cx="800.5" cy="375.5" r="3.08"/><circle cx="805.5" cy="375.5" r="3.08"/><circle cx="811.5" cy="375.5" r="3.08"/><circle cx="817.5" cy="375.5" r="3.08"/><circle cx="822.5" cy="375.5" r="3.08"/><circle cx="828.5" cy="375.5" r="3.08"/><circle cx="833.5" cy="375.5" r="3.08"/><circle cx="839.5" cy="375.5" r="3.08"/><circle cx="845.5" cy="375.5" r="3.08"/><circle cx="850.5" cy="375.5" r="3.08"/><circle cx="856.5" cy="375.5" r="3.08"/><circle cx="862.5" cy="375.5" r="3.08"/><circle cx="867.5" cy="375.5" r="3.08"/><circle cx="873.5" cy="375.5" r="3.08"/><circle cx="879.5" cy="375.5" r="3.08"/><circle cx="884.5" cy="375.5" r="3.08"/><circle cx="890.5" cy="375.5" r="3.08"/><circle cx="895.5" cy="375.5" r="3.08"/><circle cx="901.5" cy="375.5" r="3.08"/><circle cx="907.5" cy="375.5" r="3.08"/><circle cx="912.5" cy="375.5" r="3.08"/><circle cx="918.5" cy="375.5" r="3.08"/><circle cx="924.5" cy="375.5" r="3.08"/><circle cx="929.5" cy="375.5" r="3.08"/><circle cx="935.5" cy="375.5" r="3.08"/><circle cx="941.5" cy="375.5" r="3.08"/><circle cx="946.5" cy="375.5" r="3.08"/><circle cx="952.5" cy="375.5" r="3.08"/><circle cx="957.5" cy="375.5" r="3.08"/><circle cx="963.5" cy="375.5" r="3.08"/><circle cx="969.5" cy="375.5" r="3.08"/><circle cx="974.5" cy="375.5" r="3.08"/><circle cx="980.5" cy="375.5" r="3.08"/><circle cx="986.5" cy="375.5" r="3.08"/><circle cx="991.5" cy="375.5" r="3.08"/><circle cx="997.5" cy="375.5" r="3.08"/><circle cx="1003.5" cy="375.5" r="3.08"/><circle cx="1008.5" cy="375.5" r="3.08"/><circle cx="1014.5" cy="375.5" r="3.08"/><circle cx="1019.5" cy="375.5" r="3.08"/><circle cx="1025.5" cy="375.5" r="3.08"/><circle cx="1031.5" cy="375.5" r="3.08"/><circle cx="1036.5" cy="375.5" r="3.08"/><circle cx="1042.5" cy="375.5" r="3.08"/><circle cx="1048.5" cy="375.5" r="3.08"/><circle cx="1053.5" cy="375.5" r="3.08"/><circle cx="1059.5" cy="375.5" r="3.08"/><circle cx="1065.5" cy="375.5" r="3.08"/><circle cx="1070.5" cy="375.5" r="3.08"/><circle cx="1076.5" cy="375.5" r="3.08"/><circle cx="1081.5" cy="375.5" r="3.08"/><circle cx="1087.5" cy="375.5" r="3.08"/><circle cx="1093.5" cy="375.5" r="3.08"/><circle cx="1098.5" cy="375.5" r="3.08"/><circle cx="1104.5" cy="375.5" r="3.08"/><circle cx="1110.5" cy="375.5" r="3.08"/><circle cx="1115.5" cy="375.5" r="3.08"/><circle cx="1121.5" cy="375.5" r="3.08"/><circle cx="1127.5" cy="375.5" r="3.08"/><circle cx="1132.5" cy="375.5" r="3.08"/><circle cx="1138.5" cy="375.5" r="3.08"/><circle cx="1143.5" cy="375.5" r="3.08"/><circle cx="1149.5" cy="375.5" r="3.08"/><circle cx="1155.5" cy="375.5" r="3.08"/><circle cx="1160.5" cy="375.5" r="3.08"/><circle cx="1166.5" cy="375.5" r="3.08"/><circle cx="1172.5" cy="375.5" r="3.08"/><circle cx="1177.5" cy="375.5" r="3.08"/><circle cx="738.5" cy="368.5" r="3.08"/><circle cx="743.5" cy="368.5" r="3.08"/><circle cx="749.5" cy="368.5" r="3.08"/><circle cx="755.5" cy="368.5" r="3.08"/><circle cx="760.5" cy="368.5" r="3.08"/><circle cx="766.5" cy="368.5" r="3.08"/><circle cx="771.5" cy="368.5" r="3.08"/><circle cx="777.5" cy="368.5" r="3.08"/><circle cx="783.5" cy="368.5" r="3.08"/><circle cx="788.5" cy="368.5" r="3.08"/><circle cx="794.5" cy="368.5" r="3.08"/><circle cx="800.5" cy="368.5" r="3.08"/><circle cx="805.5" cy="368.5" r="3.08"/><circle cx="811.5" cy="368.5" r="3.08"/><circle cx="817.5" cy="368.5" r="3.08"/><circle cx="822.5" cy="368.5" r="3.08"/><circle cx="828.5" cy="368.5" r="3.08"/><circle cx="833.5" cy="368.5" r="3.08"/><circle cx="839.5" cy="368.5" r="3.08"/><circle cx="845.5" cy="368.5" r="3.08"/><circle cx="850.5" cy="368.5" r="3.08"/><circle cx="856.5" cy="368.5" r="3.08"/><circle cx="862.5" cy="368.5" r="3.08"/><circle cx="867.5" cy="368.5" r="3.08"/><circle cx="873.5" cy="368.5" r="3.08"/><circle cx="879.5" cy="368.5" r="3.08"/><circle cx="884.5" cy="368.5" r="3.08"/><circle cx="890.5" cy="368.5" r="3.08"/><circle cx="895.5" cy="368.5" r="3.08"/><circle cx="901.5" cy="368.5" r="3.08"/><circle cx="907.5" cy="368.5" r="3.08"/><circle cx="912.5" cy="368.5" r="3.08"/><circle cx="918.5" cy="368.5" r="3.08"/><circle cx="924.5" cy="368.5" r="3.08"/><circle cx="929.5" cy="368.5" r="3.08"/><circle cx="935.5" cy="368.5" r="3.08"/><circle cx="941.5" cy="368.5" r="3.08"/><circle cx="946.5" cy="368.5" r="3.08"/><circle cx="952.5" cy="368.5" r="3.08"/><circle cx="957.5" cy="368.5" r="3.08"/><circle cx="963.5" cy="368.5" r="3.08"/><circle cx="969.5" cy="368.5" r="3.08"/><circle cx="974.5" cy="368.5" r="3.08"/><circle cx="980.5" cy="368.5" r="3.08"/><circle cx="986.5" cy="368.5" r="3.08"/><circle cx="991.5" cy="368.5" r="3.08"/><circle cx="997.5" cy="368.5" r="3.08"/><circle cx="1003.5" cy="368.5" r="3.08"/><circle cx="1008.5" cy="368.5" r="3.08"/><circle cx="1014.5" cy="368.5" r="3.08"/><circle cx="1019.5" cy="368.5" r="3.08"/><circle cx="1025.5" cy="368.5" r="3.08"/><circle cx="1031.5" cy="368.5" r="3.08"/><circle cx="1036.5" cy="368.5" r="3.08"/><circle cx="1042.5" cy="368.5" r="3.08"/><circle cx="1048.5" cy="368.5" r="3.08"/><circle cx="1053.5" cy="368.5" r="3.08"/><circle cx="1059.5" cy="368.5" r="3.08"/><circle cx="1065.5" cy="368.5" r="3.08"/><circle cx="1070.5" cy="368.5" r="3.08"/><circle cx="1076.5" cy="368.5" r="3.08"/><circle cx="1081.5" cy="368.5" r="3.08"/><circle cx="1087.5" cy="368.5" r="3.08"/><circle cx="1093.5" cy="368.5" r="3.08"/><circle cx="1098.5" cy="368.5" r="3.08"/><circle cx="1104.5" cy="368.5" r="3.08"/><circle cx="1110.5" cy="368.5" r="3.08"/><circle cx="1115.5" cy="368.5" r="3.08"/><circle cx="1121.5" cy="368.5" r="3.08"/><circle cx="1127.5" cy="368.5" r="3.08"/><circle cx="1132.5" cy="368.5" r="3.08"/><circle cx="1138.5" cy="368.5" r="3.08"/><circle cx="1143.5" cy="368.5" r="3.08"/><circle cx="1149.5" cy="368.5" r="3.08"/><circle cx="1155.5" cy="368.5" r="3.08"/><circle cx="1160.5" cy="368.5" r="3.08"/><circle cx="1166.5" cy="368.5" r="3.08"/><circle cx="1172.5" cy="368.5" r="3.08"/><circle cx="1177.5" cy="368.5" r="3.08"/><circle cx="738.5" cy="360.5" r="3.08"/><circle cx="743.5" cy="360.5" r="3.08"/><circle cx="749.5" cy="360.5" r="3.08"/><circle cx="755.5" cy="360.5" r="3.08"/><circle cx="760.5" cy="360.5" r="3.08"/><circle cx="766.5" cy="360.5" r="3.08"/><circle cx="771.5" cy="360.5" r="3.08"/><circle cx="777.5" cy="360.5" r="3.08"/><circle cx="783.5" cy="360.5" r="3.08"/><circle cx="788.5" cy="360.5" r="3.08"/><circle cx="794.5" cy="360.5" r="3.08"/><circle cx="800.5" cy="360.5" r="3.08"/><circle cx="805.5" cy="360.5" r="3.08"/><circle cx="811.5" cy="360.5" r="3.08"/><circle cx="817.5" cy="360.5" r="3.08"/><circle cx="822.5" cy="360.5" r="3.08"/><circle cx="828.5" cy="360.5" r="3.08"/><circle cx="833.5" cy="360.5" r="3.08"/><circle cx="839.5" cy="360.5" r="3.08"/><circle cx="845.5" cy="360.5" r="3.08"/><circle cx="850.5" cy="360.5" r="3.08"/><circle cx="856.5" cy="360.5" r="3.08"/><circle cx="862.5" cy="360.5" r="3.08"/><circle cx="867.5" cy="360.5" r="3.08"/><circle cx="873.5" cy="360.5" r="3.08"/><circle cx="879.5" cy="360.5" r="3.08"/><circle cx="884.5" cy="360.5" r="3.08"/><circle cx="890.5" cy="360.5" r="3.08"/><circle cx="895.5" cy="360.5" r="3.08"/><circle cx="901.5" cy="360.5" r="3.08"/><circle cx="907.5" cy="360.5" r="3.08"/><circle cx="912.5" cy="360.5" r="3.08"/><circle cx="918.5" cy="360.5" r="3.08"/><circle cx="924.5" cy="360.5" r="3.08"/><circle cx="929.5" cy="360.5" r="3.08"/><circle cx="935.5" cy="360.5" r="3.08"/><circle cx="941.5" cy="360.5" r="3.08"/><circle cx="946.5" cy="360.5" r="3.08"/><circle cx="952.5" cy="360.5" r="3.08"/><circle cx="957.5" cy="360.5" r="3.08"/><circle cx="963.5" cy="360.5" r="3.08"/><circle cx="969.5" cy="360.5" r="3.08"/><circle cx="974.5" cy="360.5" r="3.08"/><circle cx="980.5" cy="360.5" r="3.08"/><circle cx="986.5" cy="360.5" r="3.08"/><circle cx="991.5" cy="360.5" r="3.08"/><circle cx="997.5" cy="360.5" r="3.08"/><circle cx="1003.5" cy="360.5" r="3.08"/><circle cx="1008.5" cy="360.5" r="3.08"/><circle cx="1014.5" cy="360.5" r="3.08"/><circle cx="1019.5" cy="360.5" r="3.08"/><circle cx="1025.5" cy="360.5" r="3.08"/><circle cx="1031.5" cy="360.5" r="3.08"/><circle cx="1036.5" cy="360.5" r="3.08"/><circle cx="1042.5" cy="360.5" r="3.08"/><circle cx="1048.5" cy="360.5" r="3.08"/><circle cx="1053.5" cy="360.5" r="3.08"/><circle cx="1059.5" cy="360.5" r="3.08"/><circle cx="1065.5" cy="360.5" r="3.08"/><circle cx="1070.5" cy="360.5" r="3.08"/><circle cx="1076.5" cy="360.5" r="3.08"/><circle cx="1081.5" cy="360.5" r="3.08"/><circle cx="1087.5" cy="360.5" r="3.08"/><circle cx="1093.5" cy="360.5" r="3.08"/><circle cx="1098.5" cy="360.5" r="3.08"/><circle cx="1104.5" cy="360.5" r="3.08"/><circle cx="1110.5" cy="360.5" r="3.08"/><circle cx="1115.5" cy="360.5" r="3.08"/><circle cx="1121.5" cy="360.5" r="3.08"/><circle cx="1127.5" cy="360.5" r="3.08"/><circle cx="1132.5" cy="360.5" r="3.08"/><circle cx="1138.5" cy="360.5" r="3.08"/><circle cx="1143.5" cy="360.5" r="3.08"/><circle cx="1149.5" cy="360.5" r="3.08"/><circle cx="1155.5" cy="360.5" r="3.08"/><circle cx="1160.5" cy="360.5" r="3.08"/><circle cx="1166.5" cy="360.5" r="3.08"/><circle cx="1172.5" cy="360.5" r="3.08"/><circle cx="738.5" cy="352.5" r="3.08"/><circle cx="743.5" cy="352.5" r="3.08"/><circle cx="749.5" cy="352.5" r="3.08"/><circle cx="755.5" cy="352.5" r="3.08"/><circle cx="760.5" cy="352.5" r="3.08"/><circle cx="766.5" cy="352.5" r="3.08"/><circle cx="771.5" cy="352.5" r="3.08"/><circle cx="777.5" cy="352.5" r="3.08"/><circle cx="783.5" cy="352.5" r="3.08"/><circle cx="788.5" cy="352.5" r="3.08"/><circle cx="794.5" cy="352.5" r="3.08"/><circle cx="800.5" cy="352.5" r="3.08"/><circle cx="805.5" cy="352.5" r="3.08"/><circle cx="811.5" cy="352.5" r="3.08"/><circle cx="817.5" cy="352.5" r="3.08"/><circle cx="822.5" cy="352.5" r="3.08"/><circle cx="828.5" cy="352.5" r="3.08"/><circle cx="833.5" cy="352.5" r="3.08"/><circle cx="839.5" cy="352.5" r="3.08"/><circle cx="845.5" cy="352.5" r="3.08"/><circle cx="850.5" cy="352.5" r="3.08"/><circle cx="856.5" cy="352.5" r="3.08"/><circle cx="862.5" cy="352.5" r="3.08"/><circle cx="867.5" cy="352.5" r="3.08"/><circle cx="873.5" cy="352.5" r="3.08"/><circle cx="879.5" cy="352.5" r="3.08"/><circle cx="884.5" cy="352.5" r="3.08"/><circle cx="890.5" cy="352.5" r="3.08"/><circle cx="895.5" cy="352.5" r="3.08"/><circle cx="901.5" cy="352.5" r="3.08"/><circle cx="907.5" cy="352.5" r="3.08"/><circle cx="912.5" cy="352.5" r="3.08"/><circle cx="918.5" cy="352.5" r="3.08"/><circle cx="924.5" cy="352.5" r="3.08"/><circle cx="929.5" cy="352.5" r="3.08"/><circle cx="935.5" cy="352.5" r="3.08"/><circle cx="941.5" cy="352.5" r="3.08"/><circle cx="946.5" cy="352.5" r="3.08"/><circle cx="952.5" cy="352.5" r="3.08"/><circle cx="957.5" cy="352.5" r="3.08"/><circle cx="963.5" cy="352.5" r="3.08"/><circle cx="969.5" cy="352.5" r="3.08"/><circle cx="974.5" cy="352.5" r="3.08"/><circle cx="980.5" cy="352.5" r="3.08"/><circle cx="986.5" cy="352.5" r="3.08"/><circle cx="991.5" cy="352.5" r="3.08"/><circle cx="997.5" cy="352.5" r="3.08"/><circle cx="1003.5" cy="352.5" r="3.08"/><circle cx="1008.5" cy="352.5" r="3.08"/><circle cx="1014.5" cy="352.5" r="3.08"/><circle cx="1019.5" cy="352.5" r="3.08"/><circle cx="1025.5" cy="352.5" r="3.08"/><circle cx="1031.5" cy="352.5" r="3.08"/><circle cx="1036.5" cy="352.5" r="3.08"/><circle cx="1042.5" cy="352.5" r="3.08"/><circle cx="1048.5" cy="352.5" r="3.08"/><circle cx="1053.5" cy="352.5" r="3.08"/><circle cx="1059.5" cy="352.5" r="3.08"/><circle cx="1065.5" cy="352.5" r="3.08"/><circle cx="1070.5" cy="352.5" r="3.08"/><circle cx="1076.5" cy="352.5" r="3.08"/><circle cx="1081.5" cy="352.5" r="3.08"/><circle cx="1087.5" cy="352.5" r="3.08"/><circle cx="1093.5" cy="352.5" r="3.08"/><circle cx="1098.5" cy="352.5" r="3.08"/><circle cx="1104.5" cy="352.5" r="3.08"/><circle cx="1110.5" cy="352.5" r="3.08"/><circle cx="1115.5" cy="352.5" r="3.08"/><circle cx="1121.5" cy="352.5" r="3.08"/><circle cx="1127.5" cy="352.5" r="3.08"/><circle cx="1132.5" cy="352.5" r="3.08"/><circle cx="1138.5" cy="352.5" r="3.08"/><circle cx="1143.5" cy="352.5" r="3.08"/><circle cx="1149.5" cy="352.5" r="3.08"/><circle cx="1155.5" cy="352.5" r="3.08"/><circle cx="1160.5" cy="352.5" r="3.08"/><circle cx="1166.5" cy="352.5" r="3.08"/><circle cx="1172.5" cy="352.5" r="3.08"/><circle cx="738.5" cy="345.5" r="3.08"/><circle cx="743.5" cy="345.5" r="3.08"/><circle cx="749.5" cy="345.5" r="3.08"/><circle cx="755.5" cy="345.5" r="3.08"/><circle cx="760.5" cy="345.5" r="3.08"/><circle cx="766.5" cy="345.5" r="3.08"/><circle cx="771.5" cy="345.5" r="3.08"/><circle cx="777.5" cy="345.5" r="3.08"/><circle cx="783.5" cy="345.5" r="3.08"/><circle cx="788.5" cy="345.5" r="3.08"/><circle cx="794.5" cy="345.5" r="3.08"/><circle cx="800.5" cy="345.5" r="3.08"/><circle cx="805.5" cy="345.5" r="3.08"/><circle cx="811.5" cy="345.5" r="3.08"/><circle cx="817.5" cy="345.5" r="3.08"/><circle cx="822.5" cy="345.5" r="3.08"/><circle cx="828.5" cy="345.5" r="3.08"/><circle cx="833.5" cy="345.5" r="3.08"/><circle cx="839.5" cy="345.5" r="3.08"/><circle cx="845.5" cy="345.5" r="3.08"/><circle cx="850.5" cy="345.5" r="3.08"/><circle cx="856.5" cy="345.5" r="3.08"/><circle cx="862.5" cy="345.5" r="3.08"/><circle cx="867.5" cy="345.5" r="3.08"/><circle cx="873.5" cy="345.5" r="3.08"/><circle cx="879.5" cy="345.5" r="3.08"/><circle cx="884.5" cy="345.5" r="3.08"/><circle cx="890.5" cy="345.5" r="3.08"/><circle cx="895.5" cy="345.5" r="3.08"/><circle cx="901.5" cy="345.5" r="3.08"/><circle cx="907.5" cy="345.5" r="3.08"/><circle cx="912.5" cy="345.5" r="3.08"/><circle cx="918.5" cy="345.5" r="3.08"/><circle cx="924.5" cy="345.5" r="3.08"/><circle cx="929.5" cy="345.5" r="3.08"/><circle cx="935.5" cy="345.5" r="3.08"/><circle cx="941.5" cy="345.5" r="3.08"/><circle cx="946.5" cy="345.5" r="3.08"/><circle cx="952.5" cy="345.5" r="3.08"/><circle cx="957.5" cy="345.5" r="3.08"/><circle cx="963.5" cy="345.5" r="3.08"/><circle cx="969.5" cy="345.5" r="3.08"/><circle cx="974.5" cy="345.5" r="3.08"/><circle cx="980.5" cy="345.5" r="3.08"/><circle cx="986.5" cy="345.5" r="3.08"/><circle cx="991.5" cy="345.5" r="3.08"/><circle cx="997.5" cy="345.5" r="3.08"/><circle cx="1003.5" cy="345.5" r="3.08"/><circle cx="1008.5" cy="345.5" r="3.08"/><circle cx="1014.5" cy="345.5" r="3.08"/><circle cx="1019.5" cy="345.5" r="3.08"/><circle cx="1025.5" cy="345.5" r="3.08"/><circle cx="1031.5" cy="345.5" r="3.08"/><circle cx="1036.5" cy="345.5" r="3.08"/><circle cx="1042.5" cy="345.5" r="3.08"/><circle cx="1048.5" cy="345.5" r="3.08"/><circle cx="1053.5" cy="345.5" r="3.08"/><circle cx="1059.5" cy="345.5" r="3.08"/><circle cx="1065.5" cy="345.5" r="3.08"/><circle cx="1070.5" cy="345.5" r="3.08"/><circle cx="1076.5" cy="345.5" r="3.08"/><circle cx="1081.5" cy="345.5" r="3.08"/><circle cx="1087.5" cy="345.5" r="3.08"/><circle cx="1093.5" cy="345.5" r="3.08"/><circle cx="1098.5" cy="345.5" r="3.08"/><circle cx="1104.5" cy="345.5" r="3.08"/><circle cx="1110.5" cy="345.5" r="3.08"/><circle cx="1115.5" cy="345.5" r="3.08"/><circle cx="1121.5" cy="345.5" r="3.08"/><circle cx="1127.5" cy="345.5" r="3.08"/><circle cx="1132.5" cy="345.5" r="3.08"/><circle cx="1138.5" cy="345.5" r="3.08"/><circle cx="1143.5" cy="345.5" r="3.08"/><circle cx="1149.5" cy="345.5" r="3.08"/><circle cx="1155.5" cy="345.5" r="3.08"/><circle cx="1160.5" cy="345.5" r="3.08"/><circle cx="1166.5" cy="345.5" r="3.08"/><circle cx="1172.5" cy="345.5" r="3.08"/><circle cx="738.5" cy="337.5" r="3.08"/><circle cx="743.5" cy="337.5" r="3.08"/><circle cx="749.5" cy="337.5" r="3.08"/><circle cx="755.5" cy="337.5" r="3.08"/><circle cx="760.5" cy="337.5" r="3.08"/><circle cx="766.5" cy="337.5" r="3.08"/><circle cx="771.5" cy="337.5" r="3.08"/><circle cx="777.5" cy="337.5" r="3.08"/><circle cx="783.5" cy="337.5" r="3.08"/><circle cx="788.5" cy="337.5" r="3.08"/><circle cx="794.5" cy="337.5" r="3.08"/><circle cx="800.5" cy="337.5" r="3.08"/><circle cx="805.5" cy="337.5" r="3.08"/><circle cx="811.5" cy="337.5" r="3.08"/><circle cx="817.5" cy="337.5" r="3.08"/><circle cx="822.5" cy="337.5" r="3.08"/><circle cx="828.5" cy="337.5" r="3.08"/><circle cx="833.5" cy="337.5" r="3.08"/><circle cx="839.5" cy="337.5" r="3.08"/><circle cx="845.5" cy="337.5" r="3.08"/><circle cx="850.5" cy="337.5" r="3.08"/><circle cx="856.5" cy="337.5" r="3.08"/><circle cx="862.5" cy="337.5" r="3.08"/><circle cx="867.5" cy="337.5" r="3.08"/><circle cx="873.5" cy="337.5" r="3.08"/><circle cx="879.5" cy="337.5" r="3.08"/><circle cx="884.5" cy="337.5" r="3.08"/><circle cx="890.5" cy="337.5" r="3.08"/><circle cx="895.5" cy="337.5" r="3.08"/><circle cx="901.5" cy="337.5" r="3.08"/><circle cx="907.5" cy="337.5" r="3.08"/><circle cx="912.5" cy="337.5" r="3.08"/><circle cx="918.5" cy="337.5" r="3.08"/><circle cx="924.5" cy="337.5" r="3.08"/><circle cx="929.5" cy="337.5" r="3.08"/><circle cx="935.5" cy="337.5" r="3.08"/><circle cx="941.5" cy="337.5" r="3.08"/><circle cx="946.5" cy="337.5" r="3.08"/><circle cx="952.5" cy="337.5" r="3.08"/><circle cx="957.5" cy="337.5" r="3.08"/><circle cx="963.5" cy="337.5" r="3.08"/><circle cx="969.5" cy="337.5" r="3.08"/><circle cx="974.5" cy="337.5" r="3.08"/><circle cx="980.5" cy="337.5" r="3.08"/><circle cx="986.5" cy="337.5" r="3.08"/><circle cx="991.5" cy="337.5" r="3.08"/><circle cx="997.5" cy="337.5" r="3.08"/><circle cx="1003.5" cy="337.5" r="3.08"/><circle cx="1008.5" cy="337.5" r="3.08"/><circle cx="1014.5" cy="337.5" r="3.08"/><circle cx="1019.5" cy="337.5" r="3.08"/><circle cx="1025.5" cy="337.5" r="3.08"/><circle cx="1031.5" cy="337.5" r="3.08"/><circle cx="1036.5" cy="337.5" r="3.08"/><circle cx="1042.5" cy="337.5" r="3.08"/><circle cx="1048.5" cy="337.5" r="3.08"/><circle cx="1053.5" cy="337.5" r="3.08"/><circle cx="1059.5" cy="337.5" r="3.08"/><circle cx="1065.5" cy="337.5" r="3.08"/><circle cx="1070.5" cy="337.5" r="3.08"/><circle cx="1076.5" cy="337.5" r="3.08"/><circle cx="1081.5" cy="337.5" r="3.08"/><circle cx="1087.5" cy="337.5" r="3.08"/><circle cx="1093.5" cy="337.5" r="3.08"/><circle cx="1098.5" cy="337.5" r="3.08"/><circle cx="1104.5" cy="337.5" r="3.08"/><circle cx="1110.5" cy="337.5" r="3.08"/><circle cx="1115.5" cy="337.5" r="3.08"/><circle cx="1121.5" cy="337.5" r="3.08"/><circle cx="1127.5" cy="337.5" r="3.08"/><circle cx="1132.5" cy="337.5" r="3.08"/><circle cx="1138.5" cy="337.5" r="3.08"/><circle cx="1143.5" cy="337.5" r="3.08"/><circle cx="1149.5" cy="337.5" r="3.08"/><circle cx="1155.5" cy="337.5" r="3.08"/><circle cx="1160.5" cy="337.5" r="3.08"/><circle cx="1166.5" cy="337.5" r="3.08"/><circle cx="738.5" cy="330.5" r="3.08"/><circle cx="743.5" cy="330.5" r="3.08"/><circle cx="749.5" cy="330.5" r="3.08"/><circle cx="755.5" cy="330.5" r="3.08"/><circle cx="760.5" cy="330.5" r="3.08"/><circle cx="766.5" cy="330.5" r="3.08"/><circle cx="771.5" cy="330.5" r="3.08"/><circle cx="777.5" cy="330.5" r="3.08"/><circle cx="783.5" cy="330.5" r="3.08"/><circle cx="788.5" cy="330.5" r="3.08"/><circle cx="794.5" cy="330.5" r="3.08"/><circle cx="800.5" cy="330.5" r="3.08"/><circle cx="805.5" cy="330.5" r="3.08"/><circle cx="811.5" cy="330.5" r="3.08"/><circle cx="817.5" cy="330.5" r="3.08"/><circle cx="822.5" cy="330.5" r="3.08"/><circle cx="828.5" cy="330.5" r="3.08"/><circle cx="833.5" cy="330.5" r="3.08"/><circle cx="839.5" cy="330.5" r="3.08"/><circle cx="845.5" cy="330.5" r="3.08"/><circle cx="850.5" cy="330.5" r="3.08"/><circle cx="856.5" cy="330.5" r="3.08"/><circle cx="862.5" cy="330.5" r="3.08"/><circle cx="867.5" cy="330.5" r="3.08"/><circle cx="873.5" cy="330.5" r="3.08"/><circle cx="879.5" cy="330.5" r="3.08"/><circle cx="884.5" cy="330.5" r="3.08"/><circle cx="890.5" cy="330.5" r="3.08"/><circle cx="895.5" cy="330.5" r="3.08"/><circle cx="901.5" cy="330.5" r="3.08"/><circle cx="907.5" cy="330.5" r="3.08"/><circle cx="912.5" cy="330.5" r="3.08"/><circle cx="918.5" cy="330.5" r="3.08"/><circle cx="924.5" cy="330.5" r="3.08"/><circle cx="929.5" cy="330.5" r="3.08"/><circle cx="935.5" cy="330.5" r="3.08"/><circle cx="941.5" cy="330.5" r="3.08"/><circle cx="946.5" cy="330.5" r="3.08"/><circle cx="952.5" cy="330.5" r="3.08"/><circle cx="957.5" cy="330.5" r="3.08"/><circle cx="963.5" cy="330.5" r="3.08"/><circle cx="969.5" cy="330.5" r="3.08"/><circle cx="974.5" cy="330.5" r="3.08"/><circle cx="980.5" cy="330.5" r="3.08"/><circle cx="986.5" cy="330.5" r="3.08"/><circle cx="991.5" cy="330.5" r="3.08"/><circle cx="997.5" cy="330.5" r="3.08"/><circle cx="1003.5" cy="330.5" r="3.08"/><circle cx="1008.5" cy="330.5" r="3.08"/><circle cx="1014.5" cy="330.5" r="3.08"/><circle cx="1019.5" cy="330.5" r="3.08"/><circle cx="1025.5" cy="330.5" r="3.08"/><circle cx="1031.5" cy="330.5" r="3.08"/><circle cx="1036.5" cy="330.5" r="3.08"/><circle cx="1042.5" cy="330.5" r="3.08"/><circle cx="1048.5" cy="330.5" r="3.08"/><circle cx="1053.5" cy="330.5" r="3.08"/><circle cx="1059.5" cy="330.5" r="3.08"/><circle cx="1065.5" cy="330.5" r="3.08"/><circle cx="1070.5" cy="330.5" r="3.08"/><circle cx="1076.5" cy="330.5" r="3.08"/><circle cx="1081.5" cy="330.5" r="3.08"/><circle cx="1087.5" cy="330.5" r="3.08"/><circle cx="1093.5" cy="330.5" r="3.08"/><circle cx="1098.5" cy="330.5" r="3.08"/><circle cx="1104.5" cy="330.5" r="3.08"/><circle cx="1110.5" cy="330.5" r="3.08"/><circle cx="1115.5" cy="330.5" r="3.08"/><circle cx="1121.5" cy="330.5" r="3.08"/><circle cx="1127.5" cy="330.5" r="3.08"/><circle cx="1132.5" cy="330.5" r="3.08"/><circle cx="1138.5" cy="330.5" r="3.08"/><circle cx="1143.5" cy="330.5" r="3.08"/><circle cx="1149.5" cy="330.5" r="3.08"/><circle cx="1155.5" cy="330.5" r="3.08"/><circle cx="1160.5" cy="330.5" r="3.08"/><circle cx="1166.5" cy="330.5" r="3.08"/><circle cx="738.5" cy="322.5" r="3.08"/><circle cx="743.5" cy="322.5" r="3.08"/><circle cx="749.5" cy="322.5" r="3.08"/><circle cx="755.5" cy="322.5" r="3.08"/><circle cx="760.5" cy="322.5" r="3.08"/><circle cx="766.5" cy="322.5" r="3.08"/><circle cx="771.5" cy="322.5" r="3.08"/><circle cx="777.5" cy="322.5" r="3.08"/><circle cx="783.5" cy="322.5" r="3.08"/><circle cx="788.5" cy="322.5" r="3.08"/><circle cx="794.5" cy="322.5" r="3.08"/><circle cx="800.5" cy="322.5" r="3.08"/><circle cx="805.5" cy="322.5" r="3.08"/><circle cx="811.5" cy="322.5" r="3.08"/><circle cx="817.5" cy="322.5" r="3.08"/><circle cx="822.5" cy="322.5" r="3.08"/><circle cx="828.5" cy="322.5" r="3.08"/><circle cx="833.5" cy="322.5" r="3.08"/><circle cx="839.5" cy="322.5" r="3.08"/><circle cx="845.5" cy="322.5" r="3.08"/><circle cx="850.5" cy="322.5" r="3.08"/><circle cx="856.5" cy="322.5" r="3.08"/><circle cx="862.5" cy="322.5" r="3.08"/><circle cx="867.5" cy="322.5" r="3.08"/><circle cx="873.5" cy="322.5" r="3.08"/><circle cx="879.5" cy="322.5" r="3.08"/><circle cx="884.5" cy="322.5" r="3.08"/><circle cx="890.5" cy="322.5" r="3.08"/><circle cx="895.5" cy="322.5" r="3.08"/><circle cx="901.5" cy="322.5" r="3.08"/><circle cx="907.5" cy="322.5" r="3.08"/><circle cx="912.5" cy="322.5" r="3.08"/><circle cx="918.5" cy="322.5" r="3.08"/><circle cx="924.5" cy="322.5" r="3.08"/><circle cx="929.5" cy="322.5" r="3.08"/><circle cx="935.5" cy="322.5" r="3.08"/><circle cx="941.5" cy="322.5" r="3.08"/><circle cx="946.5" cy="322.5" r="3.08"/><circle cx="952.5" cy="322.5" r="3.08"/><circle cx="957.5" cy="322.5" r="3.08"/><circle cx="963.5" cy="322.5" r="3.08"/><circle cx="969.5" cy="322.5" r="3.08"/><circle cx="974.5" cy="322.5" r="3.08"/><circle cx="980.5" cy="322.5" r="3.08"/><circle cx="986.5" cy="322.5" r="3.08"/><circle cx="991.5" cy="322.5" r="3.08"/><circle cx="997.5" cy="322.5" r="3.08"/><circle cx="1003.5" cy="322.5" r="3.08"/><circle cx="1008.5" cy="322.5" r="3.08"/><circle cx="1014.5" cy="322.5" r="3.08"/><circle cx="1019.5" cy="322.5" r="3.08"/><circle cx="1025.5" cy="322.5" r="3.08"/><circle cx="1031.5" cy="322.5" r="3.08"/><circle cx="1036.5" cy="322.5" r="3.08"/><circle cx="1042.5" cy="322.5" r="3.08"/><circle cx="1048.5" cy="322.5" r="3.08"/><circle cx="1053.5" cy="322.5" r="3.08"/><circle cx="1059.5" cy="322.5" r="3.08"/><circle cx="1065.5" cy="322.5" r="3.08"/><circle cx="1070.5" cy="322.5" r="3.08"/><circle cx="1076.5" cy="322.5" r="3.08"/><circle cx="1081.5" cy="322.5" r="3.08"/><circle cx="1087.5" cy="322.5" r="3.08"/><circle cx="1093.5" cy="322.5" r="3.08"/><circle cx="1098.5" cy="322.5" r="3.08"/><circle cx="1104.5" cy="322.5" r="3.08"/><circle cx="1110.5" cy="322.5" r="3.08"/><circle cx="1115.5" cy="322.5" r="3.08"/><circle cx="1121.5" cy="322.5" r="3.08"/><circle cx="1127.5" cy="322.5" r="3.08"/><circle cx="1132.5" cy="322.5" r="3.08"/><circle cx="1138.5" cy="322.5" r="3.08"/><circle cx="1143.5" cy="322.5" r="3.08"/><circle cx="1149.5" cy="322.5" r="3.08"/><circle cx="1155.5" cy="322.5" r="3.08"/><circle cx="1160.5" cy="322.5" r="3.08"/><circle cx="738.5" cy="314.5" r="3.08"/><circle cx="743.5" cy="314.5" r="3.08"/><circle cx="749.5" cy="314.5" r="3.08"/><circle cx="755.5" cy="314.5" r="3.08"/><circle cx="760.5" cy="314.5" r="3.08"/><circle cx="766.5" cy="314.5" r="3.08"/><circle cx="771.5" cy="314.5" r="3.08"/><circle cx="777.5" cy="314.5" r="3.08"/><circle cx="783.5" cy="314.5" r="3.08"/><circle cx="788.5" cy="314.5" r="3.08"/><circle cx="794.5" cy="314.5" r="3.08"/><circle cx="800.5" cy="314.5" r="3.08"/><circle cx="805.5" cy="314.5" r="3.08"/><circle cx="811.5" cy="314.5" r="3.08"/><circle cx="817.5" cy="314.5" r="3.08"/><circle cx="822.5" cy="314.5" r="3.08"/><circle cx="828.5" cy="314.5" r="3.08"/><circle cx="833.5" cy="314.5" r="3.08"/><circle cx="839.5" cy="314.5" r="3.08"/><circle cx="845.5" cy="314.5" r="3.08"/><circle cx="850.5" cy="314.5" r="3.08"/><circle cx="856.5" cy="314.5" r="3.08"/><circle cx="862.5" cy="314.5" r="3.08"/><circle cx="867.5" cy="314.5" r="3.08"/><circle cx="873.5" cy="314.5" r="3.08"/><circle cx="879.5" cy="314.5" r="3.08"/><circle cx="884.5" cy="314.5" r="3.08"/><circle cx="890.5" cy="314.5" r="3.08"/><circle cx="895.5" cy="314.5" r="3.08"/><circle cx="901.5" cy="314.5" r="3.08"/><circle cx="907.5" cy="314.5" r="3.08"/><circle cx="912.5" cy="314.5" r="3.08"/><circle cx="918.5" cy="314.5" r="3.08"/><circle cx="924.5" cy="314.5" r="3.08"/><circle cx="929.5" cy="314.5" r="3.08"/><circle cx="935.5" cy="314.5" r="3.08"/><circle cx="941.5" cy="314.5" r="3.08"/><circle cx="946.5" cy="314.5" r="3.08"/><circle cx="952.5" cy="314.5" r="3.08"/><circle cx="957.5" cy="314.5" r="3.08"/><circle cx="963.5" cy="314.5" r="3.08"/><circle cx="969.5" cy="314.5" r="3.08"/><circle cx="974.5" cy="314.5" r="3.08"/><circle cx="980.5" cy="314.5" r="3.08"/><circle cx="986.5" cy="314.5" r="3.08"/><circle cx="991.5" cy="314.5" r="3.08"/><circle cx="997.5" cy="314.5" r="3.08"/><circle cx="1003.5" cy="314.5" r="3.08"/><circle cx="1008.5" cy="314.5" r="3.08"/><circle cx="1014.5" cy="314.5" r="3.08"/><circle cx="1019.5" cy="314.5" r="3.08"/><circle cx="1025.5" cy="314.5" r="3.08"/><circle cx="1031.5" cy="314.5" r="3.08"/><circle cx="1036.5" cy="314.5" r="3.08"/><circle cx="1042.5" cy="314.5" r="3.08"/><circle cx="1048.5" cy="314.5" r="3.08"/><circle cx="1053.5" cy="314.5" r="3.08"/><circle cx="1059.5" cy="314.5" r="3.08"/><circle cx="1065.5" cy="314.5" r="3.08"/><circle cx="1070.5" cy="314.5" r="3.08"/><circle cx="1076.5" cy="314.5" r="3.08"/><circle cx="1081.5" cy="314.5" r="3.08"/><circle cx="1087.5" cy="314.5" r="3.08"/><circle cx="1093.5" cy="314.5" r="3.08"/><circle cx="1098.5" cy="314.5" r="3.08"/><circle cx="1104.5" cy="314.5" r="3.08"/><circle cx="1110.5" cy="314.5" r="3.08"/><circle cx="1115.5" cy="314.5" r="3.08"/><circle cx="1121.5" cy="314.5" r="3.08"/><circle cx="1127.5" cy="314.5" r="3.08"/><circle cx="1132.5" cy="314.5" r="3.08"/><circle cx="1138.5" cy="314.5" r="3.08"/><circle cx="1143.5" cy="314.5" r="3.08"/><circle cx="1149.5" cy="314.5" r="3.08"/><circle cx="1155.5" cy="314.5" r="3.08"/><circle cx="1160.5" cy="314.5" r="3.08"/><circle cx="738.5" cy="307.5" r="3.08"/><circle cx="743.5" cy="307.5" r="3.08"/><circle cx="749.5" cy="307.5" r="3.08"/><circle cx="755.5" cy="307.5" r="3.08"/><circle cx="760.5" cy="307.5" r="3.08"/><circle cx="766.5" cy="307.5" r="3.08"/><circle cx="771.5" cy="307.5" r="3.08"/><circle cx="777.5" cy="307.5" r="3.08"/><circle cx="783.5" cy="307.5" r="3.08"/><circle cx="788.5" cy="307.5" r="3.08"/><circle cx="794.5" cy="307.5" r="3.08"/><circle cx="800.5" cy="307.5" r="3.08"/><circle cx="805.5" cy="307.5" r="3.08"/><circle cx="811.5" cy="307.5" r="3.08"/><circle cx="817.5" cy="307.5" r="3.08"/><circle cx="822.5" cy="307.5" r="3.08"/><circle cx="828.5" cy="307.5" r="3.08"/><circle cx="833.5" cy="307.5" r="3.08"/><circle cx="839.5" cy="307.5" r="3.08"/><circle cx="845.5" cy="307.5" r="3.08"/><circle cx="850.5" cy="307.5" r="3.08"/><circle cx="856.5" cy="307.5" r="3.08"/><circle cx="862.5" cy="307.5" r="3.08"/><circle cx="867.5" cy="307.5" r="3.08"/><circle cx="873.5" cy="307.5" r="3.08"/><circle cx="879.5" cy="307.5" r="3.08"/><circle cx="884.5" cy="307.5" r="3.08"/><circle cx="890.5" cy="307.5" r="3.08"/><circle cx="895.5" cy="307.5" r="3.08"/><circle cx="901.5" cy="307.5" r="3.08"/><circle cx="907.5" cy="307.5" r="3.08"/><circle cx="912.5" cy="307.5" r="3.08"/><circle cx="918.5" cy="307.5" r="3.08"/><circle cx="924.5" cy="307.5" r="3.08"/><circle cx="929.5" cy="307.5" r="3.08"/><circle cx="935.5" cy="307.5" r="3.08"/><circle cx="941.5" cy="307.5" r="3.08"/><circle cx="946.5" cy="307.5" r="3.08"/><circle cx="952.5" cy="307.5" r="3.08"/><circle cx="957.5" cy="307.5" r="3.08"/><circle cx="963.5" cy="307.5" r="3.08"/><circle cx="969.5" cy="307.5" r="3.08"/><circle cx="974.5" cy="307.5" r="3.08"/><circle cx="980.5" cy="307.5" r="3.08"/><circle cx="986.5" cy="307.5" r="3.08"/><circle cx="991.5" cy="307.5" r="3.08"/><circle cx="997.5" cy="307.5" r="3.08"/><circle cx="1003.5" cy="307.5" r="3.08"/><circle cx="1008.5" cy="307.5" r="3.08"/><circle cx="1014.5" cy="307.5" r="3.08"/><circle cx="1019.5" cy="307.5" r="3.08"/><circle cx="1025.5" cy="307.5" r="3.08"/><circle cx="1031.5" cy="307.5" r="3.08"/><circle cx="1036.5" cy="307.5" r="3.08"/><circle cx="1042.5" cy="307.5" r="3.08"/><circle cx="1048.5" cy="307.5" r="3.08"/><circle cx="1053.5" cy="307.5" r="3.08"/><circle cx="1059.5" cy="307.5" r="3.08"/><circle cx="1065.5" cy="307.5" r="3.08"/><circle cx="1070.5" cy="307.5" r="3.08"/><circle cx="1076.5" cy="307.5" r="3.08"/><circle cx="1081.5" cy="307.5" r="3.08"/><circle cx="1087.5" cy="307.5" r="3.08"/><circle cx="1093.5" cy="307.5" r="3.08"/><circle cx="1098.5" cy="307.5" r="3.08"/><circle cx="1104.5" cy="307.5" r="3.08"/><circle cx="1110.5" cy="307.5" r="3.08"/><circle cx="1115.5" cy="307.5" r="3.08"/><circle cx="1121.5" cy="307.5" r="3.08"/><circle cx="1127.5" cy="307.5" r="3.08"/><circle cx="1132.5" cy="307.5" r="3.08"/><circle cx="1138.5" cy="307.5" r="3.08"/><circle cx="1143.5" cy="307.5" r="3.08"/><circle cx="1149.5" cy="307.5" r="3.08"/><circle cx="1155.5" cy="307.5" r="3.08"/><circle cx="1160.5" cy="307.5" r="3.08"/><circle cx="738.5" cy="299.5" r="3.08"/><circle cx="743.5" cy="299.5" r="3.08"/><circle cx="749.5" cy="299.5" r="3.08"/><circle cx="755.5" cy="299.5" r="3.08"/><circle cx="760.5" cy="299.5" r="3.08"/><circle cx="766.5" cy="299.5" r="3.08"/><circle cx="771.5" cy="299.5" r="3.08"/><circle cx="777.5" cy="299.5" r="3.08"/><circle cx="783.5" cy="299.5" r="3.08"/><circle cx="788.5" cy="299.5" r="3.08"/><circle cx="794.5" cy="299.5" r="3.08"/><circle cx="800.5" cy="299.5" r="3.08"/><circle cx="805.5" cy="299.5" r="3.08"/><circle cx="811.5" cy="299.5" r="3.08"/><circle cx="817.5" cy="299.5" r="3.08"/><circle cx="822.5" cy="299.5" r="3.08"/><circle cx="828.5" cy="299.5" r="3.08"/><circle cx="833.5" cy="299.5" r="3.08"/><circle cx="839.5" cy="299.5" r="3.08"/><circle cx="845.5" cy="299.5" r="3.08"/><circle cx="850.5" cy="299.5" r="3.08"/><circle cx="856.5" cy="299.5" r="3.08"/><circle cx="862.5" cy="299.5" r="3.08"/><circle cx="867.5" cy="299.5" r="3.08"/><circle cx="873.5" cy="299.5" r="3.08"/><circle cx="879.5" cy="299.5" r="3.08"/><circle cx="884.5" cy="299.5" r="3.08"/><circle cx="890.5" cy="299.5" r="3.08"/><circle cx="895.5" cy="299.5" r="3.08"/><circle cx="901.5" cy="299.5" r="3.08"/><circle cx="907.5" cy="299.5" r="3.08"/><circle cx="912.5" cy="299.5" r="3.08"/><circle cx="918.5" cy="299.5" r="3.08"/><circle cx="924.5" cy="299.5" r="3.08"/><circle cx="929.5" cy="299.5" r="3.08"/><circle cx="935.5" cy="299.5" r="3.08"/><circle cx="941.5" cy="299.5" r="3.08"/><circle cx="946.5" cy="299.5" r="3.08"/><circle cx="952.5" cy="299.5" r="3.08"/><circle cx="957.5" cy="299.5" r="3.08"/><circle cx="963.5" cy="299.5" r="3.08"/><circle cx="969.5" cy="299.5" r="3.08"/><circle cx="974.5" cy="299.5" r="3.08"/><circle cx="980.5" cy="299.5" r="3.08"/><circle cx="986.5" cy="299.5" r="3.08"/><circle cx="991.5" cy="299.5" r="3.08"/><circle cx="997.5" cy="299.5" r="3.08"/><circle cx="1003.5" cy="299.5" r="3.08"/><circle cx="1008.5" cy="299.5" r="3.08"/><circle cx="1014.5" cy="299.5" r="3.08"/><circle cx="1019.5" cy="299.5" r="3.08"/><circle cx="1025.5" cy="299.5" r="3.08"/><circle cx="1031.5" cy="299.5" r="3.08"/><circle cx="1036.5" cy="299.5" r="3.08"/><circle cx="1042.5" cy="299.5" r="3.08"/><circle cx="1048.5" cy="299.5" r="3.08"/><circle cx="1053.5" cy="299.5" r="3.08"/><circle cx="1059.5" cy="299.5" r="3.08"/><circle cx="1065.5" cy="299.5" r="3.08"/><circle cx="1070.5" cy="299.5" r="3.08"/><circle cx="1076.5" cy="299.5" r="3.08"/><circle cx="1081.5" cy="299.5" r="3.08"/><circle cx="1087.5" cy="299.5" r="3.08"/><circle cx="1093.5" cy="299.5" r="3.08"/><circle cx="1098.5" cy="299.5" r="3.08"/><circle cx="1104.5" cy="299.5" r="3.08"/><circle cx="1110.5" cy="299.5" r="3.08"/><circle cx="1115.5" cy="299.5" r="3.08"/><circle cx="1121.5" cy="299.5" r="3.08"/><circle cx="1127.5" cy="299.5" r="3.08"/><circle cx="1132.5" cy="299.5" r="3.08"/><circle cx="1138.5" cy="299.5" r="3.08"/><circle cx="1143.5" cy="299.5" r="3.08"/><circle cx="1149.5" cy="299.5" r="3.08"/><circle cx="1155.5" cy="299.5" r="3.08"/><circle cx="738.5" cy="292.5" r="3.08"/><circle cx="743.5" cy="292.5" r="3.08"/><circle cx="749.5" cy="292.5" r="3.08"/><circle cx="755.5" cy="292.5" r="3.08"/><circle cx="760.5" cy="292.5" r="3.08"/><circle cx="766.5" cy="292.5" r="3.08"/><circle cx="771.5" cy="292.5" r="3.08"/><circle cx="777.5" cy="292.5" r="3.08"/><circle cx="783.5" cy="292.5" r="3.08"/><circle cx="788.5" cy="292.5" r="3.08"/><circle cx="794.5" cy="292.5" r="3.08"/><circle cx="800.5" cy="292.5" r="3.08"/><circle cx="805.5" cy="292.5" r="3.08"/><circle cx="811.5" cy="292.5" r="3.08"/><circle cx="817.5" cy="292.5" r="3.08"/><circle cx="822.5" cy="292.5" r="3.08"/><circle cx="828.5" cy="292.5" r="3.08"/><circle cx="833.5" cy="292.5" r="3.08"/><circle cx="839.5" cy="292.5" r="3.08"/><circle cx="845.5" cy="292.5" r="3.08"/><circle cx="850.5" cy="292.5" r="3.08"/><circle cx="856.5" cy="292.5" r="3.08"/><circle cx="862.5" cy="292.5" r="3.08"/><circle cx="867.5" cy="292.5" r="3.08"/><circle cx="873.5" cy="292.5" r="3.08"/><circle cx="879.5" cy="292.5" r="3.08"/><circle cx="884.5" cy="292.5" r="3.08"/><circle cx="890.5" cy="292.5" r="3.08"/><circle cx="895.5" cy="292.5" r="3.08"/><circle cx="901.5" cy="292.5" r="3.08"/><circle cx="907.5" cy="292.5" r="3.08"/><circle cx="912.5" cy="292.5" r="3.08"/><circle cx="918.5" cy="292.5" r="3.08"/><circle cx="924.5" cy="292.5" r="3.08"/><circle cx="929.5" cy="292.5" r="3.08"/><circle cx="935.5" cy="292.5" r="3.08"/><circle cx="941.5" cy="292.5" r="3.08"/><circle cx="946.5" cy="292.5" r="3.08"/><circle cx="952.5" cy="292.5" r="3.08"/><circle cx="957.5" cy="292.5" r="3.08"/><circle cx="963.5" cy="292.5" r="3.08"/><circle cx="969.5" cy="292.5" r="3.08"/><circle cx="974.5" cy="292.5" r="3.08"/><circle cx="980.5" cy="292.5" r="3.08"/><circle cx="986.5" cy="292.5" r="3.08"/><circle cx="991.5" cy="292.5" r="3.08"/><circle cx="997.5" cy="292.5" r="3.08"/><circle cx="1003.5" cy="292.5" r="3.08"/><circle cx="1008.5" cy="292.5" r="3.08"/><circle cx="1014.5" cy="292.5" r="3.08"/><circle cx="1019.5" cy="292.5" r="3.08"/><circle cx="1025.5" cy="292.5" r="3.08"/><circle cx="1031.5" cy="292.5" r="3.08"/><circle cx="1036.5" cy="292.5" r="3.08"/><circle cx="1042.5" cy="292.5" r="3.08"/><circle cx="1048.5" cy="292.5" r="3.08"/><circle cx="1053.5" cy="292.5" r="3.08"/><circle cx="1059.5" cy="292.5" r="3.08"/><circle cx="1065.5" cy="292.5" r="3.08"/><circle cx="1070.5" cy="292.5" r="3.08"/><circle cx="1076.5" cy="292.5" r="3.08"/><circle cx="1081.5" cy="292.5" r="3.08"/><circle cx="1087.5" cy="292.5" r="3.08"/><circle cx="1093.5" cy="292.5" r="3.08"/><circle cx="1098.5" cy="292.5" r="3.08"/><circle cx="1104.5" cy="292.5" r="3.08"/><circle cx="1110.5" cy="292.5" r="3.08"/><circle cx="1115.5" cy="292.5" r="3.08"/><circle cx="1121.5" cy="292.5" r="3.08"/><circle cx="1127.5" cy="292.5" r="3.08"/><circle cx="1132.5" cy="292.5" r="3.08"/><circle cx="1138.5" cy="292.5" r="3.08"/><circle cx="1143.5" cy="292.5" r="3.08"/><circle cx="1149.5" cy="292.5" r="3.08"/><circle cx="1155.5" cy="292.5" r="3.08"/><circle cx="738.5" cy="284.5" r="3.08"/><circle cx="743.5" cy="284.5" r="3.08"/><circle cx="749.5" cy="284.5" r="3.08"/><circle cx="755.5" cy="284.5" r="3.08"/><circle cx="760.5" cy="284.5" r="3.08"/><circle cx="766.5" cy="284.5" r="3.08"/><circle cx="771.5" cy="284.5" r="3.08"/><circle cx="777.5" cy="284.5" r="3.08"/><circle cx="783.5" cy="284.5" r="3.08"/><circle cx="788.5" cy="284.5" r="3.08"/><circle cx="794.5" cy="284.5" r="3.08"/><circle cx="800.5" cy="284.5" r="3.08"/><circle cx="805.5" cy="284.5" r="3.08"/><circle cx="811.5" cy="284.5" r="3.08"/><circle cx="817.5" cy="284.5" r="3.08"/><circle cx="822.5" cy="284.5" r="3.08"/><circle cx="828.5" cy="284.5" r="3.08"/><circle cx="833.5" cy="284.5" r="3.08"/><circle cx="839.5" cy="284.5" r="3.08"/><circle cx="845.5" cy="284.5" r="3.08"/><circle cx="850.5" cy="284.5" r="3.08"/><circle cx="856.5" cy="284.5" r="3.08"/><circle cx="862.5" cy="284.5" r="3.08"/><circle cx="867.5" cy="284.5" r="3.08"/><circle cx="873.5" cy="284.5" r="3.08"/><circle cx="879.5" cy="284.5" r="3.08"/><circle cx="884.5" cy="284.5" r="3.08"/><circle cx="890.5" cy="284.5" r="3.08"/><circle cx="895.5" cy="284.5" r="3.08"/><circle cx="901.5" cy="284.5" r="3.08"/><circle cx="907.5" cy="284.5" r="3.08"/><circle cx="912.5" cy="284.5" r="3.08"/><circle cx="918.5" cy="284.5" r="3.08"/><circle cx="924.5" cy="284.5" r="3.08"/><circle cx="929.5" cy="284.5" r="3.08"/><circle cx="935.5" cy="284.5" r="3.08"/><circle cx="941.5" cy="284.5" r="3.08"/><circle cx="946.5" cy="284.5" r="3.08"/><circle cx="952.5" cy="284.5" r="3.08"/><circle cx="957.5" cy="284.5" r="3.08"/><circle cx="963.5" cy="284.5" r="3.08"/><circle cx="969.5" cy="284.5" r="3.08"/><circle cx="974.5" cy="284.5" r="3.08"/><circle cx="980.5" cy="284.5" r="3.08"/><circle cx="986.5" cy="284.5" r="3.08"/><circle cx="991.5" cy="284.5" r="3.08"/><circle cx="997.5" cy="284.5" r="3.08"/><circle cx="1003.5" cy="284.5" r="3.08"/><circle cx="1008.5" cy="284.5" r="3.08"/><circle cx="1014.5" cy="284.5" r="3.08"/><circle cx="1019.5" cy="284.5" r="3.08"/><circle cx="1025.5" cy="284.5" r="3.08"/><circle cx="1031.5" cy="284.5" r="3.08"/><circle cx="1036.5" cy="284.5" r="3.08"/><circle cx="1042.5" cy="284.5" r="3.08"/><circle cx="1048.5" cy="284.5" r="3.08"/><circle cx="1053.5" cy="284.5" r="3.08"/><circle cx="1059.5" cy="284.5" r="3.08"/><circle cx="1065.5" cy="284.5" r="3.08"/><circle cx="1070.5" cy="284.5" r="3.08"/><circle cx="1076.5" cy="284.5" r="3.08"/><circle cx="1081.5" cy="284.5" r="3.08"/><circle cx="1087.5" cy="284.5" r="3.08"/><circle cx="1093.5" cy="284.5" r="3.08"/><circle cx="1098.5" cy="284.5" r="3.08"/><circle cx="1104.5" cy="284.5" r="3.08"/><circle cx="1110.5" cy="284.5" r="3.08"/><circle cx="1115.5" cy="284.5" r="3.08"/><circle cx="1121.5" cy="284.5" r="3.08"/><circle cx="1127.5" cy="284.5" r="3.08"/><circle cx="1132.5" cy="284.5" r="3.08"/><circle cx="1138.5" cy="284.5" r="3.08"/><circle cx="1143.5" cy="284.5" r="3.08"/><circle cx="1149.5" cy="284.5" r="3.08"/><circle cx="738.5" cy="276.5" r="3.08"/><circle cx="743.5" cy="276.5" r="3.08"/><circle cx="749.5" cy="276.5" r="3.08"/><circle cx="755.5" cy="276.5" r="3.08"/><circle cx="760.5" cy="276.5" r="3.08"/><circle cx="766.5" cy="276.5" r="3.08"/><circle cx="771.5" cy="276.5" r="3.08"/><circle cx="777.5" cy="276.5" r="3.08"/><circle cx="783.5" cy="276.5" r="3.08"/><circle cx="788.5" cy="276.5" r="3.08"/><circle cx="794.5" cy="276.5" r="3.08"/><circle cx="800.5" cy="276.5" r="3.08"/><circle cx="805.5" cy="276.5" r="3.08"/><circle cx="811.5" cy="276.5" r="3.08"/><circle cx="817.5" cy="276.5" r="3.08"/><circle cx="822.5" cy="276.5" r="3.08"/><circle cx="828.5" cy="276.5" r="3.08"/><circle cx="833.5" cy="276.5" r="3.08"/><circle cx="839.5" cy="276.5" r="3.08"/><circle cx="845.5" cy="276.5" r="3.08"/><circle cx="850.5" cy="276.5" r="3.08"/><circle cx="856.5" cy="276.5" r="3.08"/><circle cx="862.5" cy="276.5" r="3.08"/><circle cx="867.5" cy="276.5" r="3.08"/><circle cx="873.5" cy="276.5" r="3.08"/><circle cx="879.5" cy="276.5" r="3.08"/><circle cx="884.5" cy="276.5" r="3.08"/><circle cx="890.5" cy="276.5" r="3.08"/><circle cx="895.5" cy="276.5" r="3.08"/><circle cx="901.5" cy="276.5" r="3.08"/><circle cx="907.5" cy="276.5" r="3.08"/><circle cx="912.5" cy="276.5" r="3.08"/><circle cx="918.5" cy="276.5" r="3.08"/><circle cx="924.5" cy="276.5" r="3.08"/><circle cx="929.5" cy="276.5" r="3.08"/><circle cx="935.5" cy="276.5" r="3.08"/><circle cx="941.5" cy="276.5" r="3.08"/><circle cx="946.5" cy="276.5" r="3.08"/><circle cx="952.5" cy="276.5" r="3.08"/><circle cx="957.5" cy="276.5" r="3.08"/><circle cx="963.5" cy="276.5" r="3.08"/><circle cx="969.5" cy="276.5" r="3.08"/><circle cx="974.5" cy="276.5" r="3.08"/><circle cx="980.5" cy="276.5" r="3.08"/><circle cx="986.5" cy="276.5" r="3.08"/><circle cx="991.5" cy="276.5" r="3.08"/><circle cx="997.5" cy="276.5" r="3.08"/><circle cx="1003.5" cy="276.5" r="3.08"/><circle cx="1008.5" cy="276.5" r="3.08"/><circle cx="1014.5" cy="276.5" r="3.08"/><circle cx="1019.5" cy="276.5" r="3.08"/><circle cx="1025.5" cy="276.5" r="3.08"/><circle cx="1031.5" cy="276.5" r="3.08"/><circle cx="1036.5" cy="276.5" r="3.08"/><circle cx="1042.5" cy="276.5" r="3.08"/><circle cx="1048.5" cy="276.5" r="3.08"/><circle cx="1053.5" cy="276.5" r="3.08"/><circle cx="1059.5" cy="276.5" r="3.08"/><circle cx="1065.5" cy="276.5" r="3.08"/><circle cx="1070.5" cy="276.5" r="3.08"/><circle cx="1076.5" cy="276.5" r="3.08"/><circle cx="1081.5" cy="276.5" r="3.08"/><circle cx="1087.5" cy="276.5" r="3.08"/><circle cx="1093.5" cy="276.5" r="3.08"/><circle cx="1098.5" cy="276.5" r="3.08"/><circle cx="1104.5" cy="276.5" r="3.08"/><circle cx="1110.5" cy="276.5" r="3.08"/><circle cx="1115.5" cy="276.5" r="3.08"/><circle cx="1121.5" cy="276.5" r="3.08"/><circle cx="1127.5" cy="276.5" r="3.08"/><circle cx="1132.5" cy="276.5" r="3.08"/><circle cx="1138.5" cy="276.5" r="3.08"/><circle cx="1143.5" cy="276.5" r="3.08"/><circle cx="1149.5" cy="276.5" r="3.08"/><circle cx="738.5" cy="269.5" r="3.08"/><circle cx="743.5" cy="269.5" r="3.08"/><circle cx="749.5" cy="269.5" r="3.08"/><circle cx="755.5" cy="269.5" r="3.08"/><circle cx="760.5" cy="269.5" r="3.08"/><circle cx="766.5" cy="269.5" r="3.08"/><circle cx="771.5" cy="269.5" r="3.08"/><circle cx="777.5" cy="269.5" r="3.08"/><circle cx="783.5" cy="269.5" r="3.08"/><circle cx="788.5" cy="269.5" r="3.08"/><circle cx="794.5" cy="269.5" r="3.08"/><circle cx="800.5" cy="269.5" r="3.08"/><circle cx="805.5" cy="269.5" r="3.08"/><circle cx="811.5" cy="269.5" r="3.08"/><circle cx="817.5" cy="269.5" r="3.08"/><circle cx="822.5" cy="269.5" r="3.08"/><circle cx="828.5" cy="269.5" r="3.08"/><circle cx="833.5" cy="269.5" r="3.08"/><circle cx="839.5" cy="269.5" r="3.08"/><circle cx="845.5" cy="269.5" r="3.08"/><circle cx="850.5" cy="269.5" r="3.08"/><circle cx="856.5" cy="269.5" r="3.08"/><circle cx="862.5" cy="269.5" r="3.08"/><circle cx="867.5" cy="269.5" r="3.08"/><circle cx="873.5" cy="269.5" r="3.08"/><circle cx="879.5" cy="269.5" r="3.08"/><circle cx="884.5" cy="269.5" r="3.08"/><circle cx="890.5" cy="269.5" r="3.08"/><circle cx="895.5" cy="269.5" r="3.08"/><circle cx="901.5" cy="269.5" r="3.08"/><circle cx="907.5" cy="269.5" r="3.08"/><circle cx="912.5" cy="269.5" r="3.08"/><circle cx="918.5" cy="269.5" r="3.08"/><circle cx="924.5" cy="269.5" r="3.08"/><circle cx="929.5" cy="269.5" r="3.08"/><circle cx="935.5" cy="269.5" r="3.08"/><circle cx="941.5" cy="269.5" r="3.08"/><circle cx="946.5" cy="269.5" r="3.08"/><circle cx="952.5" cy="269.5" r="3.08"/><circle cx="957.5" cy="269.5" r="3.08"/><circle cx="963.5" cy="269.5" r="3.08"/><circle cx="969.5" cy="269.5" r="3.08"/><circle cx="974.5" cy="269.5" r="3.08"/><circle cx="980.5" cy="269.5" r="3.08"/><circle cx="986.5" cy="269.5" r="3.08"/><circle cx="991.5" cy="269.5" r="3.08"/><circle cx="997.5" cy="269.5" r="3.08"/><circle cx="1003.5" cy="269.5" r="3.08"/><circle cx="1008.5" cy="269.5" r="3.08"/><circle cx="1014.5" cy="269.5" r="3.08"/><circle cx="1019.5" cy="269.5" r="3.08"/><circle cx="1025.5" cy="269.5" r="3.08"/><circle cx="1031.5" cy="269.5" r="3.08"/><circle cx="1036.5" cy="269.5" r="3.08"/><circle cx="1042.5" cy="269.5" r="3.08"/><circle cx="1048.5" cy="269.5" r="3.08"/><circle cx="1053.5" cy="269.5" r="3.08"/><circle cx="1059.5" cy="269.5" r="3.08"/><circle cx="1065.5" cy="269.5" r="3.08"/><circle cx="1070.5" cy="269.5" r="3.08"/><circle cx="1076.5" cy="269.5" r="3.08"/><circle cx="1081.5" cy="269.5" r="3.08"/><circle cx="1087.5" cy="269.5" r="3.08"/><circle cx="1093.5" cy="269.5" r="3.08"/><circle cx="1098.5" cy="269.5" r="3.08"/><circle cx="1104.5" cy="269.5" r="3.08"/><circle cx="1110.5" cy="269.5" r="3.08"/><circle cx="1115.5" cy="269.5" r="3.08"/><circle cx="1121.5" cy="269.5" r="3.08"/><circle cx="1127.5" cy="269.5" r="3.08"/><circle cx="1132.5" cy="269.5" r="3.08"/><circle cx="1138.5" cy="269.5" r="3.08"/><circle cx="1143.5" cy="269.5" r="3.08"/><circle cx="738.5" cy="261.5" r="3.08"/><circle cx="743.5" cy="261.5" r="3.08"/><circle cx="749.5" cy="261.5" r="3.08"/><circle cx="755.5" cy="261.5" r="3.08"/><circle cx="760.5" cy="261.5" r="3.08"/><circle cx="766.5" cy="261.5" r="3.08"/><circle cx="771.5" cy="261.5" r="3.08"/><circle cx="777.5" cy="261.5" r="3.08"/><circle cx="783.5" cy="261.5" r="3.08"/><circle cx="788.5" cy="261.5" r="3.08"/><circle cx="794.5" cy="261.5" r="3.08"/><circle cx="800.5" cy="261.5" r="3.08"/><circle cx="805.5" cy="261.5" r="3.08"/><circle cx="811.5" cy="261.5" r="3.08"/><circle cx="817.5" cy="261.5" r="3.08"/><circle cx="822.5" cy="261.5" r="3.08"/><circle cx="828.5" cy="261.5" r="3.08"/><circle cx="833.5" cy="261.5" r="3.08"/><circle cx="839.5" cy="261.5" r="3.08"/><circle cx="845.5" cy="261.5" r="3.08"/><circle cx="850.5" cy="261.5" r="3.08"/><circle cx="856.5" cy="261.5" r="3.08"/><circle cx="862.5" cy="261.5" r="3.08"/><circle cx="867.5" cy="261.5" r="3.08"/><circle cx="873.5" cy="261.5" r="3.08"/><circle cx="879.5" cy="261.5" r="3.08"/><circle cx="884.5" cy="261.5" r="3.08"/><circle cx="890.5" cy="261.5" r="3.08"/><circle cx="895.5" cy="261.5" r="3.08"/><circle cx="901.5" cy="261.5" r="3.08"/><circle cx="907.5" cy="261.5" r="3.08"/><circle cx="912.5" cy="261.5" r="3.08"/><circle cx="918.5" cy="261.5" r="3.08"/><circle cx="924.5" cy="261.5" r="3.08"/><circle cx="929.5" cy="261.5" r="3.08"/><circle cx="935.5" cy="261.5" r="3.08"/><circle cx="941.5" cy="261.5" r="3.08"/><circle cx="946.5" cy="261.5" r="3.08"/><circle cx="952.5" cy="261.5" r="3.08"/><circle cx="957.5" cy="261.5" r="3.08"/><circle cx="963.5" cy="261.5" r="3.08"/><circle cx="969.5" cy="261.5" r="3.08"/><circle cx="974.5" cy="261.5" r="3.08"/><circle cx="980.5" cy="261.5" r="3.08"/><circle cx="986.5" cy="261.5" r="3.08"/><circle cx="991.5" cy="261.5" r="3.08"/><circle cx="997.5" cy="261.5" r="3.08"/><circle cx="1003.5" cy="261.5" r="3.08"/><circle cx="1008.5" cy="261.5" r="3.08"/><circle cx="1014.5" cy="261.5" r="3.08"/><circle cx="1019.5" cy="261.5" r="3.08"/><circle cx="1025.5" cy="261.5" r="3.08"/><circle cx="1031.5" cy="261.5" r="3.08"/><circle cx="1036.5" cy="261.5" r="3.08"/><circle cx="1042.5" cy="261.5" r="3.08"/><circle cx="1048.5" cy="261.5" r="3.08"/><circle cx="1053.5" cy="261.5" r="3.08"/><circle cx="1059.5" cy="261.5" r="3.08"/><circle cx="1065.5" cy="261.5" r="3.08"/><circle cx="1070.5" cy="261.5" r="3.08"/><circle cx="1076.5" cy="261.5" r="3.08"/><circle cx="1081.5" cy="261.5" r="3.08"/><circle cx="1087.5" cy="261.5" r="3.08"/><circle cx="1093.5" cy="261.5" r="3.08"/><circle cx="1098.5" cy="261.5" r="3.08"/><circle cx="1104.5" cy="261.5" r="3.08"/><circle cx="1110.5" cy="261.5" r="3.08"/><circle cx="1115.5" cy="261.5" r="3.08"/><circle cx="1121.5" cy="261.5" r="3.08"/><circle cx="1127.5" cy="261.5" r="3.08"/><circle cx="1132.5" cy="261.5" r="3.08"/><circle cx="1138.5" cy="261.5" r="3.08"/><circle cx="1143.5" cy="261.5" r="3.08"/><circle cx="738.5" cy="254.5" r="3.08"/><circle cx="743.5" cy="254.5" r="3.08"/><circle cx="749.5" cy="254.5" r="3.08"/><circle cx="755.5" cy="254.5" r="3.08"/><circle cx="760.5" cy="254.5" r="3.08"/><circle cx="766.5" cy="254.5" r="3.08"/><circle cx="771.5" cy="254.5" r="3.08"/><circle cx="777.5" cy="254.5" r="3.08"/><circle cx="783.5" cy="254.5" r="3.08"/><circle cx="788.5" cy="254.5" r="3.08"/><circle cx="794.5" cy="254.5" r="3.08"/><circle cx="800.5" cy="254.5" r="3.08"/><circle cx="805.5" cy="254.5" r="3.08"/><circle cx="811.5" cy="254.5" r="3.08"/><circle cx="817.5" cy="254.5" r="3.08"/><circle cx="822.5" cy="254.5" r="3.08"/><circle cx="828.5" cy="254.5" r="3.08"/><circle cx="833.5" cy="254.5" r="3.08"/><circle cx="839.5" cy="254.5" r="3.08"/><circle cx="845.5" cy="254.5" r="3.08"/><circle cx="850.5" cy="254.5" r="3.08"/><circle cx="856.5" cy="254.5" r="3.08"/><circle cx="862.5" cy="254.5" r="3.08"/><circle cx="867.5" cy="254.5" r="3.08"/><circle cx="873.5" cy="254.5" r="3.08"/><circle cx="879.5" cy="254.5" r="3.08"/><circle cx="884.5" cy="254.5" r="3.08"/><circle cx="890.5" cy="254.5" r="3.08"/><circle cx="895.5" cy="254.5" r="3.08"/><circle cx="901.5" cy="254.5" r="3.08"/><circle cx="907.5" cy="254.5" r="3.08"/><circle cx="912.5" cy="254.5" r="3.08"/><circle cx="918.5" cy="254.5" r="3.08"/><circle cx="924.5" cy="254.5" r="3.08"/><circle cx="929.5" cy="254.5" r="3.08"/><circle cx="935.5" cy="254.5" r="3.08"/><circle cx="941.5" cy="254.5" r="3.08"/><circle cx="946.5" cy="254.5" r="3.08"/><circle cx="952.5" cy="254.5" r="3.08"/><circle cx="957.5" cy="254.5" r="3.08"/><circle cx="963.5" cy="254.5" r="3.08"/><circle cx="969.5" cy="254.5" r="3.08"/><circle cx="974.5" cy="254.5" r="3.08"/><circle cx="980.5" cy="254.5" r="3.08"/><circle cx="986.5" cy="254.5" r="3.08"/><circle cx="991.5" cy="254.5" r="3.08"/><circle cx="997.5" cy="254.5" r="3.08"/><circle cx="1003.5" cy="254.5" r="3.08"/><circle cx="1008.5" cy="254.5" r="3.08"/><circle cx="1014.5" cy="254.5" r="3.08"/><circle cx="1019.5" cy="254.5" r="3.08"/><circle cx="1025.5" cy="254.5" r="3.08"/><circle cx="1031.5" cy="254.5" r="3.08"/><circle cx="1036.5" cy="254.5" r="3.08"/><circle cx="1042.5" cy="254.5" r="3.08"/><circle cx="1048.5" cy="254.5" r="3.08"/><circle cx="1053.5" cy="254.5" r="3.08"/><circle cx="1059.5" cy="254.5" r="3.08"/><circle cx="1065.5" cy="254.5" r="3.08"/><circle cx="1070.5" cy="254.5" r="3.08"/><circle cx="1076.5" cy="254.5" r="3.08"/><circle cx="1081.5" cy="254.5" r="3.08"/><circle cx="1087.5" cy="254.5" r="3.08"/><circle cx="1093.5" cy="254.5" r="3.08"/><circle cx="1098.5" cy="254.5" r="3.08"/><circle cx="1104.5" cy="254.5" r="3.08"/><circle cx="1110.5" cy="254.5" r="3.08"/><circle cx="1115.5" cy="254.5" r="3.08"/><circle cx="1121.5" cy="254.5" r="3.08"/><circle cx="1127.5" cy="254.5" r="3.08"/><circle cx="1132.5" cy="254.5" r="3.08"/><circle cx="1138.5" cy="254.5" r="3.08"/><circle cx="738.5" cy="246.5" r="3.08"/><circle cx="743.5" cy="246.5" r="3.08"/><circle cx="749.5" cy="246.5" r="3.08"/><circle cx="755.5" cy="246.5" r="3.08"/><circle cx="760.5" cy="246.5" r="3.08"/><circle cx="766.5" cy="246.5" r="3.08"/><circle cx="771.5" cy="246.5" r="3.08"/><circle cx="777.5" cy="246.5" r="3.08"/><circle cx="783.5" cy="246.5" r="3.08"/><circle cx="788.5" cy="246.5" r="3.08"/><circle cx="794.5" cy="246.5" r="3.08"/><circle cx="800.5" cy="246.5" r="3.08"/><circle cx="805.5" cy="246.5" r="3.08"/><circle cx="811.5" cy="246.5" r="3.08"/><circle cx="817.5" cy="246.5" r="3.08"/><circle cx="822.5" cy="246.5" r="3.08"/><circle cx="828.5" cy="246.5" r="3.08"/><circle cx="833.5" cy="246.5" r="3.08"/><circle cx="839.5" cy="246.5" r="3.08"/><circle cx="845.5" cy="246.5" r="3.08"/><circle cx="850.5" cy="246.5" r="3.08"/><circle cx="856.5" cy="246.5" r="3.08"/><circle cx="862.5" cy="246.5" r="3.08"/><circle cx="867.5" cy="246.5" r="3.08"/><circle cx="873.5" cy="246.5" r="3.08"/><circle cx="879.5" cy="246.5" r="3.08"/><circle cx="884.5" cy="246.5" r="3.08"/><circle cx="890.5" cy="246.5" r="3.08"/><circle cx="895.5" cy="246.5" r="3.08"/><circle cx="901.5" cy="246.5" r="3.08"/><circle cx="907.5" cy="246.5" r="3.08"/><circle cx="912.5" cy="246.5" r="3.08"/><circle cx="918.5" cy="246.5" r="3.08"/><circle cx="924.5" cy="246.5" r="3.08"/><circle cx="929.5" cy="246.5" r="3.08"/><circle cx="935.5" cy="246.5" r="3.08"/><circle cx="941.5" cy="246.5" r="3.08"/><circle cx="946.5" cy="246.5" r="3.08"/><circle cx="952.5" cy="246.5" r="3.08"/><circle cx="957.5" cy="246.5" r="3.08"/><circle cx="963.5" cy="246.5" r="3.08"/><circle cx="969.5" cy="246.5" r="3.08"/><circle cx="974.5" cy="246.5" r="3.08"/><circle cx="980.5" cy="246.5" r="3.08"/><circle cx="986.5" cy="246.5" r="3.08"/><circle cx="991.5" cy="246.5" r="3.08"/><circle cx="997.5" cy="246.5" r="3.08"/><circle cx="1003.5" cy="246.5" r="3.08"/><circle cx="1008.5" cy="246.5" r="3.08"/><circle cx="1014.5" cy="246.5" r="3.08"/><circle cx="1019.5" cy="246.5" r="3.08"/><circle cx="1025.5" cy="246.5" r="3.08"/><circle cx="1031.5" cy="246.5" r="3.08"/><circle cx="1036.5" cy="246.5" r="3.08"/><circle cx="1042.5" cy="246.5" r="3.08"/><circle cx="1048.5" cy="246.5" r="3.08"/><circle cx="1053.5" cy="246.5" r="3.08"/><circle cx="1059.5" cy="246.5" r="3.08"/><circle cx="1065.5" cy="246.5" r="3.08"/><circle cx="1070.5" cy="246.5" r="3.08"/><circle cx="1076.5" cy="246.5" r="3.08"/><circle cx="1081.5" cy="246.5" r="3.08"/><circle cx="1087.5" cy="246.5" r="3.08"/><circle cx="1093.5" cy="246.5" r="3.08"/><circle cx="1098.5" cy="246.5" r="3.08"/><circle cx="1104.5" cy="246.5" r="3.08"/><circle cx="1110.5" cy="246.5" r="3.08"/><circle cx="1115.5" cy="246.5" r="3.08"/><circle cx="1121.5" cy="246.5" r="3.08"/><circle cx="1127.5" cy="246.5" r="3.08"/><circle cx="1132.5" cy="246.5" r="3.08"/><circle cx="738.5" cy="238.5" r="3.08"/><circle cx="743.5" cy="238.5" r="3.08"/><circle cx="749.5" cy="238.5" r="3.08"/><circle cx="755.5" cy="238.5" r="3.08"/><circle cx="760.5" cy="238.5" r="3.08"/><circle cx="766.5" cy="238.5" r="3.08"/><circle cx="771.5" cy="238.5" r="3.08"/><circle cx="777.5" cy="238.5" r="3.08"/><circle cx="783.5" cy="238.5" r="3.08"/><circle cx="788.5" cy="238.5" r="3.08"/><circle cx="794.5" cy="238.5" r="3.08"/><circle cx="800.5" cy="238.5" r="3.08"/><circle cx="805.5" cy="238.5" r="3.08"/><circle cx="811.5" cy="238.5" r="3.08"/><circle cx="817.5" cy="238.5" r="3.08"/><circle cx="822.5" cy="238.5" r="3.08"/><circle cx="828.5" cy="238.5" r="3.08"/><circle cx="833.5" cy="238.5" r="3.08"/><circle cx="839.5" cy="238.5" r="3.08"/><circle cx="845.5" cy="238.5" r="3.08"/><circle cx="850.5" cy="238.5" r="3.08"/><circle cx="856.5" cy="238.5" r="3.08"/><circle cx="862.5" cy="238.5" r="3.08"/><circle cx="867.5" cy="238.5" r="3.08"/><circle cx="873.5" cy="238.5" r="3.08"/><circle cx="879.5" cy="238.5" r="3.08"/><circle cx="884.5" cy="238.5" r="3.08"/><circle cx="890.5" cy="238.5" r="3.08"/><circle cx="895.5" cy="238.5" r="3.08"/><circle cx="901.5" cy="238.5" r="3.08"/><circle cx="907.5" cy="238.5" r="3.08"/><circle cx="912.5" cy="238.5" r="3.08"/><circle cx="918.5" cy="238.5" r="3.08"/><circle cx="924.5" cy="238.5" r="3.08"/><circle cx="929.5" cy="238.5" r="3.08"/><circle cx="935.5" cy="238.5" r="3.08"/><circle cx="941.5" cy="238.5" r="3.08"/><circle cx="946.5" cy="238.5" r="3.08"/><circle cx="952.5" cy="238.5" r="3.08"/><circle cx="957.5" cy="238.5" r="3.08"/><circle cx="963.5" cy="238.5" r="3.08"/><circle cx="969.5" cy="238.5" r="3.08"/><circle cx="974.5" cy="238.5" r="3.08"/><circle cx="980.5" cy="238.5" r="3.08"/><circle cx="986.5" cy="238.5" r="3.08"/><circle cx="991.5" cy="238.5" r="3.08"/><circle cx="997.5" cy="238.5" r="3.08"/><circle cx="1003.5" cy="238.5" r="3.08"/><circle cx="1008.5" cy="238.5" r="3.08"/><circle cx="1014.5" cy="238.5" r="3.08"/><circle cx="1019.5" cy="238.5" r="3.08"/><circle cx="1025.5" cy="238.5" r="3.08"/><circle cx="1031.5" cy="238.5" r="3.08"/><circle cx="1036.5" cy="238.5" r="3.08"/><circle cx="1042.5" cy="238.5" r="3.08"/><circle cx="1048.5" cy="238.5" r="3.08"/><circle cx="1053.5" cy="238.5" r="3.08"/><circle cx="1059.5" cy="238.5" r="3.08"/><circle cx="1065.5" cy="238.5" r="3.08"/><circle cx="1070.5" cy="238.5" r="3.08"/><circle cx="1076.5" cy="238.5" r="3.08"/><circle cx="1081.5" cy="238.5" r="3.08"/><circle cx="1087.5" cy="238.5" r="3.08"/><circle cx="1093.5" cy="238.5" r="3.08"/><circle cx="1098.5" cy="238.5" r="3.08"/><circle cx="1104.5" cy="238.5" r="3.08"/><circle cx="1110.5" cy="238.5" r="3.08"/><circle cx="1115.5" cy="238.5" r="3.08"/><circle cx="1121.5" cy="238.5" r="3.08"/><circle cx="1127.5" cy="238.5" r="3.08"/><circle cx="1132.5" cy="238.5" r="3.08"/><circle cx="738.5" cy="231.5" r="3.08"/><circle cx="743.5" cy="231.5" r="3.08"/><circle cx="749.5" cy="231.5" r="3.08"/><circle cx="755.5" cy="231.5" r="3.08"/><circle cx="760.5" cy="231.5" r="3.08"/><circle cx="766.5" cy="231.5" r="3.08"/><circle cx="771.5" cy="231.5" r="3.08"/><circle cx="777.5" cy="231.5" r="3.08"/><circle cx="783.5" cy="231.5" r="3.08"/><circle cx="788.5" cy="231.5" r="3.08"/><circle cx="794.5" cy="231.5" r="3.08"/><circle cx="800.5" cy="231.5" r="3.08"/><circle cx="805.5" cy="231.5" r="3.08"/><circle cx="811.5" cy="231.5" r="3.08"/><circle cx="817.5" cy="231.5" r="3.08"/><circle cx="822.5" cy="231.5" r="3.08"/><circle cx="828.5" cy="231.5" r="3.08"/><circle cx="833.5" cy="231.5" r="3.08"/><circle cx="839.5" cy="231.5" r="3.08"/><circle cx="845.5" cy="231.5" r="3.08"/><circle cx="850.5" cy="231.5" r="3.08"/><circle cx="856.5" cy="231.5" r="3.08"/><circle cx="862.5" cy="231.5" r="3.08"/><circle cx="867.5" cy="231.5" r="3.08"/><circle cx="873.5" cy="231.5" r="3.08"/><circle cx="879.5" cy="231.5" r="3.08"/><circle cx="884.5" cy="231.5" r="3.08"/><circle cx="890.5" cy="231.5" r="3.08"/><circle cx="895.5" cy="231.5" r="3.08"/><circle cx="901.5" cy="231.5" r="3.08"/><circle cx="907.5" cy="231.5" r="3.08"/><circle cx="912.5" cy="231.5" r="3.08"/><circle cx="918.5" cy="231.5" r="3.08"/><circle cx="924.5" cy="231.5" r="3.08"/><circle cx="929.5" cy="231.5" r="3.08"/><circle cx="935.5" cy="231.5" r="3.08"/><circle cx="941.5" cy="231.5" r="3.08"/><circle cx="946.5" cy="231.5" r="3.08"/><circle cx="952.5" cy="231.5" r="3.08"/><circle cx="957.5" cy="231.5" r="3.08"/><circle cx="963.5" cy="231.5" r="3.08"/><circle cx="969.5" cy="231.5" r="3.08"/><circle cx="974.5" cy="231.5" r="3.08"/><circle cx="980.5" cy="231.5" r="3.08"/><circle cx="986.5" cy="231.5" r="3.08"/><circle cx="991.5" cy="231.5" r="3.08"/><circle cx="997.5" cy="231.5" r="3.08"/><circle cx="1003.5" cy="231.5" r="3.08"/><circle cx="1008.5" cy="231.5" r="3.08"/><circle cx="1014.5" cy="231.5" r="3.08"/><circle cx="1019.5" cy="231.5" r="3.08"/><circle cx="1025.5" cy="231.5" r="3.08"/><circle cx="1031.5" cy="231.5" r="3.08"/><circle cx="1036.5" cy="231.5" r="3.08"/><circle cx="1042.5" cy="231.5" r="3.08"/><circle cx="1048.5" cy="231.5" r="3.08"/><circle cx="1053.5" cy="231.5" r="3.08"/><circle cx="1059.5" cy="231.5" r="3.08"/><circle cx="1065.5" cy="231.5" r="3.08"/><circle cx="1070.5" cy="231.5" r="3.08"/><circle cx="1076.5" cy="231.5" r="3.08"/><circle cx="1081.5" cy="231.5" r="3.08"/><circle cx="1087.5" cy="231.5" r="3.08"/><circle cx="1093.5" cy="231.5" r="3.08"/><circle cx="1098.5" cy="231.5" r="3.08"/><circle cx="1104.5" cy="231.5" r="3.08"/><circle cx="1110.5" cy="231.5" r="3.08"/><circle cx="1115.5" cy="231.5" r="3.08"/><circle cx="1121.5" cy="231.5" r="3.08"/><circle cx="1127.5" cy="231.5" r="3.08"/><circle cx="738.5" cy="223.5" r="3.08"/><circle cx="743.5" cy="223.5" r="3.08"/><circle cx="749.5" cy="223.5" r="3.08"/><circle cx="755.5" cy="223.5" r="3.08"/><circle cx="760.5" cy="223.5" r="3.08"/><circle cx="766.5" cy="223.5" r="3.08"/><circle cx="771.5" cy="223.5" r="3.08"/><circle cx="777.5" cy="223.5" r="3.08"/><circle cx="783.5" cy="223.5" r="3.08"/><circle cx="788.5" cy="223.5" r="3.08"/><circle cx="794.5" cy="223.5" r="3.08"/><circle cx="800.5" cy="223.5" r="3.08"/><circle cx="805.5" cy="223.5" r="3.08"/><circle cx="811.5" cy="223.5" r="3.08"/><circle cx="817.5" cy="223.5" r="3.08"/><circle cx="822.5" cy="223.5" r="3.08"/><circle cx="828.5" cy="223.5" r="3.08"/><circle cx="833.5" cy="223.5" r="3.08"/><circle cx="839.5" cy="223.5" r="3.08"/><circle cx="845.5" cy="223.5" r="3.08"/><circle cx="850.5" cy="223.5" r="3.08"/><circle cx="856.5" cy="223.5" r="3.08"/><circle cx="862.5" cy="223.5" r="3.08"/><circle cx="867.5" cy="223.5" r="3.08"/><circle cx="873.5" cy="223.5" r="3.08"/><circle cx="879.5" cy="223.5" r="3.08"/><circle cx="884.5" cy="223.5" r="3.08"/><circle cx="890.5" cy="223.5" r="3.08"/><circle cx="895.5" cy="223.5" r="3.08"/><circle cx="901.5" cy="223.5" r="3.08"/><circle cx="907.5" cy="223.5" r="3.08"/><circle cx="912.5" cy="223.5" r="3.08"/><circle cx="918.5" cy="223.5" r="3.08"/><circle cx="924.5" cy="223.5" r="3.08"/><circle cx="929.5" cy="223.5" r="3.08"/><circle cx="935.5" cy="223.5" r="3.08"/><circle cx="941.5" cy="223.5" r="3.08"/><circle cx="946.5" cy="223.5" r="3.08"/><circle cx="952.5" cy="223.5" r="3.08"/><circle cx="957.5" cy="223.5" r="3.08"/><circle cx="963.5" cy="223.5" r="3.08"/><circle cx="969.5" cy="223.5" r="3.08"/><circle cx="974.5" cy="223.5" r="3.08"/><circle cx="980.5" cy="223.5" r="3.08"/><circle cx="986.5" cy="223.5" r="3.08"/><circle cx="991.5" cy="223.5" r="3.08"/><circle cx="997.5" cy="223.5" r="3.08"/><circle cx="1003.5" cy="223.5" r="3.08"/><circle cx="1008.5" cy="223.5" r="3.08"/><circle cx="1014.5" cy="223.5" r="3.08"/><circle cx="1019.5" cy="223.5" r="3.08"/><circle cx="1025.5" cy="223.5" r="3.08"/><circle cx="1031.5" cy="223.5" r="3.08"/><circle cx="1036.5" cy="223.5" r="3.08"/><circle cx="1042.5" cy="223.5" r="3.08"/><circle cx="1048.5" cy="223.5" r="3.08"/><circle cx="1053.5" cy="223.5" r="3.08"/><circle cx="1059.5" cy="223.5" r="3.08"/><circle cx="1065.5" cy="223.5" r="3.08"/><circle cx="1070.5" cy="223.5" r="3.08"/><circle cx="1076.5" cy="223.5" r="3.08"/><circle cx="1081.5" cy="223.5" r="3.08"/><circle cx="1087.5" cy="223.5" r="3.08"/><circle cx="1093.5" cy="223.5" r="3.08"/><circle cx="1098.5" cy="223.5" r="3.08"/><circle cx="1104.5" cy="223.5" r="3.08"/><circle cx="1110.5" cy="223.5" r="3.08"/><circle cx="1115.5" cy="223.5" r="3.08"/><circle cx="1121.5" cy="223.5" r="3.08"/><circle cx="1127.5" cy="223.5" r="3.08"/><circle cx="738.5" cy="216.5" r="3.08"/><circle cx="743.5" cy="216.5" r="3.08"/><circle cx="749.5" cy="216.5" r="3.08"/><circle cx="755.5" cy="216.5" r="3.08"/><circle cx="760.5" cy="216.5" r="3.08"/><circle cx="766.5" cy="216.5" r="3.08"/><circle cx="771.5" cy="216.5" r="3.08"/><circle cx="777.5" cy="216.5" r="3.08"/><circle cx="783.5" cy="216.5" r="3.08"/><circle cx="788.5" cy="216.5" r="3.08"/><circle cx="794.5" cy="216.5" r="3.08"/><circle cx="800.5" cy="216.5" r="3.08"/><circle cx="805.5" cy="216.5" r="3.08"/><circle cx="811.5" cy="216.5" r="3.08"/><circle cx="817.5" cy="216.5" r="3.08"/><circle cx="822.5" cy="216.5" r="3.08"/><circle cx="828.5" cy="216.5" r="3.08"/><circle cx="833.5" cy="216.5" r="3.08"/><circle cx="839.5" cy="216.5" r="3.08"/><circle cx="845.5" cy="216.5" r="3.08"/><circle cx="850.5" cy="216.5" r="3.08"/><circle cx="856.5" cy="216.5" r="3.08"/><circle cx="862.5" cy="216.5" r="3.08"/><circle cx="867.5" cy="216.5" r="3.08"/><circle cx="873.5" cy="216.5" r="3.08"/><circle cx="879.5" cy="216.5" r="3.08"/><circle cx="884.5" cy="216.5" r="3.08"/><circle cx="890.5" cy="216.5" r="3.08"/><circle cx="895.5" cy="216.5" r="3.08"/><circle cx="901.5" cy="216.5" r="3.08"/><circle cx="907.5" cy="216.5" r="3.08"/><circle cx="912.5" cy="216.5" r="3.08"/><circle cx="918.5" cy="216.5" r="3.08"/><circle cx="924.5" cy="216.5" r="3.08"/><circle cx="929.5" cy="216.5" r="3.08"/><circle cx="935.5" cy="216.5" r="3.08"/><circle cx="941.5" cy="216.5" r="3.08"/><circle cx="946.5" cy="216.5" r="3.08"/><circle cx="952.5" cy="216.5" r="3.08"/><circle cx="957.5" cy="216.5" r="3.08"/><circle cx="963.5" cy="216.5" r="3.08"/><circle cx="969.5" cy="216.5" r="3.08"/><circle cx="974.5" cy="216.5" r="3.08"/><circle cx="980.5" cy="216.5" r="3.08"/><circle cx="986.5" cy="216.5" r="3.08"/><circle cx="991.5" cy="216.5" r="3.08"/><circle cx="997.5" cy="216.5" r="3.08"/><circle cx="1003.5" cy="216.5" r="3.08"/><circle cx="1008.5" cy="216.5" r="3.08"/><circle cx="1014.5" cy="216.5" r="3.08"/><circle cx="1019.5" cy="216.5" r="3.08"/><circle cx="1025.5" cy="216.5" r="3.08"/><circle cx="1031.5" cy="216.5" r="3.08"/><circle cx="1036.5" cy="216.5" r="3.08"/><circle cx="1042.5" cy="216.5" r="3.08"/><circle cx="1048.5" cy="216.5" r="3.08"/><circle cx="1053.5" cy="216.5" r="3.08"/><circle cx="1059.5" cy="216.5" r="3.08"/><circle cx="1065.5" cy="216.5" r="3.08"/><circle cx="1070.5" cy="216.5" r="3.08"/><circle cx="1076.5" cy="216.5" r="3.08"/><circle cx="1081.5" cy="216.5" r="3.08"/><circle cx="1087.5" cy="216.5" r="3.08"/><circle cx="1093.5" cy="216.5" r="3.08"/><circle cx="1098.5" cy="216.5" r="3.08"/><circle cx="1104.5" cy="216.5" r="3.08"/><circle cx="1110.5" cy="216.5" r="3.08"/><circle cx="1115.5" cy="216.5" r="3.08"/><circle cx="1121.5" cy="216.5" r="3.08"/><circle cx="738.5" cy="208.5" r="3.08"/><circle cx="743.5" cy="208.5" r="3.08"/><circle cx="749.5" cy="208.5" r="3.08"/><circle cx="755.5" cy="208.5" r="3.08"/><circle cx="760.5" cy="208.5" r="3.08"/><circle cx="766.5" cy="208.5" r="3.08"/><circle cx="771.5" cy="208.5" r="3.08"/><circle cx="777.5" cy="208.5" r="3.08"/><circle cx="783.5" cy="208.5" r="3.08"/><circle cx="788.5" cy="208.5" r="3.08"/><circle cx="794.5" cy="208.5" r="3.08"/><circle cx="800.5" cy="208.5" r="3.08"/><circle cx="805.5" cy="208.5" r="3.08"/><circle cx="811.5" cy="208.5" r="3.08"/><circle cx="817.5" cy="208.5" r="3.08"/><circle cx="822.5" cy="208.5" r="3.08"/><circle cx="828.5" cy="208.5" r="3.08"/><circle cx="833.5" cy="208.5" r="3.08"/><circle cx="839.5" cy="208.5" r="3.08"/><circle cx="845.5" cy="208.5" r="3.08"/><circle cx="850.5" cy="208.5" r="3.08"/><circle cx="856.5" cy="208.5" r="3.08"/><circle cx="862.5" cy="208.5" r="3.08"/><circle cx="867.5" cy="208.5" r="3.08"/><circle cx="873.5" cy="208.5" r="3.08"/><circle cx="879.5" cy="208.5" r="3.08"/><circle cx="884.5" cy="208.5" r="3.08"/><circle cx="890.5" cy="208.5" r="3.08"/><circle cx="895.5" cy="208.5" r="3.08"/><circle cx="901.5" cy="208.5" r="3.08"/><circle cx="907.5" cy="208.5" r="3.08"/><circle cx="912.5" cy="208.5" r="3.08"/><circle cx="918.5" cy="208.5" r="3.08"/><circle cx="924.5" cy="208.5" r="3.08"/><circle cx="929.5" cy="208.5" r="3.08"/><circle cx="935.5" cy="208.5" r="3.08"/><circle cx="941.5" cy="208.5" r="3.08"/><circle cx="946.5" cy="208.5" r="3.08"/><circle cx="952.5" cy="208.5" r="3.08"/><circle cx="957.5" cy="208.5" r="3.08"/><circle cx="963.5" cy="208.5" r="3.08"/><circle cx="969.5" cy="208.5" r="3.08"/><circle cx="974.5" cy="208.5" r="3.08"/><circle cx="980.5" cy="208.5" r="3.08"/><circle cx="986.5" cy="208.5" r="3.08"/><circle cx="991.5" cy="208.5" r="3.08"/><circle cx="997.5" cy="208.5" r="3.08"/><circle cx="1003.5" cy="208.5" r="3.08"/><circle cx="1008.5" cy="208.5" r="3.08"/><circle cx="1014.5" cy="208.5" r="3.08"/><circle cx="1019.5" cy="208.5" r="3.08"/><circle cx="1025.5" cy="208.5" r="3.08"/><circle cx="1031.5" cy="208.5" r="3.08"/><circle cx="1036.5" cy="208.5" r="3.08"/><circle cx="1042.5" cy="208.5" r="3.08"/><circle cx="1048.5" cy="208.5" r="3.08"/><circle cx="1053.5" cy="208.5" r="3.08"/><circle cx="1059.5" cy="208.5" r="3.08"/><circle cx="1065.5" cy="208.5" r="3.08"/><circle cx="1070.5" cy="208.5" r="3.08"/><circle cx="1076.5" cy="208.5" r="3.08"/><circle cx="1081.5" cy="208.5" r="3.08"/><circle cx="1087.5" cy="208.5" r="3.08"/><circle cx="1093.5" cy="208.5" r="3.08"/><circle cx="1098.5" cy="208.5" r="3.08"/><circle cx="1104.5" cy="208.5" r="3.08"/><circle cx="1110.5" cy="208.5" r="3.08"/><circle cx="1115.5" cy="208.5" r="3.08"/><circle cx="738.5" cy="200.5" r="3.08"/><circle cx="743.5" cy="200.5" r="3.08"/><circle cx="749.5" cy="200.5" r="3.08"/><circle cx="755.5" cy="200.5" r="3.08"/><circle cx="760.5" cy="200.5" r="3.08"/><circle cx="766.5" cy="200.5" r="3.08"/><circle cx="771.5" cy="200.5" r="3.08"/><circle cx="777.5" cy="200.5" r="3.08"/><circle cx="783.5" cy="200.5" r="3.08"/><circle cx="788.5" cy="200.5" r="3.08"/><circle cx="794.5" cy="200.5" r="3.08"/><circle cx="800.5" cy="200.5" r="3.08"/><circle cx="805.5" cy="200.5" r="3.08"/><circle cx="811.5" cy="200.5" r="3.08"/><circle cx="817.5" cy="200.5" r="3.08"/><circle cx="822.5" cy="200.5" r="3.08"/><circle cx="828.5" cy="200.5" r="3.08"/><circle cx="833.5" cy="200.5" r="3.08"/><circle cx="839.5" cy="200.5" r="3.08"/><circle cx="845.5" cy="200.5" r="3.08"/><circle cx="850.5" cy="200.5" r="3.08"/><circle cx="856.5" cy="200.5" r="3.08"/><circle cx="862.5" cy="200.5" r="3.08"/><circle cx="867.5" cy="200.5" r="3.08"/><circle cx="873.5" cy="200.5" r="3.08"/><circle cx="879.5" cy="200.5" r="3.08"/><circle cx="884.5" cy="200.5" r="3.08"/><circle cx="890.5" cy="200.5" r="3.08"/><circle cx="895.5" cy="200.5" r="3.08"/><circle cx="901.5" cy="200.5" r="3.08"/><circle cx="907.5" cy="200.5" r="3.08"/><circle cx="912.5" cy="200.5" r="3.08"/><circle cx="918.5" cy="200.5" r="3.08"/><circle cx="924.5" cy="200.5" r="3.08"/><circle cx="929.5" cy="200.5" r="3.08"/><circle cx="935.5" cy="200.5" r="3.08"/><circle cx="941.5" cy="200.5" r="3.08"/><circle cx="946.5" cy="200.5" r="3.08"/><circle cx="952.5" cy="200.5" r="3.08"/><circle cx="957.5" cy="200.5" r="3.08"/><circle cx="963.5" cy="200.5" r="3.08"/><circle cx="969.5" cy="200.5" r="3.08"/><circle cx="974.5" cy="200.5" r="3.08"/><circle cx="980.5" cy="200.5" r="3.08"/><circle cx="986.5" cy="200.5" r="3.08"/><circle cx="991.5" cy="200.5" r="3.08"/><circle cx="997.5" cy="200.5" r="3.08"/><circle cx="1003.5" cy="200.5" r="3.08"/><circle cx="1008.5" cy="200.5" r="3.08"/><circle cx="1014.5" cy="200.5" r="3.08"/><circle cx="1019.5" cy="200.5" r="3.08"/><circle cx="1025.5" cy="200.5" r="3.08"/><circle cx="1031.5" cy="200.5" r="3.08"/><circle cx="1036.5" cy="200.5" r="3.08"/><circle cx="1042.5" cy="200.5" r="3.08"/><circle cx="1048.5" cy="200.5" r="3.08"/><circle cx="1053.5" cy="200.5" r="3.08"/><circle cx="1059.5" cy="200.5" r="3.08"/><circle cx="1065.5" cy="200.5" r="3.08"/><circle cx="1070.5" cy="200.5" r="3.08"/><circle cx="1076.5" cy="200.5" r="3.08"/><circle cx="1081.5" cy="200.5" r="3.08"/><circle cx="1087.5" cy="200.5" r="3.08"/><circle cx="1093.5" cy="200.5" r="3.08"/><circle cx="1098.5" cy="200.5" r="3.08"/><circle cx="1104.5" cy="200.5" r="3.08"/><circle cx="1110.5" cy="200.5" r="3.08"/><circle cx="738.5" cy="193.5" r="3.08"/><circle cx="743.5" cy="193.5" r="3.08"/><circle cx="749.5" cy="193.5" r="3.08"/><circle cx="755.5" cy="193.5" r="3.08"/><circle cx="760.5" cy="193.5" r="3.08"/><circle cx="766.5" cy="193.5" r="3.08"/><circle cx="771.5" cy="193.5" r="3.08"/><circle cx="777.5" cy="193.5" r="3.08"/><circle cx="783.5" cy="193.5" r="3.08"/><circle cx="788.5" cy="193.5" r="3.08"/><circle cx="794.5" cy="193.5" r="3.08"/><circle cx="800.5" cy="193.5" r="3.08"/><circle cx="805.5" cy="193.5" r="3.08"/><circle cx="811.5" cy="193.5" r="3.08"/><circle cx="817.5" cy="193.5" r="3.08"/><circle cx="822.5" cy="193.5" r="3.08"/><circle cx="828.5" cy="193.5" r="3.08"/><circle cx="833.5" cy="193.5" r="3.08"/><circle cx="839.5" cy="193.5" r="3.08"/><circle cx="845.5" cy="193.5" r="3.08"/><circle cx="850.5" cy="193.5" r="3.08"/><circle cx="856.5" cy="193.5" r="3.08"/><circle cx="862.5" cy="193.5" r="3.08"/><circle cx="867.5" cy="193.5" r="3.08"/><circle cx="873.5" cy="193.5" r="3.08"/><circle cx="879.5" cy="193.5" r="3.08"/><circle cx="884.5" cy="193.5" r="3.08"/><circle cx="890.5" cy="193.5" r="3.08"/><circle cx="895.5" cy="193.5" r="3.08"/><circle cx="901.5" cy="193.5" r="3.08"/><circle cx="907.5" cy="193.5" r="3.08"/><circle cx="912.5" cy="193.5" r="3.08"/><circle cx="918.5" cy="193.5" r="3.08"/><circle cx="924.5" cy="193.5" r="3.08"/><circle cx="929.5" cy="193.5" r="3.08"/><circle cx="935.5" cy="193.5" r="3.08"/><circle cx="941.5" cy="193.5" r="3.08"/><circle cx="946.5" cy="193.5" r="3.08"/><circle cx="952.5" cy="193.5" r="3.08"/><circle cx="957.5" cy="193.5" r="3.08"/><circle cx="963.5" cy="193.5" r="3.08"/><circle cx="969.5" cy="193.5" r="3.08"/><circle cx="974.5" cy="193.5" r="3.08"/><circle cx="980.5" cy="193.5" r="3.08"/><circle cx="986.5" cy="193.5" r="3.08"/><circle cx="991.5" cy="193.5" r="3.08"/><circle cx="997.5" cy="193.5" r="3.08"/><circle cx="1003.5" cy="193.5" r="3.08"/><circle cx="1008.5" cy="193.5" r="3.08"/><circle cx="1014.5" cy="193.5" r="3.08"/><circle cx="1019.5" cy="193.5" r="3.08"/><circle cx="1025.5" cy="193.5" r="3.08"/><circle cx="1031.5" cy="193.5" r="3.08"/><circle cx="1036.5" cy="193.5" r="3.08"/><circle cx="1042.5" cy="193.5" r="3.08"/><circle cx="1048.5" cy="193.5" r="3.08"/><circle cx="1053.5" cy="193.5" r="3.08"/><circle cx="1059.5" cy="193.5" r="3.08"/><circle cx="1065.5" cy="193.5" r="3.08"/><circle cx="1070.5" cy="193.5" r="3.08"/><circle cx="1076.5" cy="193.5" r="3.08"/><circle cx="1081.5" cy="193.5" r="3.08"/><circle cx="1087.5" cy="193.5" r="3.08"/><circle cx="1093.5" cy="193.5" r="3.08"/><circle cx="1098.5" cy="193.5" r="3.08"/><circle cx="1104.5" cy="193.5" r="3.08"/><circle cx="1110.5" cy="193.5" r="3.08"/><circle cx="738.5" cy="185.5" r="3.08"/><circle cx="743.5" cy="185.5" r="3.08"/><circle cx="749.5" cy="185.5" r="3.08"/><circle cx="755.5" cy="185.5" r="3.08"/><circle cx="760.5" cy="185.5" r="3.08"/><circle cx="766.5" cy="185.5" r="3.08"/><circle cx="771.5" cy="185.5" r="3.08"/><circle cx="777.5" cy="185.5" r="3.08"/><circle cx="783.5" cy="185.5" r="3.08"/><circle cx="788.5" cy="185.5" r="3.08"/><circle cx="794.5" cy="185.5" r="3.08"/><circle cx="800.5" cy="185.5" r="3.08"/><circle cx="805.5" cy="185.5" r="3.08"/><circle cx="811.5" cy="185.5" r="3.08"/><circle cx="817.5" cy="185.5" r="3.08"/><circle cx="822.5" cy="185.5" r="3.08"/><circle cx="828.5" cy="185.5" r="3.08"/><circle cx="833.5" cy="185.5" r="3.08"/><circle cx="839.5" cy="185.5" r="3.08"/><circle cx="845.5" cy="185.5" r="3.08"/><circle cx="850.5" cy="185.5" r="3.08"/><circle cx="856.5" cy="185.5" r="3.08"/><circle cx="862.5" cy="185.5" r="3.08"/><circle cx="867.5" cy="185.5" r="3.08"/><circle cx="873.5" cy="185.5" r="3.08"/><circle cx="879.5" cy="185.5" r="3.08"/><circle cx="884.5" cy="185.5" r="3.08"/><circle cx="890.5" cy="185.5" r="3.08"/><circle cx="895.5" cy="185.5" r="3.08"/><circle cx="901.5" cy="185.5" r="3.08"/><circle cx="907.5" cy="185.5" r="3.08"/><circle cx="912.5" cy="185.5" r="3.08"/><circle cx="918.5" cy="185.5" r="3.08"/><circle cx="924.5" cy="185.5" r="3.08"/><circle cx="929.5" cy="185.5" r="3.08"/><circle cx="935.5" cy="185.5" r="3.08"/><circle cx="941.5" cy="185.5" r="3.08"/><circle cx="946.5" cy="185.5" r="3.08"/><circle cx="952.5" cy="185.5" r="3.08"/><circle cx="957.5" cy="185.5" r="3.08"/><circle cx="963.5" cy="185.5" r="3.08"/><circle cx="969.5" cy="185.5" r="3.08"/><circle cx="974.5" cy="185.5" r="3.08"/><circle cx="980.5" cy="185.5" r="3.08"/><circle cx="986.5" cy="185.5" r="3.08"/><circle cx="991.5" cy="185.5" r="3.08"/><circle cx="997.5" cy="185.5" r="3.08"/><circle cx="1003.5" cy="185.5" r="3.08"/><circle cx="1008.5" cy="185.5" r="3.08"/><circle cx="1014.5" cy="185.5" r="3.08"/><circle cx="1019.5" cy="185.5" r="3.08"/><circle cx="1025.5" cy="185.5" r="3.08"/><circle cx="1031.5" cy="185.5" r="3.08"/><circle cx="1036.5" cy="185.5" r="3.08"/><circle cx="1042.5" cy="185.5" r="3.08"/><circle cx="1048.5" cy="185.5" r="3.08"/><circle cx="1053.5" cy="185.5" r="3.08"/><circle cx="1059.5" cy="185.5" r="3.08"/><circle cx="1065.5" cy="185.5" r="3.08"/><circle cx="1070.5" cy="185.5" r="3.08"/><circle cx="1076.5" cy="185.5" r="3.08"/><circle cx="1081.5" cy="185.5" r="3.08"/><circle cx="1087.5" cy="185.5" r="3.08"/><circle cx="1093.5" cy="185.5" r="3.08"/><circle cx="1098.5" cy="185.5" r="3.08"/><circle cx="1104.5" cy="185.5" r="3.08"/><circle cx="738.5" cy="178.5" r="3.08"/><circle cx="743.5" cy="178.5" r="3.08"/><circle cx="749.5" cy="178.5" r="3.08"/><circle cx="755.5" cy="178.5" r="3.08"/><circle cx="760.5" cy="178.5" r="3.08"/><circle cx="766.5" cy="178.5" r="3.08"/><circle cx="771.5" cy="178.5" r="3.08"/><circle cx="777.5" cy="178.5" r="3.08"/><circle cx="783.5" cy="178.5" r="3.08"/><circle cx="788.5" cy="178.5" r="3.08"/><circle cx="794.5" cy="178.5" r="3.08"/><circle cx="800.5" cy="178.5" r="3.08"/><circle cx="805.5" cy="178.5" r="3.08"/><circle cx="811.5" cy="178.5" r="3.08"/><circle cx="817.5" cy="178.5" r="3.08"/><circle cx="822.5" cy="178.5" r="3.08"/><circle cx="828.5" cy="178.5" r="3.08"/><circle cx="833.5" cy="178.5" r="3.08"/><circle cx="839.5" cy="178.5" r="3.08"/><circle cx="845.5" cy="178.5" r="3.08"/><circle cx="850.5" cy="178.5" r="3.08"/><circle cx="856.5" cy="178.5" r="3.08"/><circle cx="862.5" cy="178.5" r="3.08"/><circle cx="867.5" cy="178.5" r="3.08"/><circle cx="873.5" cy="178.5" r="3.08"/><circle cx="879.5" cy="178.5" r="3.08"/><circle cx="884.5" cy="178.5" r="3.08"/><circle cx="890.5" cy="178.5" r="3.08"/><circle cx="895.5" cy="178.5" r="3.08"/><circle cx="901.5" cy="178.5" r="3.08"/><circle cx="907.5" cy="178.5" r="3.08"/><circle cx="912.5" cy="178.5" r="3.08"/><circle cx="918.5" cy="178.5" r="3.08"/><circle cx="924.5" cy="178.5" r="3.08"/><circle cx="929.5" cy="178.5" r="3.08"/><circle cx="935.5" cy="178.5" r="3.08"/><circle cx="941.5" cy="178.5" r="3.08"/><circle cx="946.5" cy="178.5" r="3.08"/><circle cx="952.5" cy="178.5" r="3.08"/><circle cx="957.5" cy="178.5" r="3.08"/><circle cx="963.5" cy="178.5" r="3.08"/><circle cx="969.5" cy="178.5" r="3.08"/><circle cx="974.5" cy="178.5" r="3.08"/><circle cx="980.5" cy="178.5" r="3.08"/><circle cx="986.5" cy="178.5" r="3.08"/><circle cx="991.5" cy="178.5" r="3.08"/><circle cx="997.5" cy="178.5" r="3.08"/><circle cx="1003.5" cy="178.5" r="3.08"/><circle cx="1008.5" cy="178.5" r="3.08"/><circle cx="1014.5" cy="178.5" r="3.08"/><circle cx="1019.5" cy="178.5" r="3.08"/><circle cx="1025.5" cy="178.5" r="3.08"/><circle cx="1031.5" cy="178.5" r="3.08"/><circle cx="1036.5" cy="178.5" r="3.08"/><circle cx="1042.5" cy="178.5" r="3.08"/><circle cx="1048.5" cy="178.5" r="3.08"/><circle cx="1053.5" cy="178.5" r="3.08"/><circle cx="1059.5" cy="178.5" r="3.08"/><circle cx="1065.5" cy="178.5" r="3.08"/><circle cx="1070.5" cy="178.5" r="3.08"/><circle cx="1076.5" cy="178.5" r="3.08"/><circle cx="1081.5" cy="178.5" r="3.08"/><circle cx="1087.5" cy="178.5" r="3.08"/><circle cx="1093.5" cy="178.5" r="3.08"/><circle cx="1098.5" cy="178.5" r="3.08"/><circle cx="738.5" cy="170.5" r="3.08"/><circle cx="743.5" cy="170.5" r="3.08"/><circle cx="749.5" cy="170.5" r="3.08"/><circle cx="755.5" cy="170.5" r="3.08"/><circle cx="760.5" cy="170.5" r="3.08"/><circle cx="766.5" cy="170.5" r="3.08"/><circle cx="771.5" cy="170.5" r="3.08"/><circle cx="777.5" cy="170.5" r="3.08"/><circle cx="783.5" cy="170.5" r="3.08"/><circle cx="788.5" cy="170.5" r="3.08"/><circle cx="794.5" cy="170.5" r="3.08"/><circle cx="800.5" cy="170.5" r="3.08"/><circle cx="805.5" cy="170.5" r="3.08"/><circle cx="811.5" cy="170.5" r="3.08"/><circle cx="817.5" cy="170.5" r="3.08"/><circle cx="822.5" cy="170.5" r="3.08"/><circle cx="828.5" cy="170.5" r="3.08"/><circle cx="833.5" cy="170.5" r="3.08"/><circle cx="839.5" cy="170.5" r="3.08"/><circle cx="845.5" cy="170.5" r="3.08"/><circle cx="850.5" cy="170.5" r="3.08"/><circle cx="856.5" cy="170.5" r="3.08"/><circle cx="862.5" cy="170.5" r="3.08"/><circle cx="867.5" cy="170.5" r="3.08"/><circle cx="873.5" cy="170.5" r="3.08"/><circle cx="879.5" cy="170.5" r="3.08"/><circle cx="884.5" cy="170.5" r="3.08"/><circle cx="890.5" cy="170.5" r="3.08"/><circle cx="895.5" cy="170.5" r="3.08"/><circle cx="901.5" cy="170.5" r="3.08"/><circle cx="907.5" cy="170.5" r="3.08"/><circle cx="912.5" cy="170.5" r="3.08"/><circle cx="918.5" cy="170.5" r="3.08"/><circle cx="924.5" cy="170.5" r="3.08"/><circle cx="929.5" cy="170.5" r="3.08"/><circle cx="935.5" cy="170.5" r="3.08"/><circle cx="941.5" cy="170.5" r="3.08"/><circle cx="946.5" cy="170.5" r="3.08"/><circle cx="952.5" cy="170.5" r="3.08"/><circle cx="957.5" cy="170.5" r="3.08"/><circle cx="963.5" cy="170.5" r="3.08"/><circle cx="969.5" cy="170.5" r="3.08"/><circle cx="974.5" cy="170.5" r="3.08"/><circle cx="980.5" cy="170.5" r="3.08"/><circle cx="986.5" cy="170.5" r="3.08"/><circle cx="991.5" cy="170.5" r="3.08"/><circle cx="997.5" cy="170.5" r="3.08"/><circle cx="1003.5" cy="170.5" r="3.08"/><circle cx="1008.5" cy="170.5" r="3.08"/><circle cx="1014.5" cy="170.5" r="3.08"/><circle cx="1019.5" cy="170.5" r="3.08"/><circle cx="1025.5" cy="170.5" r="3.08"/><circle cx="1031.5" cy="170.5" r="3.08"/><circle cx="1036.5" cy="170.5" r="3.08"/><circle cx="1042.5" cy="170.5" r="3.08"/><circle cx="1048.5" cy="170.5" r="3.08"/><circle cx="1053.5" cy="170.5" r="3.08"/><circle cx="1059.5" cy="170.5" r="3.08"/><circle cx="1065.5" cy="170.5" r="3.08"/><circle cx="1070.5" cy="170.5" r="3.08"/><circle cx="1076.5" cy="170.5" r="3.08"/><circle cx="1081.5" cy="170.5" r="3.08"/><circle cx="1087.5" cy="170.5" r="3.08"/><circle cx="1093.5" cy="170.5" r="3.08"/><circle cx="738.5" cy="162.5" r="3.08"/><circle cx="743.5" cy="162.5" r="3.08"/><circle cx="749.5" cy="162.5" r="3.08"/><circle cx="755.5" cy="162.5" r="3.08"/><circle cx="760.5" cy="162.5" r="3.08"/><circle cx="766.5" cy="162.5" r="3.08"/><circle cx="771.5" cy="162.5" r="3.08"/><circle cx="777.5" cy="162.5" r="3.08"/><circle cx="783.5" cy="162.5" r="3.08"/><circle cx="788.5" cy="162.5" r="3.08"/><circle cx="794.5" cy="162.5" r="3.08"/><circle cx="800.5" cy="162.5" r="3.08"/><circle cx="805.5" cy="162.5" r="3.08"/><circle cx="811.5" cy="162.5" r="3.08"/><circle cx="817.5" cy="162.5" r="3.08"/><circle cx="822.5" cy="162.5" r="3.08"/><circle cx="828.5" cy="162.5" r="3.08"/><circle cx="833.5" cy="162.5" r="3.08"/><circle cx="839.5" cy="162.5" r="3.08"/><circle cx="845.5" cy="162.5" r="3.08"/><circle cx="850.5" cy="162.5" r="3.08"/><circle cx="856.5" cy="162.5" r="3.08"/><circle cx="862.5" cy="162.5" r="3.08"/><circle cx="867.5" cy="162.5" r="3.08"/><circle cx="873.5" cy="162.5" r="3.08"/><circle cx="879.5" cy="162.5" r="3.08"/><circle cx="884.5" cy="162.5" r="3.08"/><circle cx="890.5" cy="162.5" r="3.08"/><circle cx="895.5" cy="162.5" r="3.08"/><circle cx="901.5" cy="162.5" r="3.08"/><circle cx="907.5" cy="162.5" r="3.08"/><circle cx="912.5" cy="162.5" r="3.08"/><circle cx="918.5" cy="162.5" r="3.08"/><circle cx="924.5" cy="162.5" r="3.08"/><circle cx="929.5" cy="162.5" r="3.08"/><circle cx="935.5" cy="162.5" r="3.08"/><circle cx="941.5" cy="162.5" r="3.08"/><circle cx="946.5" cy="162.5" r="3.08"/><circle cx="952.5" cy="162.5" r="3.08"/><circle cx="957.5" cy="162.5" r="3.08"/><circle cx="963.5" cy="162.5" r="3.08"/><circle cx="969.5" cy="162.5" r="3.08"/><circle cx="974.5" cy="162.5" r="3.08"/><circle cx="980.5" cy="162.5" r="3.08"/><circle cx="986.5" cy="162.5" r="3.08"/><circle cx="991.5" cy="162.5" r="3.08"/><circle cx="997.5" cy="162.5" r="3.08"/><circle cx="1003.5" cy="162.5" r="3.08"/><circle cx="1008.5" cy="162.5" r="3.08"/><circle cx="1014.5" cy="162.5" r="3.08"/><circle cx="1019.5" cy="162.5" r="3.08"/><circle cx="1025.5" cy="162.5" r="3.08"/><circle cx="1031.5" cy="162.5" r="3.08"/><circle cx="1036.5" cy="162.5" r="3.08"/><circle cx="1042.5" cy="162.5" r="3.08"/><circle cx="1048.5" cy="162.5" r="3.08"/><circle cx="1053.5" cy="162.5" r="3.08"/><circle cx="1059.5" cy="162.5" r="3.08"/><circle cx="1065.5" cy="162.5" r="3.08"/><circle cx="1070.5" cy="162.5" r="3.08"/><circle cx="1076.5" cy="162.5" r="3.08"/><circle cx="1081.5" cy="162.5" r="3.08"/><circle cx="1087.5" cy="162.5" r="3.08"/><circle cx="1093.5" cy="162.5" r="3.08"/><circle cx="738.5" cy="155.5" r="3.08"/><circle cx="743.5" cy="155.5" r="3.08"/><circle cx="749.5" cy="155.5" r="3.08"/><circle cx="755.5" cy="155.5" r="3.08"/><circle cx="760.5" cy="155.5" r="3.08"/><circle cx="766.5" cy="155.5" r="3.08"/><circle cx="771.5" cy="155.5" r="3.08"/><circle cx="777.5" cy="155.5" r="3.08"/><circle cx="783.5" cy="155.5" r="3.08"/><circle cx="788.5" cy="155.5" r="3.08"/><circle cx="794.5" cy="155.5" r="3.08"/><circle cx="800.5" cy="155.5" r="3.08"/><circle cx="805.5" cy="155.5" r="3.08"/><circle cx="811.5" cy="155.5" r="3.08"/><circle cx="817.5" cy="155.5" r="3.08"/><circle cx="822.5" cy="155.5" r="3.08"/><circle cx="828.5" cy="155.5" r="3.08"/><circle cx="833.5" cy="155.5" r="3.08"/><circle cx="839.5" cy="155.5" r="3.08"/><circle cx="845.5" cy="155.5" r="3.08"/><circle cx="850.5" cy="155.5" r="3.08"/><circle cx="856.5" cy="155.5" r="3.08"/><circle cx="862.5" cy="155.5" r="3.08"/><circle cx="867.5" cy="155.5" r="3.08"/><circle cx="873.5" cy="155.5" r="3.08"/><circle cx="879.5" cy="155.5" r="3.08"/><circle cx="884.5" cy="155.5" r="3.08"/><circle cx="890.5" cy="155.5" r="3.08"/><circle cx="895.5" cy="155.5" r="3.08"/><circle cx="901.5" cy="155.5" r="3.08"/><circle cx="907.5" cy="155.5" r="3.08"/><circle cx="912.5" cy="155.5" r="3.08"/><circle cx="918.5" cy="155.5" r="3.08"/><circle cx="924.5" cy="155.5" r="3.08"/><circle cx="929.5" cy="155.5" r="3.08"/><circle cx="935.5" cy="155.5" r="3.08"/><circle cx="941.5" cy="155.5" r="3.08"/><circle cx="946.5" cy="155.5" r="3.08"/><circle cx="952.5" cy="155.5" r="3.08"/><circle cx="957.5" cy="155.5" r="3.08"/><circle cx="963.5" cy="155.5" r="3.08"/><circle cx="969.5" cy="155.5" r="3.08"/><circle cx="974.5" cy="155.5" r="3.08"/><circle cx="980.5" cy="155.5" r="3.08"/><circle cx="986.5" cy="155.5" r="3.08"/><circle cx="991.5" cy="155.5" r="3.08"/><circle cx="997.5" cy="155.5" r="3.08"/><circle cx="1003.5" cy="155.5" r="3.08"/><circle cx="1008.5" cy="155.5" r="3.08"/><circle cx="1014.5" cy="155.5" r="3.08"/><circle cx="1019.5" cy="155.5" r="3.08"/><circle cx="1025.5" cy="155.5" r="3.08"/><circle cx="1031.5" cy="155.5" r="3.08"/><circle cx="1036.5" cy="155.5" r="3.08"/><circle cx="1042.5" cy="155.5" r="3.08"/><circle cx="1048.5" cy="155.5" r="3.08"/><circle cx="1053.5" cy="155.5" r="3.08"/><circle cx="1059.5" cy="155.5" r="3.08"/><circle cx="1065.5" cy="155.5" r="3.08"/><circle cx="1070.5" cy="155.5" r="3.08"/><circle cx="1076.5" cy="155.5" r="3.08"/><circle cx="1081.5" cy="155.5" r="3.08"/><circle cx="1087.5" cy="155.5" r="3.08"/><circle cx="738.5" cy="147.5" r="3.08"/><circle cx="743.5" cy="147.5" r="3.08"/><circle cx="749.5" cy="147.5" r="3.08"/><circle cx="755.5" cy="147.5" r="3.08"/><circle cx="760.5" cy="147.5" r="3.08"/><circle cx="766.5" cy="147.5" r="3.08"/><circle cx="771.5" cy="147.5" r="3.08"/><circle cx="777.5" cy="147.5" r="3.08"/><circle cx="783.5" cy="147.5" r="3.08"/><circle cx="788.5" cy="147.5" r="3.08"/><circle cx="794.5" cy="147.5" r="3.08"/><circle cx="800.5" cy="147.5" r="3.08"/><circle cx="805.5" cy="147.5" r="3.08"/><circle cx="811.5" cy="147.5" r="3.08"/><circle cx="817.5" cy="147.5" r="3.08"/><circle cx="822.5" cy="147.5" r="3.08"/><circle cx="828.5" cy="147.5" r="3.08"/><circle cx="833.5" cy="147.5" r="3.08"/><circle cx="839.5" cy="147.5" r="3.08"/><circle cx="845.5" cy="147.5" r="3.08"/><circle cx="850.5" cy="147.5" r="3.08"/><circle cx="856.5" cy="147.5" r="3.08"/><circle cx="862.5" cy="147.5" r="3.08"/><circle cx="867.5" cy="147.5" r="3.08"/><circle cx="873.5" cy="147.5" r="3.08"/><circle cx="879.5" cy="147.5" r="3.08"/><circle cx="884.5" cy="147.5" r="3.08"/><circle cx="890.5" cy="147.5" r="3.08"/><circle cx="895.5" cy="147.5" r="3.08"/><circle cx="901.5" cy="147.5" r="3.08"/><circle cx="907.5" cy="147.5" r="3.08"/><circle cx="912.5" cy="147.5" r="3.08"/><circle cx="918.5" cy="147.5" r="3.08"/><circle cx="924.5" cy="147.5" r="3.08"/><circle cx="929.5" cy="147.5" r="3.08"/><circle cx="935.5" cy="147.5" r="3.08"/><circle cx="941.5" cy="147.5" r="3.08"/><circle cx="946.5" cy="147.5" r="3.08"/><circle cx="952.5" cy="147.5" r="3.08"/><circle cx="957.5" cy="147.5" r="3.08"/><circle cx="963.5" cy="147.5" r="3.08"/><circle cx="969.5" cy="147.5" r="3.08"/><circle cx="974.5" cy="147.5" r="3.08"/><circle cx="980.5" cy="147.5" r="3.08"/><circle cx="986.5" cy="147.5" r="3.08"/><circle cx="991.5" cy="147.5" r="3.08"/><circle cx="997.5" cy="147.5" r="3.08"/><circle cx="1003.5" cy="147.5" r="3.08"/><circle cx="1008.5" cy="147.5" r="3.08"/><circle cx="1014.5" cy="147.5" r="3.08"/><circle cx="1019.5" cy="147.5" r="3.08"/><circle cx="1025.5" cy="147.5" r="3.08"/><circle cx="1031.5" cy="147.5" r="3.08"/><circle cx="1036.5" cy="147.5" r="3.08"/><circle cx="1042.5" cy="147.5" r="3.08"/><circle cx="1048.5" cy="147.5" r="3.08"/><circle cx="1053.5" cy="147.5" r="3.08"/><circle cx="1059.5" cy="147.5" r="3.08"/><circle cx="1065.5" cy="147.5" r="3.08"/><circle cx="1070.5" cy="147.5" r="3.08"/><circle cx="1076.5" cy="147.5" r="3.08"/><circle cx="1081.5" cy="147.5" r="3.08"/><circle cx="738.5" cy="140.5" r="3.08"/><circle cx="743.5" cy="140.5" r="3.08"/><circle cx="749.5" cy="140.5" r="3.08"/><circle cx="755.5" cy="140.5" r="3.08"/><circle cx="760.5" cy="140.5" r="3.08"/><circle cx="766.5" cy="140.5" r="3.08"/><circle cx="771.5" cy="140.5" r="3.08"/><circle cx="777.5" cy="140.5" r="3.08"/><circle cx="783.5" cy="140.5" r="3.08"/><circle cx="788.5" cy="140.5" r="3.08"/><circle cx="794.5" cy="140.5" r="3.08"/><circle cx="800.5" cy="140.5" r="3.08"/><circle cx="805.5" cy="140.5" r="3.08"/><circle cx="811.5" cy="140.5" r="3.08"/><circle cx="817.5" cy="140.5" r="3.08"/><circle cx="822.5" cy="140.5" r="3.08"/><circle cx="828.5" cy="140.5" r="3.08"/><circle cx="833.5" cy="140.5" r="3.08"/><circle cx="839.5" cy="140.5" r="3.08"/><circle cx="845.5" cy="140.5" r="3.08"/><circle cx="850.5" cy="140.5" r="3.08"/><circle cx="856.5" cy="140.5" r="3.08"/><circle cx="862.5" cy="140.5" r="3.08"/><circle cx="867.5" cy="140.5" r="3.08"/><circle cx="873.5" cy="140.5" r="3.08"/><circle cx="879.5" cy="140.5" r="3.08"/><circle cx="884.5" cy="140.5" r="3.08"/><circle cx="890.5" cy="140.5" r="3.08"/><circle cx="895.5" cy="140.5" r="3.08"/><circle cx="901.5" cy="140.5" r="3.08"/><circle cx="907.5" cy="140.5" r="3.08"/><circle cx="912.5" cy="140.5" r="3.08"/><circle cx="918.5" cy="140.5" r="3.08"/><circle cx="924.5" cy="140.5" r="3.08"/><circle cx="929.5" cy="140.5" r="3.08"/><circle cx="935.5" cy="140.5" r="3.08"/><circle cx="941.5" cy="140.5" r="3.08"/><circle cx="946.5" cy="140.5" r="3.08"/><circle cx="952.5" cy="140.5" r="3.08"/><circle cx="957.5" cy="140.5" r="3.08"/><circle cx="963.5" cy="140.5" r="3.08"/><circle cx="969.5" cy="140.5" r="3.08"/><circle cx="974.5" cy="140.5" r="3.08"/><circle cx="980.5" cy="140.5" r="3.08"/><circle cx="986.5" cy="140.5" r="3.08"/><circle cx="991.5" cy="140.5" r="3.08"/><circle cx="997.5" cy="140.5" r="3.08"/><circle cx="1003.5" cy="140.5" r="3.08"/><circle cx="1008.5" cy="140.5" r="3.08"/><circle cx="1014.5" cy="140.5" r="3.08"/><circle cx="1019.5" cy="140.5" r="3.08"/><circle cx="1025.5" cy="140.5" r="3.08"/><circle cx="1031.5" cy="140.5" r="3.08"/><circle cx="1036.5" cy="140.5" r="3.08"/><circle cx="1042.5" cy="140.5" r="3.08"/><circle cx="1048.5" cy="140.5" r="3.08"/><circle cx="1053.5" cy="140.5" r="3.08"/><circle cx="1059.5" cy="140.5" r="3.08"/><circle cx="1065.5" cy="140.5" r="3.08"/><circle cx="1070.5" cy="140.5" r="3.08"/><circle cx="1076.5" cy="140.5" r="3.08"/><circle cx="738.5" cy="132.5" r="3.08"/><circle cx="743.5" cy="132.5" r="3.08"/><circle cx="749.5" cy="132.5" r="3.08"/><circle cx="755.5" cy="132.5" r="3.08"/><circle cx="760.5" cy="132.5" r="3.08"/><circle cx="766.5" cy="132.5" r="3.08"/><circle cx="771.5" cy="132.5" r="3.08"/><circle cx="777.5" cy="132.5" r="3.08"/><circle cx="783.5" cy="132.5" r="3.08"/><circle cx="788.5" cy="132.5" r="3.08"/><circle cx="794.5" cy="132.5" r="3.08"/><circle cx="800.5" cy="132.5" r="3.08"/><circle cx="805.5" cy="132.5" r="3.08"/><circle cx="811.5" cy="132.5" r="3.08"/><circle cx="817.5" cy="132.5" r="3.08"/><circle cx="822.5" cy="132.5" r="3.08"/><circle cx="828.5" cy="132.5" r="3.08"/><circle cx="833.5" cy="132.5" r="3.08"/><circle cx="839.5" cy="132.5" r="3.08"/><circle cx="845.5" cy="132.5" r="3.08"/><circle cx="850.5" cy="132.5" r="3.08"/><circle cx="856.5" cy="132.5" r="3.08"/><circle cx="862.5" cy="132.5" r="3.08"/><circle cx="867.5" cy="132.5" r="3.08"/><circle cx="873.5" cy="132.5" r="3.08"/><circle cx="879.5" cy="132.5" r="3.08"/><circle cx="884.5" cy="132.5" r="3.08"/><circle cx="890.5" cy="132.5" r="3.08"/><circle cx="895.5" cy="132.5" r="3.08"/><circle cx="901.5" cy="132.5" r="3.08"/><circle cx="907.5" cy="132.5" r="3.08"/><circle cx="912.5" cy="132.5" r="3.08"/><circle cx="918.5" cy="132.5" r="3.08"/><circle cx="924.5" cy="132.5" r="3.08"/><circle cx="929.5" cy="132.5" r="3.08"/><circle cx="935.5" cy="132.5" r="3.08"/><circle cx="941.5" cy="132.5" r="3.08"/><circle cx="946.5" cy="132.5" r="3.08"/><circle cx="952.5" cy="132.5" r="3.08"/><circle cx="957.5" cy="132.5" r="3.08"/><circle cx="963.5" cy="132.5" r="3.08"/><circle cx="969.5" cy="132.5" r="3.08"/><circle cx="974.5" cy="132.5" r="3.08"/><circle cx="980.5" cy="132.5" r="3.08"/><circle cx="986.5" cy="132.5" r="3.08"/><circle cx="991.5" cy="132.5" r="3.08"/><circle cx="997.5" cy="132.5" r="3.08"/><circle cx="1003.5" cy="132.5" r="3.08"/><circle cx="1008.5" cy="132.5" r="3.08"/><circle cx="1014.5" cy="132.5" r="3.08"/><circle cx="1019.5" cy="132.5" r="3.08"/><circle cx="1025.5" cy="132.5" r="3.08"/><circle cx="1031.5" cy="132.5" r="3.08"/><circle cx="1036.5" cy="132.5" r="3.08"/><circle cx="1042.5" cy="132.5" r="3.08"/><circle cx="1048.5" cy="132.5" r="3.08"/><circle cx="1053.5" cy="132.5" r="3.08"/><circle cx="1059.5" cy="132.5" r="3.08"/><circle cx="1065.5" cy="132.5" r="3.08"/><circle cx="1070.5" cy="132.5" r="3.08"/><circle cx="738.5" cy="124.5" r="3.08"/><circle cx="743.5" cy="124.5" r="3.08"/><circle cx="749.5" cy="124.5" r="3.08"/><circle cx="755.5" cy="124.5" r="3.08"/><circle cx="760.5" cy="124.5" r="3.08"/><circle cx="766.5" cy="124.5" r="3.08"/><circle cx="771.5" cy="124.5" r="3.08"/><circle cx="777.5" cy="124.5" r="3.08"/><circle cx="783.5" cy="124.5" r="3.08"/><circle cx="788.5" cy="124.5" r="3.08"/><circle cx="794.5" cy="124.5" r="3.08"/><circle cx="800.5" cy="124.5" r="3.08"/><circle cx="805.5" cy="124.5" r="3.08"/><circle cx="811.5" cy="124.5" r="3.08"/><circle cx="817.5" cy="124.5" r="3.08"/><circle cx="822.5" cy="124.5" r="3.08"/><circle cx="828.5" cy="124.5" r="3.08"/><circle cx="833.5" cy="124.5" r="3.08"/><circle cx="839.5" cy="124.5" r="3.08"/><circle cx="845.5" cy="124.5" r="3.08"/><circle cx="850.5" cy="124.5" r="3.08"/><circle cx="856.5" cy="124.5" r="3.08"/><circle cx="862.5" cy="124.5" r="3.08"/><circle cx="867.5" cy="124.5" r="3.08"/><circle cx="873.5" cy="124.5" r="3.08"/><circle cx="879.5" cy="124.5" r="3.08"/><circle cx="884.5" cy="124.5" r="3.08"/><circle cx="890.5" cy="124.5" r="3.08"/><circle cx="895.5" cy="124.5" r="3.08"/><circle cx="901.5" cy="124.5" r="3.08"/><circle cx="907.5" cy="124.5" r="3.08"/><circle cx="912.5" cy="124.5" r="3.08"/><circle cx="918.5" cy="124.5" r="3.08"/><circle cx="924.5" cy="124.5" r="3.08"/><circle cx="929.5" cy="124.5" r="3.08"/><circle cx="935.5" cy="124.5" r="3.08"/><circle cx="941.5" cy="124.5" r="3.08"/><circle cx="946.5" cy="124.5" r="3.08"/><circle cx="952.5" cy="124.5" r="3.08"/><circle cx="957.5" cy="124.5" r="3.08"/><circle cx="963.5" cy="124.5" r="3.08"/><circle cx="969.5" cy="124.5" r="3.08"/><circle cx="974.5" cy="124.5" r="3.08"/><circle cx="980.5" cy="124.5" r="3.08"/><circle cx="986.5" cy="124.5" r="3.08"/><circle cx="991.5" cy="124.5" r="3.08"/><circle cx="997.5" cy="124.5" r="3.08"/><circle cx="1003.5" cy="124.5" r="3.08"/><circle cx="1008.5" cy="124.5" r="3.08"/><circle cx="1014.5" cy="124.5" r="3.08"/><circle cx="1019.5" cy="124.5" r="3.08"/><circle cx="1025.5" cy="124.5" r="3.08"/><circle cx="1031.5" cy="124.5" r="3.08"/><circle cx="1036.5" cy="124.5" r="3.08"/><circle cx="1042.5" cy="124.5" r="3.08"/><circle cx="1048.5" cy="124.5" r="3.08"/><circle cx="1053.5" cy="124.5" r="3.08"/><circle cx="1059.5" cy="124.5" r="3.08"/><circle cx="1065.5" cy="124.5" r="3.08"/><circle cx="738.5" cy="117.5" r="3.08"/><circle cx="743.5" cy="117.5" r="3.08"/><circle cx="749.5" cy="117.5" r="3.08"/><circle cx="755.5" cy="117.5" r="3.08"/><circle cx="760.5" cy="117.5" r="3.08"/><circle cx="766.5" cy="117.5" r="3.08"/><circle cx="771.5" cy="117.5" r="3.08"/><circle cx="777.5" cy="117.5" r="3.08"/><circle cx="783.5" cy="117.5" r="3.08"/><circle cx="788.5" cy="117.5" r="3.08"/><circle cx="794.5" cy="117.5" r="3.08"/><circle cx="800.5" cy="117.5" r="3.08"/><circle cx="805.5" cy="117.5" r="3.08"/><circle cx="811.5" cy="117.5" r="3.08"/><circle cx="817.5" cy="117.5" r="3.08"/><circle cx="822.5" cy="117.5" r="3.08"/><circle cx="828.5" cy="117.5" r="3.08"/><circle cx="833.5" cy="117.5" r="3.08"/><circle cx="839.5" cy="117.5" r="3.08"/><circle cx="845.5" cy="117.5" r="3.08"/><circle cx="850.5" cy="117.5" r="3.08"/><circle cx="856.5" cy="117.5" r="3.08"/><circle cx="862.5" cy="117.5" r="3.08"/><circle cx="867.5" cy="117.5" r="3.08"/><circle cx="873.5" cy="117.5" r="3.08"/><circle cx="879.5" cy="117.5" r="3.08"/><circle cx="884.5" cy="117.5" r="3.08"/><circle cx="890.5" cy="117.5" r="3.08"/><circle cx="895.5" cy="117.5" r="3.08"/><circle cx="901.5" cy="117.5" r="3.08"/><circle cx="907.5" cy="117.5" r="3.08"/><circle cx="912.5" cy="117.5" r="3.08"/><circle cx="918.5" cy="117.5" r="3.08"/><circle cx="924.5" cy="117.5" r="3.08"/><circle cx="929.5" cy="117.5" r="3.08"/><circle cx="935.5" cy="117.5" r="3.08"/><circle cx="941.5" cy="117.5" r="3.08"/><circle cx="946.5" cy="117.5" r="3.08"/><circle cx="952.5" cy="117.5" r="3.08"/><circle cx="957.5" cy="117.5" r="3.08"/><circle cx="963.5" cy="117.5" r="3.08"/><circle cx="969.5" cy="117.5" r="3.08"/><circle cx="974.5" cy="117.5" r="3.08"/><circle cx="980.5" cy="117.5" r="3.08"/><circle cx="986.5" cy="117.5" r="3.08"/><circle cx="991.5" cy="117.5" r="3.08"/><circle cx="997.5" cy="117.5" r="3.08"/><circle cx="1003.5" cy="117.5" r="3.08"/><circle cx="1008.5" cy="117.5" r="3.08"/><circle cx="1014.5" cy="117.5" r="3.08"/><circle cx="1019.5" cy="117.5" r="3.08"/><circle cx="1025.5" cy="117.5" r="3.08"/><circle cx="1031.5" cy="117.5" r="3.08"/><circle cx="1036.5" cy="117.5" r="3.08"/><circle cx="1042.5" cy="117.5" r="3.08"/><circle cx="1048.5" cy="117.5" r="3.08"/><circle cx="1053.5" cy="117.5" r="3.08"/><circle cx="1059.5" cy="117.5" r="3.08"/><circle cx="738.5" cy="109.5" r="3.08"/><circle cx="743.5" cy="109.5" r="3.08"/><circle cx="749.5" cy="109.5" r="3.08"/><circle cx="755.5" cy="109.5" r="3.08"/><circle cx="760.5" cy="109.5" r="3.08"/><circle cx="766.5" cy="109.5" r="3.08"/><circle cx="771.5" cy="109.5" r="3.08"/><circle cx="777.5" cy="109.5" r="3.08"/><circle cx="783.5" cy="109.5" r="3.08"/><circle cx="788.5" cy="109.5" r="3.08"/><circle cx="794.5" cy="109.5" r="3.08"/><circle cx="800.5" cy="109.5" r="3.08"/><circle cx="805.5" cy="109.5" r="3.08"/><circle cx="811.5" cy="109.5" r="3.08"/><circle cx="817.5" cy="109.5" r="3.08"/><circle cx="822.5" cy="109.5" r="3.08"/><circle cx="828.5" cy="109.5" r="3.08"/><circle cx="833.5" cy="109.5" r="3.08"/><circle cx="839.5" cy="109.5" r="3.08"/><circle cx="845.5" cy="109.5" r="3.08"/><circle cx="850.5" cy="109.5" r="3.08"/><circle cx="856.5" cy="109.5" r="3.08"/><circle cx="862.5" cy="109.5" r="3.08"/><circle cx="867.5" cy="109.5" r="3.08"/><circle cx="873.5" cy="109.5" r="3.08"/><circle cx="879.5" cy="109.5" r="3.08"/><circle cx="884.5" cy="109.5" r="3.08"/><circle cx="890.5" cy="109.5" r="3.08"/><circle cx="895.5" cy="109.5" r="3.08"/><circle cx="901.5" cy="109.5" r="3.08"/><circle cx="907.5" cy="109.5" r="3.08"/><circle cx="912.5" cy="109.5" r="3.08"/><circle cx="918.5" cy="109.5" r="3.08"/><circle cx="924.5" cy="109.5" r="3.08"/><circle cx="929.5" cy="109.5" r="3.08"/><circle cx="935.5" cy="109.5" r="3.08"/><circle cx="941.5" cy="109.5" r="3.08"/><circle cx="946.5" cy="109.5" r="3.08"/><circle cx="952.5" cy="109.5" r="3.08"/><circle cx="957.5" cy="109.5" r="3.08"/><circle cx="963.5" cy="109.5" r="3.08"/><circle cx="969.5" cy="109.5" r="3.08"/><circle cx="974.5" cy="109.5" r="3.08"/><circle cx="980.5" cy="109.5" r="3.08"/><circle cx="986.5" cy="109.5" r="3.08"/><circle cx="991.5" cy="109.5" r="3.08"/><circle cx="997.5" cy="109.5" r="3.08"/><circle cx="1003.5" cy="109.5" r="3.08"/><circle cx="1008.5" cy="109.5" r="3.08"/><circle cx="1014.5" cy="109.5" r="3.08"/><circle cx="1019.5" cy="109.5" r="3.08"/><circle cx="1025.5" cy="109.5" r="3.08"/><circle cx="1031.5" cy="109.5" r="3.08"/><circle cx="1036.5" cy="109.5" r="3.08"/><circle cx="1042.5" cy="109.5" r="3.08"/><circle cx="1048.5" cy="109.5" r="3.08"/><circle cx="1053.5" cy="109.5" r="3.08"/><circle cx="738.5" cy="102.5" r="3.08"/><circle cx="743.5" cy="102.5" r="3.08"/><circle cx="749.5" cy="102.5" r="3.08"/><circle cx="755.5" cy="102.5" r="3.08"/><circle cx="760.5" cy="102.5" r="3.08"/><circle cx="766.5" cy="102.5" r="3.08"/><circle cx="771.5" cy="102.5" r="3.08"/><circle cx="777.5" cy="102.5" r="3.08"/><circle cx="783.5" cy="102.5" r="3.08"/><circle cx="788.5" cy="102.5" r="3.08"/><circle cx="794.5" cy="102.5" r="3.08"/><circle cx="800.5" cy="102.5" r="3.08"/><circle cx="805.5" cy="102.5" r="3.08"/><circle cx="811.5" cy="102.5" r="3.08"/><circle cx="817.5" cy="102.5" r="3.08"/><circle cx="822.5" cy="102.5" r="3.08"/><circle cx="828.5" cy="102.5" r="3.08"/><circle cx="833.5" cy="102.5" r="3.08"/><circle cx="839.5" cy="102.5" r="3.08"/><circle cx="845.5" cy="102.5" r="3.08"/><circle cx="850.5" cy="102.5" r="3.08"/><circle cx="856.5" cy="102.5" r="3.08"/><circle cx="862.5" cy="102.5" r="3.08"/><circle cx="867.5" cy="102.5" r="3.08"/><circle cx="873.5" cy="102.5" r="3.08"/><circle cx="879.5" cy="102.5" r="3.08"/><circle cx="884.5" cy="102.5" r="3.08"/><circle cx="890.5" cy="102.5" r="3.08"/><circle cx="895.5" cy="102.5" r="3.08"/><circle cx="901.5" cy="102.5" r="3.08"/><circle cx="907.5" cy="102.5" r="3.08"/><circle cx="912.5" cy="102.5" r="3.08"/><circle cx="918.5" cy="102.5" r="3.08"/><circle cx="924.5" cy="102.5" r="3.08"/><circle cx="929.5" cy="102.5" r="3.08"/><circle cx="935.5" cy="102.5" r="3.08"/><circle cx="941.5" cy="102.5" r="3.08"/><circle cx="946.5" cy="102.5" r="3.08"/><circle cx="952.5" cy="102.5" r="3.08"/><circle cx="957.5" cy="102.5" r="3.08"/><circle cx="963.5" cy="102.5" r="3.08"/><circle cx="969.5" cy="102.5" r="3.08"/><circle cx="974.5" cy="102.5" r="3.08"/><circle cx="980.5" cy="102.5" r="3.08"/><circle cx="986.5" cy="102.5" r="3.08"/><circle cx="991.5" cy="102.5" r="3.08"/><circle cx="997.5" cy="102.5" r="3.08"/><circle cx="1003.5" cy="102.5" r="3.08"/><circle cx="1008.5" cy="102.5" r="3.08"/><circle cx="1014.5" cy="102.5" r="3.08"/><circle cx="1019.5" cy="102.5" r="3.08"/><circle cx="1025.5" cy="102.5" r="3.08"/><circle cx="1031.5" cy="102.5" r="3.08"/><circle cx="1036.5" cy="102.5" r="3.08"/><circle cx="1042.5" cy="102.5" r="3.08"/><circle cx="738.5" cy="94.5" r="3.08"/><circle cx="743.5" cy="94.5" r="3.08"/><circle cx="749.5" cy="94.5" r="3.08"/><circle cx="755.5" cy="94.5" r="3.08"/><circle cx="760.5" cy="94.5" r="3.08"/><circle cx="766.5" cy="94.5" r="3.08"/><circle cx="771.5" cy="94.5" r="3.08"/><circle cx="777.5" cy="94.5" r="3.08"/><circle cx="783.5" cy="94.5" r="3.08"/><circle cx="788.5" cy="94.5" r="3.08"/><circle cx="794.5" cy="94.5" r="3.08"/><circle cx="800.5" cy="94.5" r="3.08"/><circle cx="805.5" cy="94.5" r="3.08"/><circle cx="811.5" cy="94.5" r="3.08"/><circle cx="817.5" cy="94.5" r="3.08"/><circle cx="822.5" cy="94.5" r="3.08"/><circle cx="828.5" cy="94.5" r="3.08"/><circle cx="833.5" cy="94.5" r="3.08"/><circle cx="839.5" cy="94.5" r="3.08"/><circle cx="845.5" cy="94.5" r="3.08"/><circle cx="850.5" cy="94.5" r="3.08"/><circle cx="856.5" cy="94.5" r="3.08"/><circle cx="862.5" cy="94.5" r="3.08"/><circle cx="867.5" cy="94.5" r="3.08"/><circle cx="873.5" cy="94.5" r="3.08"/><circle cx="879.5" cy="94.5" r="3.08"/><circle cx="884.5" cy="94.5" r="3.08"/><circle cx="890.5" cy="94.5" r="3.08"/><circle cx="895.5" cy="94.5" r="3.08"/><circle cx="901.5" cy="94.5" r="3.08"/><circle cx="907.5" cy="94.5" r="3.08"/><circle cx="912.5" cy="94.5" r="3.08"/><circle cx="918.5" cy="94.5" r="3.08"/><circle cx="924.5" cy="94.5" r="3.08"/><circle cx="929.5" cy="94.5" r="3.08"/><circle cx="935.5" cy="94.5" r="3.08"/><circle cx="941.5" cy="94.5" r="3.08"/><circle cx="946.5" cy="94.5" r="3.08"/><circle cx="952.5" cy="94.5" r="3.08"/><circle cx="957.5" cy="94.5" r="3.08"/><circle cx="963.5" cy="94.5" r="3.08"/><circle cx="969.5" cy="94.5" r="3.08"/><circle cx="974.5" cy="94.5" r="3.08"/><circle cx="980.5" cy="94.5" r="3.08"/><circle cx="986.5" cy="94.5" r="3.08"/><circle cx="991.5" cy="94.5" r="3.08"/><circle cx="997.5" cy="94.5" r="3.08"/><circle cx="1003.5" cy="94.5" r="3.08"/><circle cx="1008.5" cy="94.5" r="3.08"/><circle cx="1014.5" cy="94.5" r="3.08"/><circle cx="1019.5" cy="94.5" r="3.08"/><circle cx="1025.5" cy="94.5" r="3.08"/><circle cx="1031.5" cy="94.5" r="3.08"/><circle cx="1036.5" cy="94.5" r="3.08"/><circle cx="738.5" cy="86.5" r="3.08"/><circle cx="743.5" cy="86.5" r="3.08"/><circle cx="749.5" cy="86.5" r="3.08"/><circle cx="755.5" cy="86.5" r="3.08"/><circle cx="760.5" cy="86.5" r="3.08"/><circle cx="766.5" cy="86.5" r="3.08"/><circle cx="771.5" cy="86.5" r="3.08"/><circle cx="777.5" cy="86.5" r="3.08"/><circle cx="783.5" cy="86.5" r="3.08"/><circle cx="788.5" cy="86.5" r="3.08"/><circle cx="794.5" cy="86.5" r="3.08"/><circle cx="800.5" cy="86.5" r="3.08"/><circle cx="805.5" cy="86.5" r="3.08"/><circle cx="811.5" cy="86.5" r="3.08"/><circle cx="817.5" cy="86.5" r="3.08"/><circle cx="822.5" cy="86.5" r="3.08"/><circle cx="828.5" cy="86.5" r="3.08"/><circle cx="833.5" cy="86.5" r="3.08"/><circle cx="839.5" cy="86.5" r="3.08"/><circle cx="845.5" cy="86.5" r="3.08"/><circle cx="850.5" cy="86.5" r="3.08"/><circle cx="856.5" cy="86.5" r="3.08"/><circle cx="862.5" cy="86.5" r="3.08"/><circle cx="867.5" cy="86.5" r="3.08"/><circle cx="873.5" cy="86.5" r="3.08"/><circle cx="879.5" cy="86.5" r="3.08"/><circle cx="884.5" cy="86.5" r="3.08"/><circle cx="890.5" cy="86.5" r="3.08"/><circle cx="895.5" cy="86.5" r="3.08"/><circle cx="901.5" cy="86.5" r="3.08"/><circle cx="907.5" cy="86.5" r="3.08"/><circle cx="912.5" cy="86.5" r="3.08"/><circle cx="918.5" cy="86.5" r="3.08"/><circle cx="924.5" cy="86.5" r="3.08"/><circle cx="929.5" cy="86.5" r="3.08"/><circle cx="935.5" cy="86.5" r="3.08"/><circle cx="941.5" cy="86.5" r="3.08"/><circle cx="946.5" cy="86.5" r="3.08"/><circle cx="952.5" cy="86.5" r="3.08"/><circle cx="957.5" cy="86.5" r="3.08"/><circle cx="963.5" cy="86.5" r="3.08"/><circle cx="969.5" cy="86.5" r="3.08"/><circle cx="974.5" cy="86.5" r="3.08"/><circle cx="980.5" cy="86.5" r="3.08"/><circle cx="986.5" cy="86.5" r="3.08"/><circle cx="991.5" cy="86.5" r="3.08"/><circle cx="997.5" cy="86.5" r="3.08"/><circle cx="1003.5" cy="86.5" r="3.08"/><circle cx="1008.5" cy="86.5" r="3.08"/><circle cx="1014.5" cy="86.5" r="3.08"/><circle cx="1019.5" cy="86.5" r="3.08"/><circle cx="1025.5" cy="86.5" r="3.08"/><circle cx="1031.5" cy="86.5" r="3.08"/><circle cx="738.5" cy="79.5" r="3.08"/><circle cx="743.5" cy="79.5" r="3.08"/><circle cx="749.5" cy="79.5" r="3.08"/><circle cx="755.5" cy="79.5" r="3.08"/><circle cx="760.5" cy="79.5" r="3.08"/><circle cx="766.5" cy="79.5" r="3.08"/><circle cx="771.5" cy="79.5" r="3.08"/><circle cx="777.5" cy="79.5" r="3.08"/><circle cx="783.5" cy="79.5" r="3.08"/><circle cx="788.5" cy="79.5" r="3.08"/><circle cx="794.5" cy="79.5" r="3.08"/><circle cx="800.5" cy="79.5" r="3.08"/><circle cx="805.5" cy="79.5" r="3.08"/><circle cx="811.5" cy="79.5" r="3.08"/><circle cx="817.5" cy="79.5" r="3.08"/><circle cx="822.5" cy="79.5" r="3.08"/><circle cx="828.5" cy="79.5" r="3.08"/><circle cx="833.5" cy="79.5" r="3.08"/><circle cx="839.5" cy="79.5" r="3.08"/><circle cx="845.5" cy="79.5" r="3.08"/><circle cx="850.5" cy="79.5" r="3.08"/><circle cx="856.5" cy="79.5" r="3.08"/><circle cx="862.5" cy="79.5" r="3.08"/><circle cx="867.5" cy="79.5" r="3.08"/><circle cx="873.5" cy="79.5" r="3.08"/><circle cx="879.5" cy="79.5" r="3.08"/><circle cx="884.5" cy="79.5" r="3.08"/><circle cx="890.5" cy="79.5" r="3.08"/><circle cx="895.5" cy="79.5" r="3.08"/><circle cx="901.5" cy="79.5" r="3.08"/><circle cx="907.5" cy="79.5" r="3.08"/><circle cx="912.5" cy="79.5" r="3.08"/><circle cx="918.5" cy="79.5" r="3.08"/><circle cx="924.5" cy="79.5" r="3.08"/><circle cx="929.5" cy="79.5" r="3.08"/><circle cx="935.5" cy="79.5" r="3.08"/><circle cx="941.5" cy="79.5" r="3.08"/><circle cx="946.5" cy="79.5" r="3.08"/><circle cx="952.5" cy="79.5" r="3.08"/><circle cx="957.5" cy="79.5" r="3.08"/><circle cx="963.5" cy="79.5" r="3.08"/><circle cx="969.5" cy="79.5" r="3.08"/><circle cx="974.5" cy="79.5" r="3.08"/><circle cx="980.5" cy="79.5" r="3.08"/><circle cx="986.5" cy="79.5" r="3.08"/><circle cx="991.5" cy="79.5" r="3.08"/><circle cx="997.5" cy="79.5" r="3.08"/><circle cx="1003.5" cy="79.5" r="3.08"/><circle cx="1008.5" cy="79.5" r="3.08"/><circle cx="1014.5" cy="79.5" r="3.08"/><circle cx="1019.5" cy="79.5" r="3.08"/><circle cx="1025.5" cy="79.5" r="3.08"/><circle cx="738.5" cy="71.5" r="3.08"/><circle cx="743.5" cy="71.5" r="3.08"/><circle cx="749.5" cy="71.5" r="3.08"/><circle cx="755.5" cy="71.5" r="3.08"/><circle cx="760.5" cy="71.5" r="3.08"/><circle cx="766.5" cy="71.5" r="3.08"/><circle cx="771.5" cy="71.5" r="3.08"/><circle cx="777.5" cy="71.5" r="3.08"/><circle cx="783.5" cy="71.5" r="3.08"/><circle cx="788.5" cy="71.5" r="3.08"/><circle cx="794.5" cy="71.5" r="3.08"/><circle cx="800.5" cy="71.5" r="3.08"/><circle cx="805.5" cy="71.5" r="3.08"/><circle cx="811.5" cy="71.5" r="3.08"/><circle cx="817.5" cy="71.5" r="3.08"/><circle cx="822.5" cy="71.5" r="3.08"/><circle cx="828.5" cy="71.5" r="3.08"/><circle cx="833.5" cy="71.5" r="3.08"/><circle cx="839.5" cy="71.5" r="3.08"/><circle cx="845.5" cy="71.5" r="3.08"/><circle cx="850.5" cy="71.5" r="3.08"/><circle cx="856.5" cy="71.5" r="3.08"/><circle cx="862.5" cy="71.5" r="3.08"/><circle cx="867.5" cy="71.5" r="3.08"/><circle cx="873.5" cy="71.5" r="3.08"/><circle cx="879.5" cy="71.5" r="3.08"/><circle cx="884.5" cy="71.5" r="3.08"/><circle cx="890.5" cy="71.5" r="3.08"/><circle cx="895.5" cy="71.5" r="3.08"/><circle cx="901.5" cy="71.5" r="3.08"/><circle cx="907.5" cy="71.5" r="3.08"/><circle cx="912.5" cy="71.5" r="3.08"/><circle cx="918.5" cy="71.5" r="3.08"/><circle cx="924.5" cy="71.5" r="3.08"/><circle cx="929.5" cy="71.5" r="3.08"/><circle cx="935.5" cy="71.5" r="3.08"/><circle cx="941.5" cy="71.5" r="3.08"/><circle cx="946.5" cy="71.5" r="3.08"/><circle cx="952.5" cy="71.5" r="3.08"/><circle cx="957.5" cy="71.5" r="3.08"/><circle cx="963.5" cy="71.5" r="3.08"/><circle cx="969.5" cy="71.5" r="3.08"/><circle cx="974.5" cy="71.5" r="3.08"/><circle cx="980.5" cy="71.5" r="3.08"/><circle cx="986.5" cy="71.5" r="3.08"/><circle cx="991.5" cy="71.5" r="3.08"/><circle cx="997.5" cy="71.5" r="3.08"/><circle cx="1003.5" cy="71.5" r="3.08"/><circle cx="1008.5" cy="71.5" r="3.08"/><circle cx="1014.5" cy="71.5" r="3.08"/><circle cx="738.5" cy="64.5" r="3.08"/><circle cx="743.5" cy="64.5" r="3.08"/><circle cx="749.5" cy="64.5" r="3.08"/><circle cx="755.5" cy="64.5" r="3.08"/><circle cx="760.5" cy="64.5" r="3.08"/><circle cx="766.5" cy="64.5" r="3.08"/><circle cx="771.5" cy="64.5" r="3.08"/><circle cx="777.5" cy="64.5" r="3.08"/><circle cx="783.5" cy="64.5" r="3.08"/><circle cx="788.5" cy="64.5" r="3.08"/><circle cx="794.5" cy="64.5" r="3.08"/><circle cx="800.5" cy="64.5" r="3.08"/><circle cx="805.5" cy="64.5" r="3.08"/><circle cx="811.5" cy="64.5" r="3.08"/><circle cx="817.5" cy="64.5" r="3.08"/><circle cx="822.5" cy="64.5" r="3.08"/><circle cx="828.5" cy="64.5" r="3.08"/><circle cx="833.5" cy="64.5" r="3.08"/><circle cx="839.5" cy="64.5" r="3.08"/><circle cx="845.5" cy="64.5" r="3.08"/><circle cx="850.5" cy="64.5" r="3.08"/><circle cx="856.5" cy="64.5" r="3.08"/><circle cx="862.5" cy="64.5" r="3.08"/><circle cx="867.5" cy="64.5" r="3.08"/><circle cx="873.5" cy="64.5" r="3.08"/><circle cx="879.5" cy="64.5" r="3.08"/><circle cx="884.5" cy="64.5" r="3.08"/><circle cx="890.5" cy="64.5" r="3.08"/><circle cx="895.5" cy="64.5" r="3.08"/><circle cx="901.5" cy="64.5" r="3.08"/><circle cx="907.5" cy="64.5" r="3.08"/><circle cx="912.5" cy="64.5" r="3.08"/><circle cx="918.5" cy="64.5" r="3.08"/><circle cx="924.5" cy="64.5" r="3.08"/><circle cx="929.5" cy="64.5" r="3.08"/><circle cx="935.5" cy="64.5" r="3.08"/><circle cx="941.5" cy="64.5" r="3.08"/><circle cx="946.5" cy="64.5" r="3.08"/><circle cx="952.5" cy="64.5" r="3.08"/><circle cx="957.5" cy="64.5" r="3.08"/><circle cx="963.5" cy="64.5" r="3.08"/><circle cx="969.5" cy="64.5" r="3.08"/><circle cx="974.5" cy="64.5" r="3.08"/><circle cx="980.5" cy="64.5" r="3.08"/><circle cx="986.5" cy="64.5" r="3.08"/><circle cx="991.5" cy="64.5" r="3.08"/><circle cx="997.5" cy="64.5" r="3.08"/><circle cx="1003.5" cy="64.5" r="3.08"/><circle cx="1008.5" cy="64.5" r="3.08"/><circle cx="738.5" cy="56.5" r="3.08"/><circle cx="743.5" cy="56.5" r="3.08"/><circle cx="749.5" cy="56.5" r="3.08"/><circle cx="755.5" cy="56.5" r="3.08"/><circle cx="760.5" cy="56.5" r="3.08"/><circle cx="766.5" cy="56.5" r="3.08"/><circle cx="771.5" cy="56.5" r="3.08"/><circle cx="777.5" cy="56.5" r="3.08"/><circle cx="783.5" cy="56.5" r="3.08"/><circle cx="788.5" cy="56.5" r="3.08"/><circle cx="794.5" cy="56.5" r="3.08"/><circle cx="800.5" cy="56.5" r="3.08"/><circle cx="805.5" cy="56.5" r="3.08"/><circle cx="811.5" cy="56.5" r="3.08"/><circle cx="817.5" cy="56.5" r="3.08"/><circle cx="822.5" cy="56.5" r="3.08"/><circle cx="828.5" cy="56.5" r="3.08"/><circle cx="833.5" cy="56.5" r="3.08"/><circle cx="839.5" cy="56.5" r="3.08"/><circle cx="845.5" cy="56.5" r="3.08"/><circle cx="850.5" cy="56.5" r="3.08"/><circle cx="856.5" cy="56.5" r="3.08"/><circle cx="862.5" cy="56.5" r="3.08"/><circle cx="867.5" cy="56.5" r="3.08"/><circle cx="873.5" cy="56.5" r="3.08"/><circle cx="879.5" cy="56.5" r="3.08"/><circle cx="884.5" cy="56.5" r="3.08"/><circle cx="890.5" cy="56.5" r="3.08"/><circle cx="895.5" cy="56.5" r="3.08"/><circle cx="901.5" cy="56.5" r="3.08"/><circle cx="907.5" cy="56.5" r="3.08"/><circle cx="912.5" cy="56.5" r="3.08"/><circle cx="918.5" cy="56.5" r="3.08"/><circle cx="924.5" cy="56.5" r="3.08"/><circle cx="929.5" cy="56.5" r="3.08"/><circle cx="935.5" cy="56.5" r="3.08"/><circle cx="941.5" cy="56.5" r="3.08"/><circle cx="946.5" cy="56.5" r="3.08"/><circle cx="952.5" cy="56.5" r="3.08"/><circle cx="957.5" cy="56.5" r="3.08"/><circle cx="963.5" cy="56.5" r="3.08"/><circle cx="969.5" cy="56.5" r="3.08"/><circle cx="974.5" cy="56.5" r="3.08"/><circle cx="980.5" cy="56.5" r="3.08"/><circle cx="986.5" cy="56.5" r="3.08"/><circle cx="991.5" cy="56.5" r="3.08"/><circle cx="997.5" cy="56.5" r="3.08"/><circle cx="1003.5" cy="56.5" r="3.08"/><circle cx="738.5" cy="48.5" r="3.08"/><circle cx="743.5" cy="48.5" r="3.08"/><circle cx="749.5" cy="48.5" r="3.08"/><circle cx="755.5" cy="48.5" r="3.08"/><circle cx="760.5" cy="48.5" r="3.08"/><circle cx="766.5" cy="48.5" r="3.08"/><circle cx="771.5" cy="48.5" r="3.08"/><circle cx="777.5" cy="48.5" r="3.08"/><circle cx="783.5" cy="48.5" r="3.08"/><circle cx="788.5" cy="48.5" r="3.08"/><circle cx="794.5" cy="48.5" r="3.08"/><circle cx="800.5" cy="48.5" r="3.08"/><circle cx="805.5" cy="48.5" r="3.08"/><circle cx="811.5" cy="48.5" r="3.08"/><circle cx="817.5" cy="48.5" r="3.08"/><circle cx="822.5" cy="48.5" r="3.08"/><circle cx="828.5" cy="48.5" r="3.08"/><circle cx="833.5" cy="48.5" r="3.08"/><circle cx="839.5" cy="48.5" r="3.08"/><circle cx="845.5" cy="48.5" r="3.08"/><circle cx="850.5" cy="48.5" r="3.08"/><circle cx="856.5" cy="48.5" r="3.08"/><circle cx="862.5" cy="48.5" r="3.08"/><circle cx="867.5" cy="48.5" r="3.08"/><circle cx="873.5" cy="48.5" r="3.08"/><circle cx="879.5" cy="48.5" r="3.08"/><circle cx="884.5" cy="48.5" r="3.08"/><circle cx="890.5" cy="48.5" r="3.08"/><circle cx="895.5" cy="48.5" r="3.08"/><circle cx="901.5" cy="48.5" r="3.08"/><circle cx="907.5" cy="48.5" r="3.08"/><circle cx="912.5" cy="48.5" r="3.08"/><circle cx="918.5" cy="48.5" r="3.08"/><circle cx="924.5" cy="48.5" r="3.08"/><circle cx="929.5" cy="48.5" r="3.08"/><circle cx="935.5" cy="48.5" r="3.08"/><circle cx="941.5" cy="48.5" r="3.08"/><circle cx="946.5" cy="48.5" r="3.08"/><circle cx="952.5" cy="48.5" r="3.08"/><circle cx="957.5" cy="48.5" r="3.08"/><circle cx="963.5" cy="48.5" r="3.08"/><circle cx="969.5" cy="48.5" r="3.08"/><circle cx="974.5" cy="48.5" r="3.08"/><circle cx="980.5" cy="48.5" r="3.08"/><circle cx="986.5" cy="48.5" r="3.08"/><circle cx="991.5" cy="48.5" r="3.08"/><circle cx="738.5" cy="41.5" r="3.08"/><circle cx="743.5" cy="41.5" r="3.08"/><circle cx="749.5" cy="41.5" r="3.08"/><circle cx="755.5" cy="41.5" r="3.08"/><circle cx="760.5" cy="41.5" r="3.08"/><circle cx="766.5" cy="41.5" r="3.08"/><circle cx="771.5" cy="41.5" r="3.08"/><circle cx="777.5" cy="41.5" r="3.08"/><circle cx="783.5" cy="41.5" r="3.08"/><circle cx="788.5" cy="41.5" r="3.08"/><circle cx="794.5" cy="41.5" r="3.08"/><circle cx="800.5" cy="41.5" r="3.08"/><circle cx="805.5" cy="41.5" r="3.08"/><circle cx="811.5" cy="41.5" r="3.08"/><circle cx="817.5" cy="41.5" r="3.08"/><circle cx="822.5" cy="41.5" r="3.08"/><circle cx="828.5" cy="41.5" r="3.08"/><circle cx="833.5" cy="41.5" r="3.08"/><circle cx="839.5" cy="41.5" r="3.08"/><circle cx="845.5" cy="41.5" r="3.08"/><circle cx="850.5" cy="41.5" r="3.08"/><circle cx="856.5" cy="41.5" r="3.08"/><circle cx="862.5" cy="41.5" r="3.08"/><circle cx="867.5" cy="41.5" r="3.08"/><circle cx="873.5" cy="41.5" r="3.08"/><circle cx="879.5" cy="41.5" r="3.08"/><circle cx="884.5" cy="41.5" r="3.08"/><circle cx="890.5" cy="41.5" r="3.08"/><circle cx="895.5" cy="41.5" r="3.08"/><circle cx="901.5" cy="41.5" r="3.08"/><circle cx="907.5" cy="41.5" r="3.08"/><circle cx="912.5" cy="41.5" r="3.08"/><circle cx="918.5" cy="41.5" r="3.08"/><circle cx="924.5" cy="41.5" r="3.08"/><circle cx="929.5" cy="41.5" r="3.08"/><circle cx="935.5" cy="41.5" r="3.08"/><circle cx="941.5" cy="41.5" r="3.08"/><circle cx="946.5" cy="41.5" r="3.08"/><circle cx="952.5" cy="41.5" r="3.08"/><circle cx="957.5" cy="41.5" r="3.08"/><circle cx="963.5" cy="41.5" r="3.08"/><circle cx="969.5" cy="41.5" r="3.08"/><circle cx="974.5" cy="41.5" r="3.08"/><circle cx="980.5" cy="41.5" r="3.08"/></g></g><path d="M738.5 33.72V572.72M766.5 33.72V572.72M794.5 33.72V572.72M822.5 33.72V572.72M850.5 33.72V572.72M879.5 33.72V572.72M907.5 33.72V572.72M935.5 33.72V572.72M963.5 33.72V572.72M991.5 33.72V572.72M1019.5 33.72V572.72M1048.5 33.72V572.72M1076.5 33.72V572.72M1104.5 33.72V572.72M1132.5 33.72V572.72M1160.5 33.72V572.72M1189.5 33.72V572.72M1217.5 33.72V572.72M1245.5 33.72V572.72M1273.5 33.72V572.72" stroke="rgba(0,0,0,0.75)" stroke-width="1.11" fill="none"/><path d="M737.64 573.5H1301.28M737.64 546.5H1301.28M737.64 519.5H1301.28M737.64 492.5H1301.28M737.64 465.5H1301.28M737.64 438.5H1301.28M737.64 411.5H1301.28M737.64 384.5H1301.28M737.64 357.5H1301.28M737.64 330.5H1301.28M737.64 303.5H1301.28M737.64 276.5H1301.28M737.64 249.5H1301.28M737.64 222.5H1301.28M737.64 195.5H1301.28M737.64 168.5H1301.28M737.64 142.5H1301.28M737.64 115.5H1301.28M737.64 88.5H1301.28M737.64 61.5H1301.28" stroke="rgba(0,0,0,0.75)" stroke-width="1.11" fill="none"/><path d="M738.5 573.5V34.5M1301.5 573.5V34.5M738.5 34.5H1301.5M738.5 573.5H1301.5" stroke="#000" stroke-width="1.11" fill="none" stroke-linecap="square"/><path d="M738.5 572.72V577.58M737.64 573.5H732.78M766.5 572.72V577.58M737.64 546.5H732.78M794.5 572.72V577.58M737.64 519.5H732.78M822.5 572.72V577.58M737.64 492.5H732.78M850.5 572.72V577.58M737.64 465.5H732.78M879.5 572.72V577.58M737.64 438.5H732.78M907.5 572.72V577.58M737.64 411.5H732.78M935.5 572.72V577.58M737.64 384.5H732.78M963.5 572.72V577.58M737.64 357.5H732.78M991.5 572.72V577.58M737.64 330.5H732.78M1019.5 572.72V577.58M737.64 303.5H732.78M1048.5 572.72V577.58M737.64 276.5H732.78M1076.5 572.72V577.58M737.64 249.5H732.78M1104.5 572.72V577.58M737.64 222.5H732.78M1132.5 572.72V577.58M737.64 195.5H732.78M1160.5 572.72V577.58M737.64 168.5H732.78M1189.5 572.72V577.58M737.64 142.5H732.78M1217.5 572.72V577.58M737.64 115.5H732.78M1245.5 572.72V577.58M737.64 88.5H732.78M1273.5 572.72V577.58M737.64 61.5H732.78" stroke="#000" stroke-width="1.11" fill="none"/><text transform="scale(1.03 1)" x="144.1 158.59 170.7 182.82 200.13 212.22 224.95 235.91 242 253.48 265.63 276.62 287.68 299.57 315.75 333.09 345.75 354.66 366.17 372.34 386.99 398.93 412.16 427.61 439.19 450.32 460.71 471.85 483.37 489.74 495.46 509.45 516.53" y="25.39" font-size="19.44">Площадь обучающего множества |Xt|</text><text transform="scale(1.03 1)" x="329.25" y="613" font-size="13.89">X</text><text transform="translate(20 303.22) rotate(-90)" text-anchor="middle" font-size="13.89" textLength="8.38" lengthAdjust="spacingAndGlyphs">Y</text><text transform="scale(1.03 1)" x="49.22 57.56 62.04" y="594.24" font-size="13.89">1.7</text><text transform="scale(1.03 1)" x="76.55 84.92 89.44" y="594.24" font-size="13.89">1.9</text><text transform="scale(1.03 1)" x="103.98 112.29 116.72" y="594.24" font-size="13.89">2.0</text><text transform="scale(1.03 1)" x="131.34 139.65 144.08" y="594.24" font-size="13.89">2.2</text><text transform="scale(1.03 1)" x="158.7 167.01 171.45" y="594.24" font-size="13.89">2.4</text><text transform="scale(1.03 1)" x="186.03 194.37 198.84" y="594.24" font-size="13.89">2.6</text><text transform="scale(1.03 1)" x="213.39 221.73 226.2" y="594.24" font-size="13.89">2.8</text><text transform="scale(1.03 1)" x="240.75 249.09 253.56" y="594.24" font-size="13.89">2.9</text><text transform="scale(1.03 1)" x="268.11 276.45 280.93" y="594.24" font-size="13.89">3.1</text><text transform="scale(1.03 1)" x="295.51 303.81 308.25" y="594.24" font-size="13.89">3.3</text><text transform="scale(1.03 1)" x="322.87 331.17 335.61" y="594.24" font-size="13.89">3.5</text><text transform="scale(1.03 1)" x="350.23 358.53 362.97" y="594.24" font-size="13.89">3.7</text><text transform="scale(1.03 1)" x="377.56 385.9 390.37" y="594.24" font-size="13.89">3.9</text><text transform="scale(1.03 1)" x="404.95 413.26 417.69" y="594.24" font-size="13.89">4.0</text><text transform="scale(1.03 1)" x="432.31 440.62 445.06" y="594.24" font-size="13.89">4.2</text><text transform="scale(1.03 1)" x="459.67 467.98 472.42" y="594.24" font-size="13.89">4.4</text><text transform="scale(1.03 1)" x="487 495.34 499.81" y="594.24" font-size="13.89">4.6</text><text transform="scale(1.03 1)" x="514.36 522.7 527.17" y="594.24" font-size="13.89">4.8</text><text transform="scale(1.03 1)" x="541.76 550.06 554.5" y="594.24" font-size="13.89">5.0</text><text transform="scale(1.03 1)" x="569.08 577.42 581.9" y="594.24" font-size="13.89">5.1</text><text transform="scale(1.03 1)" x="29.2 37.51 41.94" y="579.22" font-size="13.89">2.7</text><text transform="scale(1.03 1)" x="29.11 37.44 41.92" y="552.27" font-size="13.89">2.8</text><text transform="scale(1.03 1)" x="29.2 37.51 41.94" y="525.32" font-size="13.89">3.0</text><text transform="scale(1.03 1)" x="29.11 37.44 41.92" y="498.37" font-size="13.89">3.1</text><text transform="scale(1.03 1)" x="29.2 37.51 41.94" y="471.42" font-size="13.89">3.2</text><text transform="scale(1.03 1)" x="29.2 37.51 41.94" y="444.47" font-size="13.89">3.3</text><text transform="scale(1.03 1)" x="29.2 37.51 41.94" y="416.52" font-size="13.89">3.5</text><text transform="scale(1.03 1)" x="29.11 37.44 41.92" y="389.57" font-size="13.89">3.6</text><text transform="scale(1.03 1)" x="29.2 37.51 41.94" y="362.62" font-size="13.89">3.7</text><text transform="scale(1.03 1)" x="29.11 37.44 41.92" y="335.67" font-size="13.89">3.9</text><text transform="scale(1.03 1)" x="29.2 37.51 41.94" y="308.72" font-size="13.89">4.0</text><text transform="scale(1.03 1)" x="29.11 37.44 41.92" y="281.77" font-size="13.89">4.1</text><text transform="scale(1.03 1)" x="29.2 37.51 41.94" y="254.82" font-size="13.89">4.3</text><text transform="scale(1.03 1)" x="29.2 37.51 41.94" y="227.87" font-size="13.89">4.4</text><text transform="scale(1.03 1)" x="29.2 37.51 41.94" y="200.92" font-size="13.89">4.5</text><text transform="scale(1.03 1)" x="29.11 37.44 41.92" y="173.97" font-size="13.89">4.6</text><text transform="scale(1.03 1)" x="29.11 37.44 41.92" y="147.02" font-size="13.89">4.8</text><text transform="scale(1.03 1)" x="29.11 37.44 41.92" y="120.07" font-size="13.89">4.9</text><text transform="scale(1.03 1)" x="29.2 37.51 41.94" y="93.12" font-size="13.89">5.0</text><text transform="scale(1.03 1)" x="29.2 37.51 41.94" y="66.17" font-size="13.89">5.2</text><text transform="scale(1.03 1)" x="762.9 777.38 789.49 801.61 818.93 831.01 843.74 854.7 861.28 873.92 885.25 901.73 913.53 925.41 939.96 952.15 963.95 975.57 986.71 998.74 1011.12 1023.07 1035.7 1044.6 1056.11 1062.28 1076.93 1088.88 1102.1 1117.55 1129.13 1140.26 1150.65 1161.79 1173.3 1179.68 1185.4 1198.97 1211.05" y="26.39" font-size="19.44">Площадь деформированного множества |Xd|</text><text transform="scale(1.03 1)" x="985.91" y="613" font-size="13.89">X</text><text transform="translate(696.36 303.22) rotate(-90)" text-anchor="middle" font-size="13.89" textLength="8.38" lengthAdjust="spacingAndGlyphs">Y</text><text transform="scale(1.03 1)" x="705.89 714.23 718.7" y="594.24" font-size="13.89">1.7</text><text transform="scale(1.03 1)" x="733.21 741.59 746.1" y="594.24" font-size="13.89">1.9</text><text transform="scale(1.03 1)" x="760.65 768.95 773.39" y="594.24" font-size="13.89">2.0</text><text transform="scale(1.03 1)" x="788.01 796.31 800.75" y="594.24" font-size="13.89">2.2</text><text transform="scale(1.03 1)" x="815.37 823.67 828.11" y="594.24" font-size="13.89">2.4</text><text transform="scale(1.03 1)" x="842.69 851.03 855.51" y="594.24" font-size="13.89">2.6</text><text transform="scale(1.03 1)" x="870.05 878.39 882.87" y="594.24" font-size="13.89">2.8</text><text transform="scale(1.03 1)" x="897.41 905.75 910.23" y="594.24" font-size="13.89">2.9</text><text transform="scale(1.03 1)" x="924.78 933.12 937.59" y="594.24" font-size="13.89">3.1</text><text transform="scale(1.03 1)" x="952.17 960.48 964.91" y="594.24" font-size="13.89">3.3</text><text transform="scale(1.03 1)" x="979.53 987.84 992.28" y="594.24" font-size="13.89">3.5</text><text transform="scale(1.03 1)" x="1006.89 1015.2 1019.64" y="594.24" font-size="13.89">3.7</text><text transform="scale(1.03 1)" x="1034.22 1042.56 1047.03" y="594.24" font-size="13.89">3.9</text><text transform="scale(1.03 1)" x="1061.62 1069.92 1074.36" y="594.24" font-size="13.89">4.0</text><text transform="scale(1.03 1)" x="1088.98 1097.28 1101.72" y="594.24" font-size="13.89">4.2</text><text transform="scale(1.03 1)" x="1116.34 1124.64 1129.08" y="594.24" font-size="13.89">4.4</text><text transform="scale(1.03 1)" x="1143.66 1152 1156.48" y="594.24" font-size="13.89">4.6</text><text transform="scale(1.03 1)" x="1171.02 1179.36 1183.84" y="594.24" font-size="13.89">4.8</text><text transform="scale(1.03 1)" x="1198.42 1206.73 1211.16" y="594.24" font-size="13.89">5.0</text><text transform="scale(1.03 1)" x="1225.75 1234.09 1238.56" y="594.24" font-size="13.89">5.1</text><text transform="scale(1.03 1)" x="685.87 694.17 698.61" y="579.22" font-size="13.89">2.7</text><text transform="scale(1.03 1)" x="685.77 694.11 698.58" y="552.27" font-size="13.89">2.8</text><text transform="scale(1.03 1)" x="685.87 694.17 698.61" y="525.32" font-size="13.89">3.0</text><text transform="scale(1.03 1)" x="685.77 694.11 698.58" y="498.37" font-size="13.89">3.1</text><text transform="scale(1.03 1)" x="685.87 694.17 698.61" y="471.42" font-size="13.89">3.2</text><text transform="scale(1.03 1)" x="685.87 694.17 698.61" y="444.47" font-size="13.89">3.3</text><text transform="scale(1.03 1)" x="685.87 694.17 698.61" y="416.52" font-size="13.89">3.5</text><text transform="scale(1.03 1)" x="685.77 694.11 698.58" y="389.57" font-size="13.89">3.6</text><text transform="scale(1.03 1)" x="685.87 694.17 698.61" y="362.62" font-size="13.89">3.7</text><text transform="scale(1.03 1)" x="685.77 694.11 698.58" y="335.67" font-size="13.89">3.9</text><text transform="scale(1.03 1)" x="685.87 694.17 698.61" y="308.72" font-size="13.89">4.0</text><text transform="scale(1.03 1)" x="685.77 694.11 698.58" y="281.77" font-size="13.89">4.1</text><text transform="scale(1.03 1)" x="685.87 694.17 698.61" y="254.82" font-size="13.89">4.3</text><text transform="scale(1.03 1)" x="685.87 694.17 698.61" y="227.87" font-size="13.89">4.4</text><text transform="scale(1.03 1)" x="685.87 694.17 698.61" y="200.92" font-size="13.89">4.5</text><text transform="scale(1.03 1)" x="685.77 694.11 698.58" y="173.97" font-size="13.89">4.6</text><text transform="scale(1.03 1)" x="685.77 694.11 698.58" y="147.02" font-size="13.89">4.8</text><text transform="scale(1.03 1)" x="685.77 694.11 698.58" y="120.07" font-size="13.89">4.9</text><text transform="scale(1.03 1)" x="685.87 694.17 698.61" y="93.12" font-size="13.89">5.0</text><text transform="scale(1.03 1)" x="685.87 694.17 698.61" y="66.17" font-size="13.89">5.2</text><rect x="70.5" y="42.5" width="266" height="32" rx="3.33" fill="rgba(255,255,255,0.8)" stroke="rgba(204,204,204,0.8)" stroke-width="1.39"/><circle cx="93.5" cy="59.5" r="3.08" fill="#4b0082"/><text transform="scale(1.03 1)" x="118.71 131.89 142.29 151.65 161.04 171.03 184.77 199.73 209.66 219.7 224.66 237.24 247.42 258.61 271.86 281.76 291.28 300.07 309.54" y="62.96" font-size="18">Обучающее множество</text><rect x="746.5" y="42.5" width="323" height="31" rx="3.33" fill="rgba(255,255,255,0.8)" stroke="rgba(204,204,204,0.8)" stroke-width="1.39"/><circle cx="769.5" cy="58.5" r="3.08" fill="#0000ff"/><text transform="scale(1.03 1)" x="774.89 785.69 795.57 804.91 814.98 825.09 833.8 843.98 854.24 864.78 874.95 884.85 894.88 899.46 910.07 921.3 931.5 936.46 949.04 959.21 970.39 983.64 993.54 1003.05 1011.84 1021.31" y="62.72" font-size="18">Распознанное AE1 множество</text></svg></body></html>
